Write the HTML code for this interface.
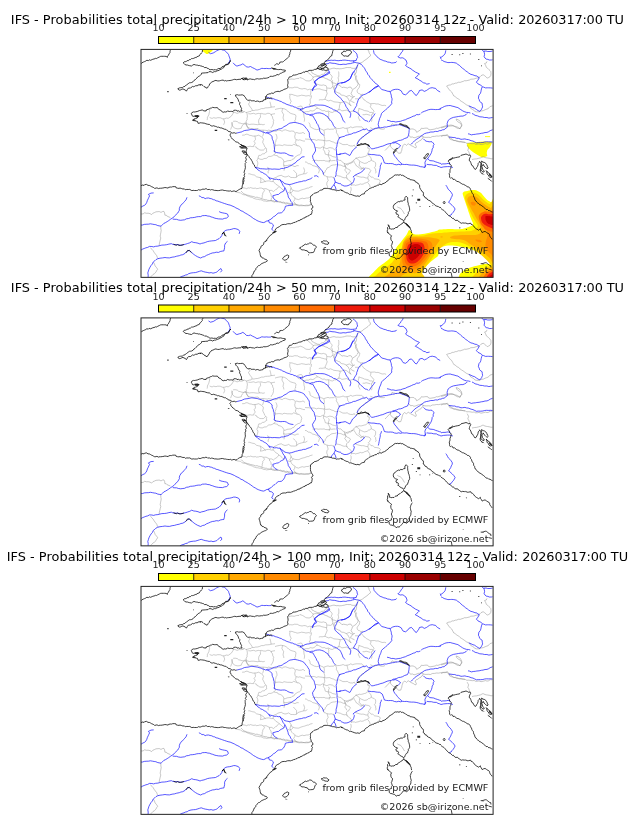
<!DOCTYPE html><html><head><meta charset="utf-8"><title>IFS - Probabilities total precipitation</title>
<style>html,body{margin:0;padding:0;background:#fff}svg{display:block}text{font-family:"DejaVu Sans","Liberation Sans",sans-serif}</style></head><body>
<svg width="630" height="828" viewBox="0 0 630 828">
<defs><clipPath id="clip"><rect x="141.0" y="49.4" width="352.1" height="228.0"/></clipPath><filter id="soft" x="-5%" y="-5%" width="110%" height="110%"><feGaussianBlur stdDeviation="0.45"/></filter></defs>
<rect width="630" height="828" fill="#fff"/>
<g transform="translate(0,0)" clip-path="url(#clip)">
<g filter="url(#soft)">
<path d="M201.9,49.1 C203.5,48.7 211.0,48.8 212.7,49.1 C214.4,49.4 212.6,50.3 212.1,51.0 C211.5,51.6 210.4,52.4 209.5,52.9 C208.7,53.4 207.7,53.9 207.0,53.9 C206.2,53.9 205.7,53.3 205.1,52.9 C204.4,52.5 203.7,52.0 203.2,51.4 C202.6,50.7 200.3,49.5 201.9,49.1Z" fill="#ffff00"/>
<path d="M466.7,143.4 L470.7,142.6 L475.3,142.3 L479.9,141.7 L484.4,141.5 L489.0,141.7 L491.9,142.3 L491.3,144.6 L489.6,147.4 L487.3,149.9 L486.7,153.1 L487.3,156.0 L485.0,157.1 L482.1,157.5 L479.3,156.0 L476.4,154.3 L473.6,152.6 L470.7,150.3 L468.4,148.0 L467.1,145.7Z" fill="#ffff00"/>
<path d="M485.0,136.2 L490.1,136.2 L490.1,137.1 L485.0,137.1Z" fill="#ffff00"/>
<path d="M365.4,280.9 C366.9,278.7 367.9,278.0 369.0,276.8 C370.0,275.6 370.8,274.9 371.7,273.9 C372.7,272.9 373.9,271.8 374.9,270.7 C376.0,269.7 376.9,268.6 378.1,267.5 C379.3,266.5 380.6,265.6 381.9,264.6 C383.2,263.7 384.6,262.7 385.7,261.8 C386.9,260.9 387.9,260.2 388.9,259.3 C389.8,258.3 390.7,257.2 391.4,256.1 C392.2,255.1 392.7,254.0 393.3,252.9 C394.0,251.9 394.6,250.8 395.2,249.8 C395.9,248.7 396.4,247.6 397.1,246.6 C397.9,245.5 398.8,244.5 399.7,243.4 C400.5,242.4 401.4,241.3 402.2,240.2 C403.1,239.2 404.0,238.0 404.8,237.1 C405.5,236.1 406.1,235.4 406.7,234.5 C407.2,233.7 407.5,232.7 407.9,232.0 C408.4,231.2 408.6,230.1 409.2,230.1 C409.8,230.1 410.9,231.3 411.7,232.0 C412.4,232.6 412.5,233.5 413.6,233.9 C414.6,234.3 416.5,234.5 418.0,234.5 C419.5,234.6 421.0,234.4 422.5,234.1 C423.9,233.9 425.3,233.6 426.9,233.3 C428.5,232.9 430.3,232.4 432.0,232.0 C433.7,231.6 435.9,231.1 437.1,230.7 C438.2,230.4 437.7,230.0 438.7,229.8 C439.8,229.6 441.8,229.5 443.3,229.3 C444.8,229.2 446.3,229.1 447.9,229.0 C449.4,228.9 450.9,228.9 452.4,229.0 C454.0,229.1 455.5,229.3 457.0,229.3 C458.5,229.3 460.2,229.2 461.6,229.0 C462.9,228.8 463.3,228.7 465.0,228.2 C466.7,227.7 470.5,226.4 471.9,225.7 C473.2,225.0 472.9,224.7 473.0,224.0 C473.1,223.3 472.7,222.5 472.4,221.7 C472.1,221.0 471.7,220.3 471.3,219.4 C470.9,218.6 470.5,217.6 470.1,216.6 C469.8,215.5 469.4,214.3 469.0,213.1 C468.6,212.0 468.2,210.9 467.9,209.7 C467.5,208.6 467.1,207.4 466.7,206.3 C466.3,205.1 466.0,204.0 465.6,202.9 C465.2,201.7 464.8,200.6 464.4,199.4 C464.0,198.3 463.6,197.0 463.3,196.0 C463.0,195.0 462.5,193.9 462.7,193.1 C462.9,192.4 463.7,191.8 464.4,191.4 C465.2,191.0 466.2,191.0 467.3,190.9 C468.3,190.7 469.5,190.4 470.7,190.3 C472.0,190.2 473.6,190.0 474.7,190.1 C475.9,190.2 476.6,190.4 477.6,190.9 C478.5,191.3 479.6,191.9 480.4,192.6 C481.3,193.2 482.0,194.1 482.7,194.9 C483.4,195.6 483.8,196.4 484.4,197.1 C485.1,197.9 486.0,198.8 486.7,199.4 C487.5,200.1 488.2,200.7 489.0,201.1 C489.8,201.6 490.1,201.9 491.3,202.3 C492.4,202.7 494.4,188.8 495.9,203.4 C497.3,218.0 522.6,275.6 500.0,290.0 C477.4,304.4 382.4,291.5 360.0,290.0 C337.6,288.5 363.9,283.1 365.4,280.9Z" fill="#ffff00"/>
<path d="M417.4,280.9 C410.9,280.4 418.7,278.1 419.3,276.8 C419.9,275.5 420.4,274.5 421.2,273.3 C421.9,272.0 422.8,270.7 423.7,269.4 C424.7,268.2 425.7,266.9 426.9,265.6 C428.1,264.4 429.4,263.0 430.7,261.8 C432.0,260.7 433.3,259.7 434.5,258.7 C435.8,257.6 437.6,257.2 438.3,255.5 C439.0,253.8 438.1,249.9 438.7,248.4 C439.3,247.0 440.9,247.2 442.1,246.7 C443.4,246.3 444.8,246.0 446.1,245.8 C447.5,245.6 448.7,245.6 450.1,245.6 C451.6,245.6 453.2,245.6 454.7,245.8 C456.2,246.0 457.8,246.2 459.3,246.5 C460.8,246.7 462.3,247.0 463.9,247.3 C465.4,247.6 466.9,248.0 468.4,248.4 C470.0,248.9 471.5,249.3 473.0,249.9 C474.5,250.5 476.0,251.2 477.6,251.9 C479.1,252.6 480.8,253.4 482.1,254.1 C483.5,254.9 484.5,255.7 485.6,256.4 C486.6,257.2 487.7,258.0 488.4,258.7 C489.2,259.5 489.8,260.2 490.1,261.0 C490.5,261.8 490.9,262.8 490.7,263.3 C490.5,263.8 489.9,263.7 489.0,263.9 C488.1,264.0 486.7,264.0 485.6,264.1 C484.4,264.2 483.3,264.2 482.1,264.4 C481.0,264.6 479.9,264.9 478.7,265.2 C477.6,265.5 476.4,265.8 475.3,266.1 C474.1,266.4 473.0,266.7 471.9,267.1 C470.7,267.4 469.6,267.7 468.4,268.2 C467.3,268.7 466.0,269.2 465.0,269.8 C464.0,270.4 463.0,271.1 462.1,271.9 C461.3,272.6 460.4,273.3 459.9,274.1 C459.3,275.0 459.0,276.0 458.7,277.0 C458.4,278.0 465.0,279.2 458.1,279.9 C451.3,280.5 423.9,281.4 417.4,280.9Z" fill="#ffffff"/>
<path d="M374.4,279.0 C367.0,278.4 375.4,276.4 376.0,275.5 C376.6,274.6 377.1,274.2 378.0,273.4 C378.9,272.6 380.4,271.7 381.6,270.8 C382.8,269.9 383.9,269.0 385.1,268.1 C386.3,267.2 387.6,266.3 388.7,265.4 C389.8,264.5 390.9,263.8 391.8,262.8 C392.7,261.9 393.3,260.8 394.0,259.7 C394.7,258.6 395.5,257.2 396.2,256.1 C396.9,255.0 397.3,254.0 398.0,253.0 C398.7,252.0 399.5,251.4 400.2,250.3 C400.9,249.2 401.8,247.8 402.2,246.5 C402.6,245.2 402.4,243.5 402.9,242.2 C403.4,240.9 404.4,239.7 405.1,238.7 C405.8,237.7 406.5,236.8 407.3,236.2 C408.1,235.6 409.0,235.1 410.0,235.0 C411.0,234.9 412.0,235.3 413.1,235.4 C414.2,235.5 415.5,235.7 416.7,235.8 C417.9,235.9 419.0,235.9 420.2,235.8 C421.4,235.7 422.6,235.6 423.8,235.4 C425.0,235.2 426.1,234.9 427.3,234.6 C428.5,234.3 429.7,234.0 430.9,233.8 C432.1,233.6 433.2,233.4 434.4,233.3 C435.6,233.2 436.8,233.1 438.0,233.0 C439.2,232.9 440.5,233.0 441.6,232.9 C442.7,232.8 443.2,232.7 444.4,232.6 C445.6,232.5 447.4,232.3 448.9,232.2 C450.4,232.1 451.8,232.1 453.3,232.0 C454.8,231.9 456.3,231.9 457.8,231.8 C459.3,231.7 460.7,231.7 462.2,231.6 C463.7,231.5 465.2,231.4 466.7,231.3 C468.2,231.2 469.8,231.2 471.1,230.9 C472.4,230.6 473.7,230.2 474.7,229.6 C475.7,229.0 476.8,228.1 477.3,227.3 C477.8,226.6 477.8,225.8 477.6,225.1 C477.5,224.4 476.9,223.7 476.4,222.9 C475.9,222.2 475.3,221.5 474.7,220.6 C474.1,219.7 473.6,218.8 473.0,217.7 C472.4,216.6 471.8,215.4 471.3,214.3 C470.8,213.2 470.3,212.1 469.8,210.9 C469.3,209.8 468.7,208.6 468.2,207.4 C467.7,206.2 467.1,205.1 466.7,204.0 C466.3,202.9 465.9,201.8 465.6,200.6 C465.3,199.4 464.8,198.1 465.0,197.1 C465.2,196.1 465.9,195.0 466.7,194.3 C467.5,193.6 468.6,193.1 469.6,192.8 C470.7,192.5 471.9,192.5 473.0,192.6 C474.1,192.7 475.3,193.0 476.4,193.5 C477.4,194.0 478.4,194.7 479.3,195.4 C480.2,196.1 480.8,196.9 481.6,197.7 C482.4,198.5 483.0,199.2 483.9,200.0 C484.8,200.8 485.8,201.6 486.7,202.3 C487.6,203.0 488.2,203.5 489.6,204.0 C491.0,204.5 494.1,194.8 495.0,205.1 C495.9,215.3 495.8,255.7 495.0,265.5 C494.2,275.3 491.7,264.7 490.5,264.0 C489.3,263.3 488.9,262.4 488.0,261.5 C487.1,260.6 486.2,259.6 485.0,258.5 C483.8,257.4 482.3,256.0 480.6,254.6 C478.9,253.2 476.8,251.3 475.0,250.0 C473.2,248.7 471.6,247.7 469.9,246.7 C468.2,245.7 466.8,244.6 465.0,243.9 C463.2,243.2 461.1,242.6 459.4,242.3 C457.7,242.0 456.1,241.9 454.7,241.9 C453.2,241.9 452.0,242.0 450.7,242.3 C449.4,242.6 447.9,243.0 446.7,243.5 C445.5,244.0 444.6,244.8 443.6,245.5 C442.6,246.2 441.7,247.1 440.8,247.9 C439.9,248.7 439.2,249.3 438.4,250.2 C437.6,251.0 436.8,252.0 436.0,253.0 C435.2,254.0 434.5,255.1 433.7,256.2 C432.9,257.3 432.1,258.3 431.3,259.4 C430.5,260.4 429.7,261.4 428.9,262.5 C428.1,263.6 427.3,264.6 426.5,265.7 C425.7,266.8 424.8,268.1 424.1,269.3 C423.4,270.5 422.7,271.3 422.1,272.9 C421.5,274.5 428.6,278.0 420.6,279.0 C412.7,280.0 381.8,279.6 374.4,279.0Z" fill="#ffd000"/>
<path d="M384.2,279.0 C382.3,278.3 386.6,275.9 387.8,274.8 C389.0,273.7 390.1,273.4 391.3,272.6 C392.5,271.9 393.8,271.1 394.9,270.3 C395.9,269.5 396.9,268.6 397.6,267.7 C398.3,266.8 398.9,265.7 399.3,264.6 C399.8,263.5 400.1,262.4 400.3,261.0 C400.6,259.6 400.6,257.7 400.8,256.0 C401.0,254.3 401.2,252.7 401.5,251.0 C401.8,249.3 402.1,247.6 402.5,246.0 C402.9,244.4 403.2,242.8 404.0,241.5 C404.8,240.2 405.8,239.2 407.0,238.5 C408.2,237.8 409.5,237.2 411.0,237.0 C412.5,236.8 414.3,236.9 416.0,237.0 C417.7,237.1 419.3,237.3 421.0,237.3 C422.7,237.3 424.3,237.2 426.0,237.2 C427.7,237.2 429.5,237.3 431.0,237.5 C432.5,237.7 433.8,238.1 435.0,238.3 C436.2,238.6 437.2,238.7 438.0,239.0 C438.8,239.3 439.4,239.5 439.6,239.9 C439.8,240.3 439.4,240.9 439.0,241.5 C438.6,242.1 438.0,242.8 437.5,243.5 C437.0,244.2 436.4,245.1 435.8,246.0 C435.2,246.9 434.6,248.0 434.0,249.0 C433.4,250.0 432.9,251.0 432.3,252.0 C431.7,253.0 431.2,254.0 430.6,255.0 C430.1,256.0 429.6,257.0 429.0,258.0 C428.4,259.0 427.7,260.0 427.0,261.0 C426.3,262.0 425.8,262.9 425.0,264.0 C424.2,265.1 423.4,266.2 422.5,267.3 C421.6,268.4 420.9,269.6 419.8,270.5 C418.7,271.4 417.5,272.6 416.0,273.0 C414.5,273.4 412.6,273.0 411.0,273.0 C409.4,273.0 407.7,272.9 406.4,273.2 C405.1,273.5 404.0,274.4 403.0,275.0 C402.0,275.6 401.1,276.3 400.5,277.0 C399.9,277.7 402.0,278.7 399.3,279.0 C396.6,279.3 386.1,279.7 384.2,279.0Z" fill="#ffa800"/>
<path d="M450.0,237.2 C450.1,236.8 451.2,236.5 452.0,236.2 C452.8,235.9 453.5,235.8 454.7,235.6 C455.9,235.4 457.7,235.3 459.4,235.2 C461.1,235.1 463.2,234.9 465.0,234.9 C466.8,234.9 468.2,235.0 470.0,235.0 C471.8,235.0 474.1,235.2 475.6,235.0 C477.1,234.8 478.2,234.5 479.1,234.0 C480.0,233.5 480.6,232.8 481.0,232.0 C481.4,231.2 481.4,230.5 481.3,229.5 C481.2,228.5 480.9,227.2 480.5,226.0 C480.1,224.8 479.6,223.6 479.0,222.5 C478.4,221.4 477.6,220.4 477.0,219.4 C476.4,218.4 475.9,217.7 475.3,216.6 C474.7,215.5 474.2,214.2 473.6,213.1 C473.0,211.9 472.2,210.8 471.6,209.7 C471.0,208.6 470.4,207.4 469.8,206.3 C469.2,205.2 468.6,204.1 468.2,202.9 C467.8,201.8 467.2,200.5 467.3,199.4 C467.4,198.3 468.2,197.3 469.0,196.6 C469.8,195.9 470.9,195.5 471.9,195.4 C472.8,195.3 473.8,195.6 474.7,196.0 C475.6,196.4 476.7,197.0 477.6,197.7 C478.5,198.4 479.1,199.2 479.9,200.0 C480.6,200.8 481.2,201.5 482.1,202.3 C483.0,203.1 484.0,203.9 485.0,204.6 C486.0,205.3 486.9,205.9 487.9,206.5 C488.8,207.1 489.5,207.7 490.7,208.0 C491.9,208.3 494.3,199.8 495.0,208.6 C495.7,217.3 496.0,252.4 495.0,260.5 C494.0,268.6 490.8,258.5 489.1,257.4 C487.4,256.3 486.4,255.2 485.0,254.0 C483.6,252.8 482.3,251.5 480.6,250.3 C478.9,249.1 476.8,248.1 475.0,247.0 C473.2,245.9 471.6,245.0 469.9,243.9 C468.2,242.8 466.8,241.4 465.0,240.6 C463.2,239.8 461.1,239.6 459.4,239.3 C457.7,239.0 456.0,239.0 454.7,238.9 C453.4,238.8 452.3,238.9 451.5,238.6 C450.7,238.3 449.9,237.6 450.0,237.2Z" fill="#ffa800"/>
<path d="M440.6,236.5 L442.5,236.3 L442.5,237.5 L440.6,237.6Z" fill="#ffa800"/>
<path d="M405.5,241.5 C406.5,240.5 408.4,239.5 410.0,239.0 C411.6,238.5 413.1,238.5 415.0,238.5 C416.9,238.5 419.3,238.6 421.3,238.8 C423.3,239.0 425.3,239.3 426.9,239.8 C428.5,240.3 430.0,240.9 430.9,241.9 C431.8,242.9 432.5,244.3 432.5,245.9 C432.5,247.5 431.6,249.7 430.9,251.4 C430.2,253.1 429.2,254.6 428.1,256.2 C427.0,257.8 425.8,259.5 424.5,261.0 C423.2,262.5 421.9,264.1 420.6,265.3 C419.3,266.6 418.0,267.7 416.6,268.5 C415.2,269.3 413.4,269.8 412.0,270.0 C410.6,270.2 409.2,269.9 408.0,269.5 C406.8,269.1 405.4,268.6 404.5,267.5 C403.6,266.4 402.9,264.9 402.5,263.0 C402.1,261.1 402.2,258.3 402.3,256.0 C402.4,253.7 402.9,250.8 403.2,249.0 C403.5,247.2 403.6,246.2 404.0,245.0 C404.4,243.8 404.5,242.5 405.5,241.5Z" fill="#ff8a00"/>
<path d="M407.0,242.8 C408.0,242.0 410.2,240.9 412.0,240.5 C413.8,240.1 416.2,240.2 418.0,240.3 C419.8,240.4 421.5,240.6 423.0,241.0 C424.5,241.4 426.0,241.4 426.9,242.5 C427.8,243.6 428.5,245.6 428.5,247.5 C428.5,249.4 427.7,252.0 426.9,253.8 C426.1,255.7 424.9,257.0 423.7,258.6 C422.5,260.2 421.2,262.1 419.8,263.3 C418.4,264.5 417.0,265.5 415.5,266.0 C414.0,266.5 412.4,266.7 411.0,266.5 C409.6,266.3 408.0,265.9 407.0,265.0 C406.0,264.1 405.2,262.7 404.8,261.0 C404.4,259.3 404.5,257.0 404.5,255.0 C404.5,253.0 404.8,250.6 405.0,249.0 C405.2,247.4 405.5,246.5 405.8,245.5 C406.1,244.5 406.0,243.6 407.0,242.8Z" fill="#ff6a00"/>
<path d="M409.0,244.3 C410.0,243.6 411.9,242.6 413.5,242.3 C415.1,242.0 417.0,242.2 418.5,242.3 C420.0,242.5 421.5,242.5 422.5,243.2 C423.5,243.9 424.0,245.1 424.3,246.5 C424.6,247.9 425.0,249.5 424.5,251.4 C424.0,253.3 422.5,256.1 421.3,257.8 C420.1,259.5 418.7,260.8 417.4,261.7 C416.1,262.6 414.8,263.3 413.5,263.5 C412.2,263.7 410.6,263.6 409.5,263.0 C408.4,262.4 407.5,261.3 407.0,260.0 C406.5,258.7 406.3,256.7 406.3,255.0 C406.3,253.3 406.6,251.4 406.8,250.0 C407.0,248.6 407.2,247.4 407.6,246.5 C408.0,245.6 408.0,245.0 409.0,244.3Z" fill="#ee1a0a"/>
<path d="M410.9,245.9 C411.8,245.3 413.2,244.4 414.5,244.2 C415.8,244.0 417.4,244.1 418.5,244.5 C419.6,244.9 420.5,245.5 421.0,246.5 C421.5,247.5 421.6,249.1 421.3,250.6 C421.0,252.1 420.0,254.0 419.0,255.4 C418.0,256.8 416.7,258.1 415.5,259.0 C414.3,259.9 413.0,260.5 412.0,260.5 C411.0,260.5 409.9,259.8 409.3,259.0 C408.7,258.2 408.4,256.9 408.2,255.6 C408.0,254.3 408.2,252.8 408.4,251.5 C408.6,250.2 408.9,248.9 409.3,248.0 C409.7,247.1 410.0,246.5 410.9,245.9Z" fill="#cc0000"/>
<path d="M475.5,239.5 C475.8,239.2 477.9,239.5 479.0,239.8 C480.1,240.1 481.8,240.9 482.0,241.3 C482.2,241.7 480.8,242.2 480.0,242.2 C479.2,242.2 477.8,241.9 477.0,241.5 C476.2,241.1 475.2,239.8 475.5,239.5Z" fill="#ff8a00"/>
<path d="M470.7,202.3 C471.0,201.8 472.7,201.5 473.6,201.7 C474.4,201.9 475.7,202.8 475.9,203.4 C476.0,204.0 475.4,205.1 474.7,205.4 C474.0,205.6 472.5,205.4 471.9,204.9 C471.2,204.4 470.4,202.8 470.7,202.3Z" fill="#ff8a00"/>
<path d="M481.0,216.0 C481.2,214.8 482.2,214.2 483.0,213.5 C483.8,212.8 484.8,212.2 486.0,212.0 C487.2,211.8 488.5,211.9 490.0,212.0 C491.5,212.1 494.2,205.2 495.0,212.5 C495.8,219.8 495.7,249.1 495.0,256.0 C494.3,262.9 492.2,254.9 491.0,254.0 C489.8,253.1 488.4,251.8 487.5,250.5 C486.6,249.2 485.8,247.6 485.5,246.0 C485.2,244.4 485.7,242.7 486.0,241.0 C486.3,239.3 487.3,237.7 487.5,236.0 C487.7,234.3 487.5,232.7 487.0,231.0 C486.5,229.3 485.4,227.7 484.5,226.0 C483.6,224.3 482.1,222.7 481.5,221.0 C480.9,219.3 480.8,217.2 481.0,216.0Z" fill="#ff8a00"/>
<path d="M478.7,216.6 C478.8,215.0 480.0,214.0 481.0,213.1 C482.0,212.3 483.2,211.7 484.4,211.4 C485.7,211.2 486.7,211.6 488.4,211.8 C490.1,212.0 493.7,209.5 494.7,212.6 C495.8,215.7 496.0,227.3 494.7,230.3 C493.4,233.2 488.6,230.9 486.7,230.3 C484.8,229.7 484.3,228.1 483.3,226.9 C482.2,225.6 481.2,224.6 480.4,222.9 C479.7,221.1 478.6,218.2 478.7,216.6Z" fill="#ff6a00"/>
<path d="M481.0,217.7 C481.1,216.5 482.0,215.5 482.7,214.9 C483.5,214.2 484.5,213.8 485.6,213.7 C486.6,213.6 487.5,214.0 489.0,214.3 C490.5,214.6 493.8,213.1 494.7,215.4 C495.7,217.7 495.7,226.1 494.7,228.0 C493.8,229.9 490.6,227.3 489.0,226.9 C487.4,226.4 486.1,225.9 485.0,225.1 C483.9,224.4 482.8,223.5 482.1,222.3 C481.5,221.0 480.9,219.0 481.0,217.7Z" fill="#ee1a0a"/>
<path d="M485.6,216.6 C486.0,215.8 487.5,216.2 489.0,216.3 C490.5,216.5 493.8,216.3 494.7,217.7 C495.7,219.1 495.7,223.5 494.7,224.6 C493.8,225.6 490.4,224.6 489.0,224.0 C487.6,223.4 486.7,222.4 486.1,221.1 C485.6,219.9 485.1,217.4 485.6,216.6Z" fill="#cc0000"/>
<path d="M473.0,279.0 C469.7,278.2 474.0,275.4 475.0,274.0 C476.0,272.6 477.5,271.5 479.0,270.5 C480.5,269.5 482.3,268.7 484.0,268.0 C485.7,267.3 487.2,266.8 489.0,266.5 C490.8,266.2 494.0,263.9 495.0,266.0 C496.0,268.1 498.7,276.8 495.0,279.0 C491.3,281.2 476.3,279.8 473.0,279.0Z" fill="#ffd000"/>
<path d="M479.0,279.0 C476.6,278.3 479.8,276.2 480.5,275.0 C481.2,273.8 482.2,272.9 483.5,272.0 C484.8,271.1 486.1,270.0 488.0,269.3 C489.9,268.6 493.8,266.2 495.0,267.8 C496.2,269.4 497.7,277.1 495.0,279.0 C492.3,280.9 481.4,279.7 479.0,279.0Z" fill="#ffa800"/>
<path d="M483.4,279.0 C481.6,278.4 484.0,276.5 484.5,275.5 C485.0,274.5 485.6,273.8 486.5,273.0 C487.4,272.2 488.6,271.4 490.0,270.8 C491.4,270.2 494.2,268.3 495.0,269.7 C495.8,271.1 496.9,277.4 495.0,279.0 C493.1,280.6 485.1,279.6 483.4,279.0Z" fill="#ff6a00"/>
<path d="M486.3,279.0 C485.0,278.5 486.9,276.8 487.3,276.0 C487.8,275.2 488.3,274.6 489.0,274.0 C489.7,273.4 490.5,272.7 491.5,272.3 C492.5,271.9 494.4,270.5 495.0,271.6 C495.6,272.7 496.4,277.8 495.0,279.0 C493.6,280.2 487.6,279.5 486.3,279.0Z" fill="#ee1a0a"/>
<path d="M489.0,279.0 C488.1,278.6 489.4,277.2 489.8,276.5 C490.2,275.8 490.6,275.3 491.5,274.8 C492.4,274.3 494.4,272.9 495.0,273.6 C495.6,274.3 496.0,278.1 495.0,279.0 C494.0,279.9 489.9,279.4 489.0,279.0Z" fill="#cc0000"/>
<path d="M389.0,71.8 L390.6,71.8 L390.6,73.0 L389.0,73.0Z" fill="#ffff00"/>
</g>
<path d="M210.2,109.3 L209.5,110.5 L209.6,111.5 L209.0,113.8 L208.9,114.6 L208.0,116.3 L207.4,117.5 L207.4,118.7 L207.1,120.1 M209.6,117.5 L211.1,118.1 L212.1,118.4 L213.7,117.7 L216.0,118.2 L217.5,117.7 L219.4,117.7 L220.8,117.9 L222.2,118.7 L223.4,118.8 L224.6,118.7 L226.7,118.0 L228.1,118.4 L228.9,117.9 L230.9,116.4 L231.6,115.8 L232.8,113.9 L233.4,112.8 L233.7,111.8 M231.8,122.0 L231.9,123.2 L232.3,124.8 L232.4,125.7 L231.5,127.2 L230.6,129.6 M233.1,112.5 L234.8,112.4 L237.1,113.4 L239.3,112.5 L240.3,112.7 L242.2,112.6 L243.9,111.8 M246.4,112.5 L247.0,113.5 L247.3,115.4 L247.4,116.5 L247.0,118.4 L247.1,119.7 L246.1,121.2 L246.5,122.5 L246.0,123.9 L246.4,125.2 L246.8,126.5 L248.1,127.3 L248.3,129.0 M241.3,111.2 L242.7,112.0 L244.8,111.5 L245.9,112.6 L248.0,112.1 L249.2,111.6 L251.1,111.4 L251.8,110.7 L252.0,109.4 L251.0,107.9 L250.4,107.2 L249.4,105.7 L248.5,104.0 L249.9,102.1 L248.3,100.4 M252.1,110.5 L254.1,110.5 L255.6,110.1 L257.4,110.0 L259.3,109.5 L261.5,108.6 L263.5,108.6 L265.4,107.9 L267.4,107.8 L269.8,107.6 L271.1,107.1 L273.6,106.9 L275.0,106.7 M248.3,113.7 L250.4,113.9 L252.0,113.6 L253.8,113.3 L255.5,114.1 L258.2,113.4 L259.7,113.6 L261.4,113.4 L263.6,114.0 L265.9,114.1 L267.1,113.4 L269.2,113.3 L271.1,114.5 L272.9,114.0 L275.0,113.7 M233.1,121.3 L235.2,121.2 L237.3,121.6 L238.6,122.8 L240.2,123.1 L241.9,123.7 L243.4,123.9 L245.8,123.9 M245.8,123.9 L247.4,123.9 L249.2,124.5 L251.5,124.2 L253.7,124.2 L255.1,124.4 L257.6,124.7 L259.4,124.4 L261.5,124.4 L263.0,124.8 L264.8,124.3 M261.0,114.1 L260.3,115.1 L260.6,117.0 L260.0,117.9 L259.1,119.1 L258.7,120.5 L258.6,121.8 L258.9,123.4 L259.8,124.5 M269.9,101.7 L270.6,104.2 L271.2,107.4 M271.2,114.1 L271.4,115.8 L272.5,116.6 L272.7,118.5 L273.7,120.3 L273.3,121.6 L273.5,123.0 L272.9,124.9 L272.3,126.2 L271.3,127.4 L271.2,128.3 M223.6,118.8 L224.0,120.1 L224.7,122.1 L224.2,123.4 L223.6,124.8 M288.3,79.1 L289.4,79.6 L291.0,79.0 L292.9,79.1 L294.2,79.3 L295.3,78.9 L296.8,78.5 L299.0,78.4 L299.9,77.5 L302.4,78.4 L303.5,79.0 L305.4,80.3 L306.9,80.9 L308.1,80.8 L309.0,81.1 L311.0,80.2 L312.3,79.1 L313.4,77.0 L312.4,76.5 L311.6,75.6 L310.3,74.1 L308.9,73.4 L307.4,71.5 M289.0,88.0 L290.3,87.7 L292.2,87.9 L293.8,87.5 L294.6,87.2 L296.4,87.3 L297.7,87.4 L299.0,88.3 L300.5,88.7 L302.1,89.0 L303.6,88.6 L305.2,88.6 L306.7,89.2 L307.7,89.9 L309.6,89.2 L311.7,89.6 L312.4,89.2 L313.8,89.7 L315.7,89.3 L317.3,88.9 L319.9,88.9 L321.8,89.7 L322.9,89.9 L324.4,90.3 L326.7,90.7 L326.8,89.6 L326.7,88.0 L326.5,86.6 L326.1,85.7 L324.9,85.4 L323.4,84.9 L321.8,85.3 L319.5,85.0 L318.6,84.6 L316.5,84.0 L315.8,83.7 L314.5,82.5 L314.2,81.0 L313.1,79.1 M311.2,89.9 L310.8,91.5 L310.8,92.9 L310.5,94.8 L311.5,96.0 L311.1,98.2 L310.2,99.1 L310.2,100.9 L310.4,103.1 L309.5,104.2 L309.3,105.2 M289.0,94.4 L291.0,94.3 L293.2,94.7 L293.8,95.2 L295.3,95.4 L297.1,96.1 L298.6,95.9 L300.5,95.5 L301.4,95.2 L303.1,95.4 L304.8,95.7 L305.9,96.0 L308.1,95.7 L308.9,95.6 L310.6,96.3 M290.2,95.0 L289.7,96.1 L289.9,98.5 L290.6,100.2 L291.2,101.4 L290.6,102.1 L290.2,103.9 M326.4,90.5 L326.6,91.9 L327.2,93.3 L326.5,95.2 L325.8,96.8 L325.1,98.4 L325.5,99.5 L326.4,100.0 L328.7,100.9 L330.5,100.3 L332.5,101.1 L333.8,101.8 L336.3,102.1 L337.6,102.2 L339.8,102.6 M318.8,100.1 L320.3,99.7 L322.2,99.8 L323.4,99.6 L325.2,99.4 M297.2,107.1 L298.9,106.6 L300.2,106.1 L301.5,106.1 L302.3,107.1 L302.9,109.8 L301.5,109.8 L300.3,110.3 L299.1,110.2 L297.6,109.3 M275.0,109.6 L276.4,109.1 L279.2,108.5 L281.0,108.2 L282.8,108.6 L284.3,108.8 L286.2,109.8 L287.7,111.0 L288.8,112.2 L290.7,113.4 L292.0,113.8 L293.4,114.2 L295.3,114.7 M302.9,112.1 L304.7,112.1 L306.4,111.6 L308.9,111.6 L310.1,110.6 L312.5,111.0 L314.0,110.6 L315.5,109.3 L317.3,107.9 L315.5,106.1 L314.0,105.8 L313.3,105.6 L310.8,105.6 L309.3,105.2 M316.9,108.3 L318.8,108.6 L321.0,109.9 L322.3,110.7 L324.8,110.6 L325.9,111.5 L328.7,111.1 L330.5,112.1 L332.3,112.5 L334.5,111.3 L336.3,111.3 L337.0,110.4 L338.7,109.9 L339.2,108.1 L339.5,107.1 L339.4,105.9 L340.2,103.8 L339.8,102.6 M328.3,111.5 L328.8,113.3 L328.6,115.0 L328.9,116.1 L327.9,117.6 L329.2,119.4 L329.6,121.0 M334.7,91.8 L336.9,92.1 L338.1,92.9 L340.1,93.4 L340.6,94.6 L341.9,95.2 L343.8,95.4 L346.3,96.6 L347.9,95.9 L349.5,95.5 L350.9,96.6 L352.7,97.2 L353.8,96.8 L355.0,96.3 M327.1,88.0 L328.6,88.2 L330.7,88.4 L332.1,87.4 L332.6,86.5 L333.8,88.1 L334.0,89.2 L334.8,91.0 L334.7,91.8 M346.1,96.3 L347.0,97.6 L348.4,98.6 L348.7,99.7 L349.9,101.6 L349.3,102.5 L349.8,103.9 L350.1,105.2 L351.2,105.8 M295.3,114.7 L296.0,116.1 L295.6,118.0 L295.6,119.5 L294.8,120.2 L295.3,122.3 M282.6,108.3 L282.3,109.7 L281.9,111.5 L283.0,113.5 L283.7,114.7 L283.4,115.9 L283.0,118.0 L283.6,119.3 L283.9,121.0 M302.9,112.1 L303.7,113.2 L303.9,115.6 L304.1,117.2 L304.6,118.7 L304.5,120.0 L304.2,121.7 M339.8,102.6 L341.4,102.6 L343.8,101.6 L346.0,102.0 L347.3,102.5 L348.7,104.1 L350.4,104.9 L351.2,105.8 M338.5,109.6 L340.3,109.8 L341.9,110.9 L344.3,110.5 L346.6,110.1 L347.9,110.8 L349.6,111.9 L351.9,111.2 L353.7,110.9 M307.4,71.5 L310.6,70.2 M313.1,77.2 L314.9,76.6 L316.7,76.6 L318.8,76.4 L320.8,75.0 L321.9,74.3 L323.7,74.3 L325.2,72.5 L325.8,71.5 M325.8,71.5 L327.3,72.1 L328.4,72.8 L329.1,73.0 L331.0,74.9 L332.0,76.4 L332.1,77.3 L331.1,79.2 L332.3,80.4 L332.3,82.3 L332.3,84.0 L332.9,85.0 L332.8,86.7 M338.5,71.5 L338.8,72.8 L338.8,74.4 L338.8,76.2 L338.1,77.7 L338.5,79.5 L338.6,80.9 L337.9,82.3 L337.7,84.4 L336.0,85.3 L334.3,85.9 L334.1,88.0 L334.0,89.3 M355.0,72.8 L355.1,74.3 L356.6,76.2 L356.2,77.3 L355.4,79.3 L356.4,80.9 L357.4,82.6 L358.6,83.9 L359.9,84.7 L359.6,85.9 L359.2,87.5 L357.9,89.2 L357.2,90.4 L357.2,92.1 L358.2,93.3 L359.4,93.6 L361.0,94.7 L362.0,94.2 L363.3,94.4 M360.7,95.0 L361.4,96.7 L362.9,98.3 L363.8,99.7 L365.3,100.4 L366.5,101.8 L367.9,102.3 L369.1,103.1 L370.5,103.7 L373.0,103.6 L374.4,103.5 L376.2,104.0 L378.1,103.9 L380.1,104.7 L382.1,105.5 L384.6,105.3 L386.1,105.8 M370.9,103.9 L370.8,105.7 L370.3,106.8 L371.6,108.5 L371.7,108.8 L372.9,109.6 L374.0,111.3 L373.3,112.5 L373.2,112.9 L372.9,114.1 L371.2,114.9 L371.7,116.5 L371.8,118.2 L371.9,120.0 L371.5,121.7 M358.8,108.3 L360.5,109.0 L362.9,109.8 L364.4,110.6 L366.7,110.9 L368.3,111.3 L369.9,112.5 L371.9,112.4 L373.4,113.4 M355.0,98.8 L358.2,98.8 L360.7,98.2 M362.6,114.7 L364.9,114.7 L366.0,114.2 L368.1,114.7 L370.2,115.3 M358.8,108.3 L358.8,109.8 L358.2,111.7 L358.5,113.2 L359.4,115.2 L358.8,116.5 L358.4,117.6 L359.1,119.1 L360.1,121.0 M245.3,122.5 L246.0,123.8 L246.9,125.3 L247.7,127.3 L248.1,127.9 L250.7,128.5 L252.7,128.7 L254.1,129.0 L256.0,128.7 L258.1,128.5 L259.3,129.9 L260.8,130.2 L263.1,130.1 M242.1,135.2 L244.3,135.1 L246.1,134.2 L247.9,134.4 L249.2,135.2 L250.2,135.4 L251.8,135.7 L252.9,136.1 L254.7,136.1 L256.7,135.8 L258.5,135.2 L259.8,135.8 L261.4,136.8 L262.6,137.7 L263.6,139.5 L263.2,140.2 L262.7,142.4 L263.2,143.3 L264.2,145.3 L264.8,146.9 L265.4,147.4 L266.7,148.9 L266.4,150.1 L266.8,151.9 L265.3,152.6 L264.4,153.8 L262.5,153.9 L260.8,155.3 L258.8,155.4 L258.2,157.3 L258.0,158.1 M246.0,146.6 L247.5,146.8 L250.1,146.2 L251.2,146.5 L253.6,146.6 L253.9,145.4 L255.1,143.7 L254.9,142.7 L254.0,141.3 L254.8,140.4 L255.5,139.4 L255.2,137.4 L254.8,135.8 M254.8,146.6 L256.6,147.3 L256.9,148.4 L258.5,149.1 L259.8,150.0 L261.9,150.1 L263.5,150.0 L264.6,149.1 L265.6,147.9 M258.0,158.1 L259.4,158.9 L260.9,159.4 L262.9,159.3 L264.0,158.5 L266.3,158.4 L268.0,157.0 L268.8,156.4 L270.9,156.4 L272.4,155.8 L273.9,154.9 L275.6,153.1 L274.5,151.1 M258.0,158.1 L257.5,159.4 L256.7,160.9 L257.5,161.5 L257.9,163.1 L257.6,164.8 L257.2,166.2 L256.1,168.2 M273.9,154.9 L275.4,155.4 L277.5,155.7 L278.2,157.0 L280.1,157.4 L281.6,158.2 L282.5,158.8 L283.8,161.0 L283.8,161.8 L283.6,163.0 L283.8,165.4 L283.8,166.1 L284.9,167.9 L284.3,169.1 L284.0,170.8 M275.2,145.4 L276.5,145.3 L278.7,145.1 L279.9,145.1 L282.6,145.6 L284.0,144.7 L285.5,145.0 L287.4,145.3 L289.9,145.3 L292.1,145.5 L293.7,144.3 L295.6,145.0 L297.1,145.8 L299.2,145.9 L300.3,147.1 L301.3,148.4 L301.8,150.1 L301.2,151.6 L301.0,153.4 L300.7,153.8 L299.3,154.9 M275.8,133.9 L276.5,135.1 L277.0,137.2 L276.9,138.5 L276.0,139.9 L275.9,141.2 L275.0,142.9 L275.6,145.4 L274.7,147.3 L274.5,149.4 L274.5,151.1 M278.3,130.1 L279.9,130.2 L282.1,131.2 L283.7,130.1 L285.6,129.8 L287.7,130.6 L290.0,131.3 L291.6,131.0 L293.8,131.2 L294.4,132.1 L295.2,133.1 L295.2,134.7 L294.7,136.2 L295.1,138.4 L296.0,139.8 L295.8,141.3 L295.2,142.5 L296.3,144.3 L297.4,145.4 M267.5,166.9 L268.2,168.0 L269.0,170.1 L268.1,171.5 L268.2,173.3 M283.4,165.0 L285.0,165.7 L287.3,165.5 L288.9,165.1 L290.8,164.9 L293.2,166.0 L295.0,166.7 L296.9,165.6 L298.7,165.7 M295.5,132.7 L296.9,132.6 L299.0,133.3 L301.5,133.1 L303.0,132.4 L305.0,133.9 M296.1,139.6 L298.5,140.2 L299.8,139.8 L302.3,140.7 L304.1,141.2 L305.0,140.9 M263.1,130.1 L265.2,130.3 L267.3,130.6 L268.4,130.1 L271.0,130.6 L272.8,130.9 L274.3,131.2 L276.0,131.2 L278.3,130.1 M263.1,130.1 L263.0,131.8 L263.6,133.0 L263.0,135.3 L262.5,136.5 M232.6,122.5 L232.0,123.8 L232.1,125.8 L232.9,126.6 L234.3,127.8 L235.2,128.3 L237.1,128.8 L239.0,128.8 L241.3,128.2 L241.5,127.1 L242.6,125.2 L243.8,124.0 L245.3,122.5 M299.3,154.9 L298.0,155.1 L295.9,156.5 L295.0,157.0 L293.8,159.0 L292.2,159.3 L291.2,160.4 L288.8,160.6 L287.1,160.9 L285.5,161.6 L284.0,161.9 M305.0,139.0 L307.0,139.2 L309.1,139.2 L310.5,139.8 L313.0,139.4 L314.8,139.7 L316.7,140.4 L318.0,139.7 L319.8,140.0 L322.0,140.2 L324.1,140.5 L326.2,140.9 L328.2,140.7 L329.6,140.6 L331.9,141.7 L333.4,142.0 L335.1,143.1 L336.8,143.1 L338.3,142.8 M324.0,135.2 L324.2,136.6 L324.7,138.6 L324.7,139.5 L324.2,140.8 L324.7,143.1 L324.7,144.6 L323.8,146.7 L323.7,147.7 L323.3,149.5 L324.5,151.2 L325.0,153.0 L325.3,154.2 M315.2,147.3 L317.1,147.6 L318.9,148.0 L320.5,148.0 L322.4,146.9 L324.9,148.0 L326.9,148.7 L328.9,147.8 L329.9,147.6 L332.6,148.2 L334.2,149.4 L335.5,150.4 M325.3,154.2 L326.9,154.6 L329.5,155.1 L330.9,155.5 L332.7,156.6 L334.8,157.0 L336.1,157.4 M312.6,160.6 L314.3,160.5 L316.4,160.3 L318.2,160.7 L320.4,160.5 L322.2,160.6 L324.1,160.4 L325.5,161.0 L328.1,161.2 L330.1,160.6 L331.5,160.8 L333.9,160.5 L335.5,160.6 M328.5,149.8 L329.3,151.5 L328.7,152.6 L328.4,154.6 L328.3,155.9 L329.1,157.3 L330.2,159.7 L329.5,160.9 L329.1,162.5 M339.3,142.8 L341.0,143.6 L342.9,144.6 L345.5,144.6 L347.2,144.3 L348.4,145.2 L350.3,145.9 L352.8,146.0 L354.3,145.1 L354.6,145.8 L355.8,147.3 M371.0,130.8 L369.2,131.6 L367.9,133.1 L366.4,134.3 L364.8,135.0 L363.3,136.7 L361.7,137.7 L360.2,138.8 L358.5,140.2 L358.1,141.2 L357.4,143.2 L358.1,144.7 L358.3,146.0 M368.5,145.4 L368.2,146.3 L367.6,148.1 L369.3,148.5 L369.3,149.7 L369.0,151.2 L368.1,152.7 L367.2,154.2 M337.4,159.3 L339.1,160.4 L341.0,160.4 L342.5,162.3 L344.5,163.5 L345.5,163.8 L347.8,164.9 L349.6,163.4 L350.6,163.6 L352.3,162.3 L353.6,160.1 L355.3,159.1 L355.9,157.9 L357.5,157.9 L359.4,157.2 L360.3,157.4 L361.7,157.3 L364.5,156.5 L365.8,156.2 L367.0,155.3 L368.5,154.0 M355.8,158.1 L357.2,158.9 L358.8,160.2 L360.1,161.4 L361.2,162.1 L363.6,163.1 L364.6,163.4 L367.1,162.9 L368.5,161.6 L369.8,161.4 L371.3,160.1 L371.1,158.3 L370.5,157.1 L369.1,155.7 L368.5,154.0 M344.4,163.1 L344.5,165.1 L345.7,166.6 L345.7,168.5 L344.7,170.0 L346.0,171.6 L346.9,173.3 M353.9,160.6 L354.0,162.1 L355.4,164.0 L356.5,166.0 L358.7,167.3 L359.3,167.7 L361.1,169.6 L362.3,168.1 L364.0,167.6 M305.0,161.9 L306.5,162.2 L308.3,163.6 L309.5,163.7 L311.5,164.6 L312.7,165.6 L315.0,166.1 L315.9,166.6 L317.7,166.9 M371.0,160.0 L372.3,160.8 L374.4,161.7 L375.5,162.8 L375.7,164.5 L375.4,166.4 L374.4,167.8 L375.6,169.0 L375.7,170.9 L376.1,172.0 L375.5,173.3 M336.7,164.4 L334.8,164.9 L333.0,165.0 L331.0,165.6 L329.8,166.7 L329.0,167.3 L327.1,167.9 L326.4,169.7 L325.1,170.9 L325.2,171.9 L324.0,173.3 M308.8,122.5 L309.9,124.3 L310.2,126.7 L311.1,127.4 L313.1,128.4 L314.3,129.1 L316.7,129.6 L318.8,129.3 L319.7,128.4 L321.7,129.4 L323.6,130.1 L324.2,131.5 L324.4,133.4 L324.0,135.2 M324.0,130.1 L326.4,129.3 L328.0,128.9 L329.5,129.4 L331.2,129.2 L333.4,129.2 L335.5,127.8 L337.2,128.6 L339.6,128.5 L341.5,128.1 L343.1,127.5 L344.9,128.4 L346.9,128.2 M346.9,128.2 L347.6,130.5 L347.8,132.2 L348.1,132.5 L349.4,133.9 M346.9,128.2 L349.1,127.8 L350.8,126.8 L352.4,127.7 L354.6,127.1 L356.3,126.8 L357.9,126.8 L360.6,126.9 L361.6,126.9 L363.0,128.2 L364.7,129.1 M335.5,128.2 L336.2,130.0 L336.6,130.8 L336.3,132.3 L337.9,134.9 L338.3,136.2 L338.8,137.4 L338.7,139.0 M317.7,166.9 L318.2,168.0 L319.5,170.0 L318.9,172.0 L318.3,173.3 M235.0,191.4 L237.0,192.3 L239.1,192.7 L240.5,192.8 L241.6,193.9 L243.1,194.6 L245.6,195.0 L247.0,195.7 L249.5,196.7 L250.7,197.1 L252.2,197.4 L253.3,198.2 L255.1,198.8 L256.2,199.2 L258.1,199.3 L259.2,199.7 L260.4,199.7 L262.1,200.1 L263.3,200.9 L265.5,201.1 L266.5,201.4 L268.6,201.1 L269.4,201.0 L271.1,200.5 L272.4,201.5 L274.5,202.0 L275.9,201.4 L278.2,201.3 L279.9,202.1 L282.0,202.8 L284.0,203.2 L285.9,204.0 L287.6,203.6 L290.1,204.9 L291.1,204.4 L293.1,205.1 L294.9,204.8 L297.2,205.1 L298.9,205.8 L300.7,205.7 L302.7,205.7 L304.7,205.5 L306.6,205.1 L308.2,205.3 L310.2,204.6 L311.2,204.3 M242.0,187.8 L243.0,187.8 L245.3,188.2 L246.1,188.8 L248.3,187.9 L249.4,188.1 L250.5,187.6 L252.5,188.2 L254.0,188.4 L255.2,188.0 L256.3,188.6 L258.6,188.4 L259.3,188.1 L261.3,188.0 L263.3,188.8 L264.5,190.7 L263.5,192.1 L262.7,193.0 L262.8,194.2 L262.2,195.7 L262.3,197.0 L261.7,198.6 M248.3,173.8 L249.5,173.8 L251.4,174.4 L252.8,174.8 L254.3,175.0 L255.4,175.8 L256.3,176.7 L258.1,177.2 L260.8,177.8 L261.3,178.2 L263.0,179.4 L263.7,179.8 L265.5,182.1 M260.4,182.7 L261.9,182.4 L262.9,182.2 L264.6,181.6 L266.4,181.1 L268.3,180.9 L269.2,180.9 L271.5,181.6 L273.4,181.5 L274.6,182.9 L276.1,184.5 L277.5,185.0 L278.9,186.5 L277.6,188.1 L276.6,189.3 L275.6,189.6 L274.6,190.6 L273.6,191.5 L271.5,190.4 L269.5,190.4 L268.1,189.7 L266.0,188.6 L264.8,188.8 L263.6,188.5 M277.5,176.4 L279.3,175.7 L281.3,175.3 L282.9,176.3 L285.0,177.0 L287.1,176.6 L288.6,175.9 L290.9,177.5 L292.6,177.5 L294.5,177.6 L296.6,177.3 L297.7,175.7 L299.5,175.0 L301.6,174.4 L304.0,173.8 L305.6,173.7 L307.4,172.6 M289.0,184.3 L290.1,186.1 L291.2,187.7 L291.7,189.5 L293.4,190.4 L294.9,190.9 L297.1,191.1 L298.9,191.1 L300.9,190.1 L303.3,189.4 L304.6,189.1 L307.2,188.1 L308.4,188.1 L310.1,187.1 L312.5,186.5 M290.9,187.8 L290.5,189.9 L289.9,191.2 L290.6,192.8 L291.2,194.1 L291.9,195.4 L292.9,196.4 L294.7,197.5 L296.3,199.0 L298.6,199.6 L300.0,198.9 L302.3,198.2 L304.0,198.7 L306.3,198.0 L308.1,198.0 L309.9,197.3 M294.7,198.0 L294.8,199.7 L293.6,201.5 L294.3,202.2 L295.0,203.7 L296.4,204.6 L297.2,205.6 M278.8,186.5 L280.4,187.5 L282.2,189.1 L283.1,190.1 L284.5,190.4 M287.7,192.3 L289.7,193.0 L291.4,192.5 L292.0,191.6 L293.4,190.4 M269.3,190.4 L269.7,192.5 L271.0,193.8 L271.2,196.2 L272.2,197.3 L271.1,199.0 L271.2,200.8 M293.4,170.0 L294.7,171.6 L295.6,172.4 L296.6,173.6 L296.5,175.1 L296.6,177.0 M303.6,167.5 L304.1,169.0 L304.6,170.4 L304.3,172.0 L303.6,173.8 M260.4,177.7 L261.0,180.2 L260.4,182.7 M273.1,181.5 L273.3,179.5 L273.9,178.2 L276.4,177.2 L277.5,176.4 M350.6,186.9 L351.1,188.0 L351.2,190.1 L350.5,191.7 L350.6,193.2 M323.3,172.3 L323.5,173.7 L324.2,175.7 L325.1,175.7 L326.6,176.5 L329.1,177.1 L331.3,176.8 L332.2,177.2 L334.3,177.4 M327.1,176.7 L327.6,178.6 L328.2,180.6 L327.0,182.2 L326.7,184.5 L327.5,186.3 L327.7,187.5 M351.2,185.6 L352.2,184.9 L354.6,185.0 L355.4,185.4 L356.7,185.1 L359.0,184.6 L360.2,183.9 L361.7,184.3 L363.3,184.0 L364.1,183.4 L366.3,182.7 L367.3,182.2 L369.3,180.6 L368.2,179.7 L367.8,177.7 L368.1,177.1 L368.3,175.5 M367.7,182.5 L369.6,185.0 L370.2,187.5 M368.3,174.2 L369.5,175.4 L371.0,177.2 L372.3,177.1 L373.5,177.8 L374.7,178.9 L376.1,179.0 L378.3,179.4 L379.8,180.2 L380.5,181.0 L379.5,182.5 L379.2,183.4 L378.5,184.7 M337.2,164.7 L339.4,165.0 L340.9,165.1 L343.3,166.3 L345.3,166.3 L346.0,167.7 L347.5,168.8 L349.5,169.6 L350.5,171.2 L349.3,172.2 L348.9,173.7 L347.8,174.1 L346.5,175.2 L346.6,177.2 L347.5,179.1 L348.4,180.0 L349.3,180.6 L351.0,181.8 L351.6,183.7 L351.2,185.6 M344.8,166.6 L345.3,165.2 L346.4,164.2 L348.3,163.4 L350.3,163.0 L351.1,162.0 L353.1,162.1 M355.0,175.2 L357.1,176.1 L359.0,176.7 L359.8,176.9 L362.1,177.3 L362.8,177.0 L365.1,177.6 L365.9,178.0 L367.7,178.0 M359.4,161.5 L359.6,163.5 L359.0,165.0 L359.3,165.9 L361.0,167.1 L361.5,168.4 L363.3,168.4 L364.3,169.8 M364.8,167.6 L366.1,168.1 L368.8,168.6 L370.0,169.4 L370.9,170.7 L370.1,171.9 L369.6,173.1 L368.3,174.2 M336.6,175.5 L338.6,175.9 L340.8,176.4 L341.9,177.1 L344.2,177.8 L345.8,177.6 L347.4,178.6" fill="none" stroke="#929292" stroke-width="0.46"/>
<path d="M446.6,86.0 L448.9,85.1 L450.6,84.9 L452.1,83.9 L453.5,83.9 L455.5,83.1 L456.5,83.1 L458.7,82.2 L460.1,82.4 L462.0,81.7 L463.2,81.4 L464.5,80.7 L466.1,80.8 L467.9,80.4 L469.5,80.0 L470.8,79.2 L473.2,79.1 L474.0,79.0 L476.2,78.2 L477.6,78.0 L479.1,77.3 L479.5,77.2 L481.0,75.7 L483.1,74.7 L484.5,75.6 L485.8,76.7 L486.9,77.9 L487.6,78.0 L488.7,77.5 L489.8,76.9 L490.7,75.6 L491.0,73.7 L490.8,71.6 L490.0,70.6 L489.1,69.8 L487.6,68.2 L486.4,67.4 L485.6,65.3 L484.6,63.5 L486.3,63.0 L487.0,61.4 M446.6,86.0 L447.5,87.2 L448.7,89.0 L450.5,91.1 L451.6,91.9 L452.8,94.1 L453.8,96.0 L454.9,96.4 L457.1,98.3 L458.6,98.9 L460.1,100.5 L461.3,101.3 L463.0,102.3 L464.8,103.6 L466.2,104.7 L468.1,105.6 L469.8,106.7 L470.7,108.4 L472.5,109.4 L474.3,110.6 L474.8,111.4 L476.7,111.9 L479.4,111.8 L481.0,111.0 L483.4,110.6 L485.2,109.7 L486.8,109.1 L488.3,108.6 L488.8,107.9 L490.0,106.6 L492.6,105.8 M441.0,127.8 L442.4,127.6 L444.0,127.1 L446.0,126.6 L447.3,126.6 L448.9,126.2 L450.5,126.0 L453.0,125.8 L454.6,126.4 L455.6,127.2 L457.3,128.2 L458.7,128.3 L460.2,128.7 L460.5,127.1 L461.6,125.9 L461.1,124.3 L459.7,122.7 L459.1,122.6 L457.6,121.6 L456.7,120.6 L456.1,119.1 M441.0,136.5 L443.2,135.6 L444.6,135.6 L445.9,135.5 L447.5,134.7 L448.4,136.0 L449.0,137.0 L450.9,138.3 L452.4,139.4 L454.0,140.7 L455.2,140.3 L456.8,141.4 L458.2,141.6 L459.7,141.8 L461.8,142.0 L463.4,142.0 L465.1,142.3 L466.8,143.3 L468.6,143.2 L469.9,143.3 L472.2,143.7 L474.2,143.5 L475.6,144.3 L477.6,144.2 L479.0,143.9 L481.0,144.7 L483.4,144.2 L485.4,143.6 L487.1,144.1 L488.5,143.8 L490.3,142.7 L491.8,142.9 M467.2,145.2 L467.8,146.4 L468.6,147.8 L468.1,149.5 L467.8,150.4 L468.7,151.6 L469.3,153.4 L470.4,155.1 M472.0,159.5 L473.6,159.2 L474.7,159.0 L476.4,158.9 L478.4,158.4 L480.6,157.8 L482.4,156.8 L483.6,156.8 L484.9,157.5 L486.6,157.9 L487.5,158.0 L489.8,158.4 L491.0,158.8 L492.6,158.7 M141.0,214.0 L143.1,213.9 L144.6,212.8 L146.6,213.3 L148.1,213.2 L150.0,213.6 L151.6,214.6 L152.9,213.2 L154.6,212.5 L156.0,211.8 L158.1,211.7 L159.1,211.5 L161.0,212.4 L162.7,211.5 L163.9,211.4 L164.6,212.9 L164.9,215.2 L166.2,215.2 L166.8,216.0 L169.0,217.0 L170.4,217.5 M241.0,191.0 L242.5,192.5 L243.9,193.8 L245.7,194.5 L247.1,195.1 L248.8,195.4 L250.2,195.9 L252.5,196.4 L254.1,196.8 L255.6,197.4 L257.1,197.1 L258.2,197.7 L259.6,197.9 L262.0,198.9 L263.1,199.2 L265.1,199.7 L266.7,199.8 L267.6,200.3 L269.4,200.5 L271.0,200.7 L273.2,200.7 L274.4,201.3 L276.0,201.7 L277.4,201.8 L279.3,202.0 L280.3,201.6 L282.1,202.5 L283.4,202.1 L285.6,203.0 L286.7,202.8 L288.8,203.3 L290.4,203.6 L291.6,203.5 L293.0,204.1 L294.7,204.0 L297.0,204.7 L298.2,204.9 L299.8,205.3 L301.1,205.0 L302.5,205.3 L304.4,205.7 L305.7,205.8 L308.1,205.7 L309.1,205.5 L311.6,204.5 M397.3,206.9 L398.6,207.6 L400.6,208.3 L401.4,209.4 L402.5,210.6 L403.5,212.4 L404.5,214.0 M160.0,225.9 L160.8,227.2 L160.9,229.1 L161.2,230.3 L160.9,232.3 L160.5,234.3 L160.2,236.2 L160.8,238.0 L160.2,240.2 L159.8,241.9 L159.3,243.9 L159.3,245.6 M150.5,247.7 L151.7,249.2 L153.1,250.6 L154.1,252.3 L155.5,254.2 L156.7,255.6 L157.4,257.6 L158.5,258.8 M153.7,262.5 L154.5,264.1 L155.1,265.9 L156.7,267.8 L157.7,269.3 L156.6,270.7 L156.0,272.1 L154.4,273.7 L153.1,274.4 L151.5,276.1 L150.5,277.1 M390.7,126.0 L392.2,123.8 L393.7,124.5 L394.9,124.7 L395.6,125.1 L397.1,125.1 M409.8,129.2 L411.2,129.0 L412.1,128.9 L413.8,129.1 L414.5,129.8 L415.9,130.4 L416.5,132.2 L417.8,131.7 L419.1,130.7 L420.2,130.2 L421.4,128.2 L423.0,128.5 L424.3,128.3 L426.0,128.1 L427.7,128.2 L428.6,129.5 L430.1,129.8 M430.1,129.8 L432.0,129.5 L434.1,129.2 L435.3,128.8 L436.4,128.2 L437.9,128.4 L440.6,127.4 L441.8,127.0 L443.9,126.4 L446.1,125.7 L447.4,125.3 L448.5,125.4 M456.1,119.0 L458.0,119.7 L459.5,120.6 L460.0,121.5 L461.1,122.5 L461.8,124.6 L461.8,126.1 L461.2,126.9 L459.8,128.7 L458.7,127.9 L457.2,127.0 L455.9,126.5 L454.6,126.4 L453.0,125.5 L451.0,125.0 L448.5,125.4 M408.5,134.9 L409.3,135.5 L410.4,137.2 L412.5,137.0 L414.0,137.8 L415.7,137.4 L418.3,136.4 L420.0,136.3 L421.1,135.5 L423.2,136.8 L422.8,138.4 L421.7,138.9 L420.8,140.4 L419.4,140.9 L417.6,142.3 L416.6,142.5 L416.2,143.2 L415.0,144.0 L415.8,145.6 L416.4,146.6 L415.9,147.9 L414.5,147.4 L413.1,146.4 L412.0,146.0 L410.5,145.2 L408.2,143.7 L406.4,145.4 L405.6,144.6 L404.5,144.0 L403.0,145.6 L402.4,147.4 L402.0,148.5 L401.8,150.2 L401.3,151.4 L400.8,153.1 L398.8,153.3 L397.0,151.7 L395.8,150.9 L395.4,149.7 L393.5,149.4 L392.3,148.6 L391.3,147.4 L390.4,146.1 L390.7,143.8 M423.1,136.8 L424.9,137.4 L426.8,137.4 L428.7,137.3 L430.5,137.5 L432.3,136.5 L434.6,136.4 L436.6,136.0 L438.5,136.1 L440.2,135.8 L441.2,135.6 L442.8,135.4 L444.8,135.3 L446.8,135.1 L448.5,136.9 L449.3,138.2 L449.7,139.0 L451.3,139.7 L453.3,140.3 L455.2,140.7 L456.9,140.8 L457.8,141.0 L459.2,141.6 L461.0,141.5 L462.7,142.1 L463.7,142.3 L465.0,142.5 M390.7,143.8 L390.2,145.0 L389.1,146.2 L387.9,147.5 L386.4,149.1 L385.0,150.5 M385.0,128.6 L383.3,129.2 L381.1,129.1 L379.3,128.5 L377.1,127.8 L375.6,128.6 L374.0,129.4 L372.3,128.7 L370.4,127.7 M367.2,49.5 L368.7,50.7 L369.2,53.1 L370.3,54.4 L370.5,55.8 L369.1,56.7 L368.0,58.0 L366.1,59.4 L364.9,60.2 L363.4,61.1 L362.2,62.5 L360.8,62.9 L359.8,63.1 L358.1,63.8 L358.0,65.4 L357.1,66.1 L356.7,68.0 L356.6,69.9 L356.5,71.3 L355.9,73.3 L354.1,74.9 L355.4,76.1 L355.6,77.5 L356.1,78.5 L357.2,80.3 L357.5,81.3 L358.2,83.2 L358.2,84.0 L357.5,85.5 L356.6,86.4 L355.8,87.6 L354.3,88.5 L352.5,89.7 L351.9,91.7 L351.0,93.3 L351.3,94.0 L352.5,95.8 L353.2,96.7 L352.0,98.7 L350.3,100.2 L351.5,101.2 L352.9,102.1 L354.5,102.7 M326.7,69.3 L328.0,69.3 L330.0,69.1 L332.3,68.4 L334.0,68.1 L336.2,68.7 L338.1,68.6 L339.2,68.8 L341.4,68.7 L342.4,68.5 L344.3,68.2 L346.0,67.6 L347.3,67.5 L349.1,67.6 L350.9,67.5 L351.7,68.2 L353.3,68.4 L354.9,68.3 L356.9,67.8 M310.8,70.5 L311.2,71.4 L312.3,73.2 L313.4,73.6 L314.9,74.5 L316.0,74.9 L317.2,75.6 L318.9,75.9 L320.5,77.2 L322.2,77.3 L323.4,77.4 L325.2,78.3 L327.9,79.2 L328.4,79.9 L330.2,80.4 L331.4,81.4 L332.1,82.8 L334.5,83.2 L336.1,84.0 L337.7,84.3 L339.2,85.2 L340.8,86.3 L341.9,87.6 L343.7,87.2 L345.6,87.6 L347.8,88.1 L348.5,87.3 L350.2,87.1 L351.3,87.6 L352.1,89.2" fill="none" stroke="#888" stroke-width="0.48"/>
<path d="M208.5,52.4 L210.5,53.7 L213.2,53.0 L215.4,51.7 L216.5,50.9 L218.1,50.1 L219.5,49.6 L220.9,49.3 L222.5,50.0 L224.2,50.1 L226.5,52.1 L228.5,54.4 L228.8,55.5 L229.4,57.1 L230.2,59.3 L229.4,61.8 L227.7,63.8 M233.1,62.8 L234.9,64.9 L236.9,66.1 L239.3,65.3 L241.0,64.9 M241.0,64.9 L242.8,63.8 L244.7,65.1 L246.4,66.9 L248.5,67.1 L250.5,66.5 L252.4,67.6 L254.7,68.7 L257.0,70.1 L259.5,69.4 L261.8,68.3 L263.4,68.5 L265.0,68.6 L266.3,68.4 L268.2,68.6 L269.6,68.6 L271.2,68.5 M325.1,61.4 L327.2,60.9 L329.0,60.5 L331.2,60.2 L332.9,60.4 L334.9,60.2 L336.8,60.6 L338.9,60.7 L341.0,60.3 M325.9,63.8 L328.1,63.7 L329.7,62.7 L332.0,63.2 L334.8,63.4 L336.1,63.7 L337.9,64.2 L339.6,64.5 L341.0,64.6 M328.3,70.1 L329.0,71.3 L329.8,72.9 L328.2,73.9 L326.9,74.7 L325.0,75.4 L323.3,76.4 L322.0,76.6 L320.3,77.6 L318.8,77.9 L317.4,79.0 L316.3,79.8 L314.8,81.4 L315.8,83.9 L316.6,85.6 L314.1,87.1 L313.0,89.2 L312.4,91.1 M266.4,97.1 L268.6,97.7 L270.6,98.4 L271.8,98.9 L273.8,98.8 L275.2,99.6 L276.5,99.9 L278.1,100.4 L279.7,101.1 L281.6,101.7 L282.8,102.6 L284.8,103.3 L286.1,104.1 L288.0,104.8 L289.2,105.1 L290.9,105.9 L292.7,106.1 L294.0,107.0 L295.7,107.3 L297.2,108.3 L298.8,108.6 L301.3,109.5 M300.0,109.6 L301.5,108.9 L303.4,108.6 L305.1,107.6 L307.3,107.0 L308.9,106.9 L311.1,106.3 L313.1,105.9 L315.1,104.9 L316.8,105.0 L319.2,105.1 L320.8,105.1 L323.0,105.2 L324.8,105.5 L327.0,106.4 L328.4,106.9 L330.4,108.0 L331.6,108.4 L333.6,109.9 L335.0,110.1 L336.8,111.1 L338.2,112.2 L339.6,112.9 L340.5,114.2 L341.3,115.8 L342.3,118.1 L343.1,120.6 L345.3,122.6 M300.0,109.6 L301.6,110.7 L303.0,111.8 L304.9,113.2 L306.1,114.1 L308.1,114.3 L309.8,114.9 L311.2,115.6 L312.8,115.8 L314.3,118.4 L315.2,120.0 L316.2,121.5 L316.7,123.2 L317.8,124.5 L318.6,126.4 L319.1,127.7 L319.5,129.2 L319.7,131.0 L321.2,133.4 L322.7,134.2 L323.9,135.5 M309.6,115.2 L311.6,114.3 L313.7,114.2 L315.5,113.3 L317.5,113.0 L319.8,112.9 L321.7,113.4 L323.2,113.9 L324.5,114.6 L326.0,115.8 L327.6,116.5 L328.6,118.2 L329.2,119.0 L330.6,120.3 L331.7,121.8 L332.6,123.3 L333.4,125.4 L334.2,126.4 L335.3,127.8 M329.4,71.5 L328.2,72.6 L326.8,73.7 L324.8,74.9 L323.2,75.7 L321.3,76.7 L319.7,77.6 L318.4,78.6 L316.9,79.8 L315.6,81.0 L314.1,82.1 L315.7,84.5 L314.8,85.6 L313.8,87.1 L312.3,89.4 L312.7,90.5 M354.8,71.5 L353.6,72.5 L352.6,73.6 L351.7,75.3 L350.6,77.3 L349.9,78.7 L349.1,79.9 L347.0,80.8 L345.4,81.8 L343.3,82.6 L341.1,82.8 L339.7,83.1 L337.5,83.8 L336.6,86.5 L335.8,88.2 L335.0,89.6 L334.7,92.1 L335.4,93.6 L336.4,94.3 L337.7,95.8 L339.6,97.1 L340.7,98.2 L341.8,99.8 L343.2,101.3 L344.3,102.9 L345.4,104.7 L345.9,106.3 L346.8,107.7 L347.9,109.1 L348.8,110.8 L349.8,112.0 L350.7,113.3 L350.7,115.2 L349.9,117.8 M378.6,85.8 L376.2,87.5 L374.8,88.1 L372.9,89.2 L371.2,90.5 L370.1,91.5 L368.0,92.6 L366.9,93.4 L365.3,94.2 L363.4,94.8 L361.8,95.7 L360.3,97.0 L359.5,98.3 L358.6,99.1 L357.9,100.8 L357.4,102.5 L356.7,104.1 L356.7,105.5 L355.8,106.9 L354.7,108.6 L353.4,111.1 L355.8,111.9 L358.2,113.5 L359.0,115.0 L360.4,116.1 L361.7,117.4 L362.7,118.5 L364.1,119.6 L365.1,120.5 L366.6,120.8 L368.0,121.5 M341.0,60.6 L342.7,60.2 L345.1,60.1 L346.8,60.4 L348.6,60.5 L350.8,60.9 L352.8,60.8 L354.8,60.6 L356.3,60.4 L356.6,58.8 L357.6,57.6 L357.2,56.0 L356.9,54.1 L355.9,52.8 L354.7,51.7 L352.9,50.3 M341.0,64.6 L343.1,64.2 L345.9,64.4 L347.8,63.8 L350.5,63.6 L352.3,63.0 L354.5,62.5 M352.9,61.4 L354.8,62.2 L356.7,62.8 L358.7,63.1 L361.0,64.1 L361.8,65.2 L363.0,66.3 L364.1,67.7 L364.9,68.8 L365.4,70.2 L366.3,71.5 L367.3,72.9 L367.8,74.4 L369.3,75.9 L370.0,77.5 L370.8,78.4 L372.0,79.8 L373.3,80.9 L374.2,81.9 L375.3,83.3 L376.8,84.2 L378.4,85.7 L380.1,87.6 L381.7,89.5 L384.9,90.3 L386.1,90.7 L387.9,91.3 L390.0,91.4 L390.8,93.8 L391.3,95.3 L391.4,96.9 L392.1,98.8 L391.9,100.6 L391.6,101.8 L391.8,103.6 L390.6,105.0 L389.2,106.7 L387.6,107.9 L386.2,109.2 L384.6,110.8 L383.2,111.7 L381.5,113.5 M390.2,91.6 L392.7,90.0 L394.0,89.6 L395.7,89.3 L397.6,89.3 L399.0,89.6 L401.3,90.9 L402.2,92.7 L403.1,94.1 L405.5,94.8 L407.8,93.1 L409.1,91.2 L411.4,90.4 L413.4,92.5 L414.9,94.6 L416.4,95.5 L418.1,93.1 L418.9,92.1 L419.4,90.5 L422.1,89.9 L424.3,91.4 L426.4,90.5 L427.7,89.6 L429.4,88.4 L430.4,88.0 L432.3,87.7 L433.9,88.1 L435.6,88.4 L436.6,89.7 L437.7,90.6 L440.2,92.0 M357.7,64.6 L357.2,66.3 L356.6,68.0 L355.6,69.1 L354.4,70.9 L353.2,72.1 L352.4,73.4 L351.8,74.8 L351.2,76.6 L350.8,77.9 L349.6,79.5 L348.1,80.3 L346.3,81.7 L345.2,82.1 L343.4,82.6 L341.0,83.2 M373.5,50.3 L373.8,52.2 L374.2,53.6 L375.7,55.2 L376.7,56.5 L378.3,57.8 L380.1,59.3 L382.1,60.0 L383.8,60.8 L385.8,61.2 L387.5,62.0 L389.7,62.3 L391.7,63.0 L393.7,62.8 L395.9,62.4 L396.6,61.4 M403.2,49.5 L402.5,51.3 L401.1,52.9 L400.4,54.4 L398.7,56.0 L397.9,56.8 L400.2,58.0 L402.2,57.8 L403.5,58.0 L404.7,59.4 L406.0,60.1 L407.1,63.2 L405.6,65.6 L407.7,67.1 L409.4,68.0 L411.0,68.8 L412.2,69.9 L414.0,71.1 L415.6,72.2 L417.2,72.9 L419.4,73.9 L418.0,75.4 L416.6,76.5 L415.3,77.8 L418.0,79.1 L419.3,80.1 L421.1,81.0 L422.4,82.1 L423.5,82.8 L425.4,83.2 L426.8,84.2 L429.6,83.6 M440.2,56.6 L441.0,59.0 M421.2,113.0 L422.5,112.1 L424.4,111.3 L426.2,110.7 L428.3,109.8 L430.9,109.3 L433.2,109.4 L435.3,109.6 L437.7,109.5 L439.4,109.4 L441.0,109.0 M378.6,85.7 L375.7,86.8 L373.5,88.4 L372.5,89.5 L371.4,90.7 L368.8,92.4 M441.0,57.4 L443.4,55.7 L445.0,53.8 L445.5,52.1 L445.8,50.3 M441.0,59.8 L442.5,60.5 L444.1,61.5 L446.2,62.1 L447.9,62.6 L450.4,62.5 L451.8,62.4 L453.8,62.6 L456.3,63.1 L457.8,64.4 L459.5,65.4 L460.9,66.9 L462.5,68.3 L464.1,69.4 L465.7,70.9 L467.3,71.9 L468.6,73.0 L470.9,74.4 L472.8,74.8 L474.9,75.7 L476.8,76.0 L477.9,76.9 L479.3,77.7 L477.9,80.2 L476.4,82.1 L478.0,83.9 L480.9,85.3 L482.5,86.8 L483.6,87.1 L485.5,87.9 L487.3,87.8 L488.6,87.8 L490.7,87.9 L492.6,88.1 M482.3,86.8 L481.7,88.1 L481.2,90.1 L480.9,91.8 L480.4,93.4 L478.9,95.2 L478.4,98.2 L479.2,99.6 L479.6,101.3 L481.0,102.5 L482.1,103.2 L482.3,105.2 L482.6,106.9 L481.9,108.4 L481.6,109.2 L479.9,111.4 M481.5,49.5 L483.6,51.2 L486.0,51.0 L487.7,51.5 L490.0,51.5 L492.6,51.1 M483.9,51.1 L484.2,52.4 L484.6,54.3 L484.1,56.7 L485.0,58.0 L486.2,59.1 L487.9,59.4 L489.3,60.0 L491.3,60.0 L492.6,59.8 M439.4,109.0 L441.0,108.1 L442.3,107.6 L444.3,106.5 L446.1,105.9 L448.4,105.6 L450.2,105.5 L452.1,106.1 L454.0,106.5 L456.1,107.2 L457.9,107.6 L459.0,108.4 L460.8,109.6 L462.6,110.8 L464.1,111.6 L466.6,112.4 L468.4,112.5 L470.4,113.0 M468.8,105.8 L471.0,106.8 L472.9,107.7 L474.6,108.2 L476.7,109.7 L478.1,110.6 L479.9,111.4 M236.6,133.1 L241.0,132.0 M241.0,132.2 L242.6,131.4 L244.3,130.6 L246.1,130.3 L248.1,130.1 L250.2,129.6 L251.9,129.3 L254.0,129.6 L256.1,129.9 L257.9,130.2 L259.2,130.7 L261.1,131.1 L262.4,131.9 L263.8,132.2 L265.9,133.1 L267.2,132.3 L269.0,132.3 L271.0,131.9 L273.0,130.9 L274.5,130.3 L276.7,129.9 L278.5,129.0 L280.8,128.6 L282.2,128.1 L283.9,126.7 L286.2,125.6 L288.5,123.9 L289.9,123.1 L292.0,122.8 L293.9,122.4 L295.8,122.6 L297.6,123.0 L299.7,123.6 L301.4,124.1 L302.7,124.7 L304.3,125.7 L305.0,126.8 L306.3,128.4 L307.4,129.6 L307.9,130.7 L309.1,132.4 L309.4,134.0 L309.4,135.6 L309.8,137.6 L310.6,138.8 L311.4,140.0 L312.2,141.5 L314.1,143.9 L314.4,145.3 L314.7,146.6 L315.5,149.0 L315.5,151.0 L314.2,153.1 L312.5,155.8 L312.8,157.4 L313.1,158.7 L314.1,160.2 L314.7,162.1 L315.8,163.4 L316.7,164.4 L317.7,165.9 L319.1,167.3 L320.0,168.4 L321.2,169.8 L322.1,170.8 L323.0,172.4 L323.5,174.6 M266.4,132.9 L267.9,133.3 L269.4,134.0 L270.6,135.0 L272.1,136.4 L272.1,138.2 L272.5,139.6 L273.3,141.1 L273.5,143.1 L274.1,144.2 L274.2,146.2 L274.4,147.9 L274.5,149.5 L274.0,151.4 L276.7,152.6 L278.8,152.9 L280.9,153.2 L282.6,153.0 L284.7,153.0 L286.5,153.6 L287.8,154.5 L289.3,155.2 L290.9,155.7 L293.4,156.0 M255.3,167.5 L256.9,167.8 L258.4,168.0 L260.3,168.7 L262.3,168.8 L264.2,168.9 L266.3,169.1 L268.3,168.8 L270.3,168.9 L272.1,169.2 L274.2,169.0 L277.0,169.2 L279.3,169.3 L281.3,168.5 L283.6,168.4 L285.9,167.6 L287.8,167.2 L289.5,166.2 L291.2,165.5 L292.7,164.3 L293.9,163.7 L295.9,162.4 L297.1,160.8 L298.5,160.0 L299.9,159.1 L301.8,157.0 L304.5,156.7 M255.3,167.5 L256.6,168.5 L257.9,169.9 L259.4,170.7 L260.8,172.0 L262.3,172.4 L264.2,173.7 L265.5,174.3 L267.4,175.8 L268.5,177.3 L270.4,179.8 M340.2,137.3 L338.9,139.1 L338.0,140.7 L337.7,142.2 L337.1,144.4 L336.8,146.6 L336.1,148.2 L336.5,150.8 L336.5,153.3 L336.8,155.8 L337.1,157.9 L337.0,160.4 L337.5,162.7 L337.5,164.9 L337.2,167.2 L336.8,170.0 L336.1,172.3 L336.1,174.7 L335.4,177.0 M336.2,154.0 L338.6,154.5 L341.0,154.0 M314.0,176.2 L316.4,175.7 L318.5,177.0 M381.5,113.5 L381.0,115.3 L380.6,116.5 L379.6,118.6 L379.1,120.6 L378.5,122.4 L378.2,124.6 L379.1,127.7 L380.7,127.8 L382.5,127.5 L384.4,127.0 L386.3,127.1 L388.1,126.6 L390.5,126.2 L392.3,125.7 L394.1,125.6 L395.5,125.0 L397.5,124.9 L399.5,124.7 L401.2,125.3 L402.9,125.9 L404.5,126.5 L406.2,127.1 L408.7,128.1 L409.3,129.6 L409.1,130.7 L409.0,132.4 L408.7,134.2 L408.3,135.8 L407.4,137.6 L406.1,138.0 L404.4,138.6 L402.5,139.7 L400.6,140.3 L398.7,140.5 L396.8,141.4 L394.7,142.0 L393.3,142.2 L391.3,143.4 L389.2,143.7 L387.2,144.2 L384.9,145.2 L382.8,146.1 L380.9,146.5 L379.2,147.1 L377.3,147.7 L375.4,148.1 L373.8,148.6 L371.8,148.9 L370.7,147.9 L369.7,147.0 L368.0,144.9 M356.9,146.8 L355.6,147.6 L354.5,149.0 L352.6,150.5 L351.1,153.4 L349.8,155.5 L347.3,154.2 L345.2,153.1 L342.8,153.6 L340.7,153.9 L338.6,154.5 M378.8,127.5 L376.8,128.3 L375.2,128.3 L373.3,129.3 L371.9,130.2 L370.3,130.3 L368.5,130.7 L366.3,128.8 L364.8,129.7 L362.9,129.5 L361.3,130.3 L359.1,131.3 L357.1,132.0 L355.3,132.8 L353.6,132.9 L351.4,134.0 L349.6,134.5 L347.4,135.0 L345.7,135.4 L344.4,136.3 L342.9,136.6 L340.9,137.2 L339.1,137.6 M372.0,130.2 L370.5,131.4 L368.9,132.5 L367.2,133.7 L365.3,134.8 L363.9,136.4 L362.4,137.2 L361.1,138.3 L360.0,139.5 L358.8,141.1 L358.1,142.0 L356.9,144.5 M375.1,113.5 L373.6,115.8 L371.8,118.0 L370.8,119.3 L370.0,120.7 L368.8,122.2 M387.0,120.2 L389.3,120.7 L391.3,121.5 L393.1,121.4 L395.8,122.0 L398.1,121.6 L400.5,121.3 L402.6,120.5 L405.5,119.7 L407.1,118.8 L409.1,118.1 L411.4,117.1 L413.2,116.2 L414.9,115.8 L416.5,114.6 L418.5,114.7 L420.4,114.0 M410.8,144.5 L412.3,143.0 L413.3,142.2 L414.7,140.6 L416.2,139.5 L418.1,138.3 L419.8,137.3 L420.8,136.4 L422.0,135.5 L424.4,133.7 L426.5,133.0 L428.4,132.7 L430.8,132.0 L433.2,132.0 L435.4,131.4 L437.8,131.5 L439.2,130.7 L441.0,130.6 M423.5,138.9 L424.7,140.2 L426.1,141.2 L427.8,141.5 L429.2,141.8 L430.4,141.7 L432.0,141.8 L433.1,142.9 L434.1,144.4 L433.2,145.8 L433.2,147.9 L432.2,148.9 L432.0,150.6 L431.5,152.4 L430.8,153.9 L429.3,156.3 L427.4,159.0 L425.7,160.5 L424.9,162.8 L425.2,164.5 L425.2,165.9 L424.8,167.5 M427.5,158.7 L429.8,160.6 L432.1,160.8 L433.7,161.0 L435.7,161.9 L437.7,162.5 L439.6,163.2 L441.0,163.5 M426.7,164.3 L429.0,164.7 L431.3,164.7 L433.7,165.3 L436.5,165.4 L438.0,166.4 L439.3,166.7 L441.0,167.5 M368.0,154.0 L370.0,154.4 L371.7,154.6 L374.0,154.6 L376.0,155.0 L377.7,155.2 L379.8,155.3 L382.2,157.0 L383.0,159.0 L383.4,160.0 L384.4,163.0 L386.3,163.4 L388.4,163.6 L390.4,163.5 L392.7,163.7 L394.5,164.5 L396.7,164.8 L398.8,164.3 L400.4,164.8 L402.6,164.3 L404.5,164.5 L406.8,164.4 L409.0,164.9 L411.5,165.1 L413.8,165.1 L416.2,165.4 L418.6,166.0 L420.6,166.7 L422.7,166.9 L424.7,167.5 L425.9,165.1 M393.4,153.2 L393.9,154.8 L394.9,156.4 L396.1,157.7 L397.5,159.6 L398.6,160.8 L399.8,162.2 L401.1,163.1 L402.1,164.0 M397.8,148.7 L399.7,146.7 L400.5,145.5 L398.9,144.4 L397.3,143.4 L395.3,142.6 L392.6,143.2 M381.5,162.7 L381.0,164.6 L380.2,166.0 L380.3,167.4 L380.0,169.0 L379.5,171.1 L379.2,172.9 L378.8,175.0 L378.3,177.0 M364.8,168.3 L363.1,170.7 L360.7,172.5 L359.2,173.2 L357.7,173.8 L355.1,175.2 L352.9,177.0 M441.0,130.6 L442.6,129.8 L444.1,129.7 L445.9,128.2 L447.3,127.2 L447.3,125.2 L447.1,123.7 L447.6,122.1 L448.1,120.5 L449.7,119.2 L451.1,118.3 L453.4,117.4 L456.2,116.9 L458.4,116.5 L461.0,116.1 L462.9,116.1 L464.6,115.4 L466.2,114.5 L467.2,113.5 M472.0,113.5 L473.5,114.2 L475.1,115.3 L477.6,115.9 L479.8,116.8 L482.5,117.0 L484.6,117.5 L486.9,117.5 L488.9,118.1 L490.5,117.8 L492.6,117.5 M468.0,133.8 L469.5,134.1 L471.3,134.9 L473.2,134.5 L475.4,134.3 L476.8,134.0 L479.1,133.8 L481.3,133.3 L483.0,133.1 L485.0,132.5 L487.0,132.4 L488.7,131.7 L490.1,130.7 L492.6,129.8 M448.9,137.0 L451.0,137.2 L453.1,137.5 L454.7,137.5 L456.6,138.3 L458.6,138.4 L461.0,139.3 L462.6,139.2 L464.9,138.9 L466.5,139.4 L468.7,139.7 L471.1,140.7 L473.0,141.1 L474.6,141.9 L476.4,142.8 L478.6,142.6 L480.6,142.7 L482.9,142.5 L484.7,142.0 L486.4,141.8 L488.8,141.9 L490.8,141.8 L492.6,142.1 M441.0,164.3 L442.8,163.9 L445.0,163.9 L446.5,163.7 L448.2,163.4 L450.5,164.3 M441.0,167.5 L443.6,166.9 L446.0,166.7 L447.5,166.6 L449.8,166.6 L451.4,167.0 L452.9,167.5 M141.0,207.2 L142.8,206.1 L144.7,205.2 L146.0,203.9 L146.8,202.3 L147.4,200.4 L148.2,198.8 L148.8,197.4 L149.6,195.9 L148.4,194.4 L151.0,193.1 L153.7,192.9 M187.0,197.3 L186.0,199.9 L184.8,201.2 L183.8,202.3 L182.7,203.7 L181.5,204.4 L179.9,206.9 L179.3,208.7 L179.4,210.2 L178.6,211.5 L177.8,213.0 L176.3,214.2 L175.1,215.7 L174.1,216.8 L172.7,217.8 L170.3,219.4 L168.6,220.7 L167.2,221.6 L165.4,222.7 L163.8,223.4 L162.5,224.8 L161.1,226.1 L159.5,225.9 L157.8,225.6 L155.8,224.7 L154.2,224.5 L152.6,224.2 L150.4,223.8 L148.3,224.2 L146.9,224.2 L144.3,224.4 L142.5,225.0 L141.0,225.1 M172.7,219.1 L174.9,219.3 L176.5,219.3 L178.5,220.0 L180.7,220.3 L182.9,220.0 L184.6,219.8 L186.4,218.8 L188.7,218.5 L190.4,217.8 L192.3,217.7 L194.7,217.4 L196.8,216.8 L198.7,216.6 L200.7,216.6 L202.3,215.7 L204.3,215.6 L206.0,215.5 L207.9,216.1 L209.2,216.1 L211.1,216.9 L212.6,217.3 L214.9,218.2 L216.8,218.6 L218.6,218.9 L221.0,219.0 L222.5,219.1 L224.5,218.4 L226.7,218.0 L228.4,216.5 L227.5,214.1 L226.1,213.5 L224.3,213.2 L222.8,212.9 L221.0,212.5 L219.1,211.6 M198.9,195.8 L200.6,196.5 L201.9,197.6 L203.8,197.6 L205.1,198.7 L206.7,198.1 L208.6,198.0 L210.1,198.5 L211.4,198.7 L213.5,199.7 L214.5,199.8 L216.2,200.8 L217.8,201.1 L219.8,201.9 L221.4,202.4 L222.5,202.8 L224.5,203.5 L226.6,204.2 L228.1,204.7 L230.1,205.1 L232.0,205.9 L234.5,207.0 L235.9,207.9 L237.9,208.8 L239.4,209.6 L241.0,210.8 M268.8,177.5 L270.8,178.3 L272.5,178.6 L274.5,179.4 L276.5,179.2 L278.3,179.7 L280.1,179.6 L281.3,182.1 L282.3,183.7 L283.0,185.4 L284.0,186.7 L284.9,187.7 L284.5,189.3 L283.6,191.2 L281.2,192.3 L279.8,193.2 L278.6,194.4 L276.7,194.6 L275.3,195.1 L272.8,195.8 L273.3,198.0 L275.2,200.1 L277.5,201.3 M279.9,179.9 L281.7,181.3 L283.3,182.1 L284.4,183.5 L286.3,184.0 L287.9,184.3 L289.3,184.6 L291.4,184.2 L293.1,183.7 L295.4,182.9 L297.5,182.4 L299.0,181.9 L301.4,181.6 L303.4,180.9 L305.6,180.8 L307.1,180.0 L309.5,179.2 L310.8,178.7 L312.4,177.5 M284.7,187.8 L285.7,189.2 L286.4,190.9 L287.1,192.7 L287.6,194.0 L288.1,195.6 L288.3,197.1 L290.2,199.7 L290.7,201.2 L292.1,202.6 L292.5,205.4 L291.0,205.3 L289.4,205.5 L287.5,205.7 L285.4,206.3 L284.8,208.7 L283.6,210.9 L281.6,212.7 L279.7,213.0 L278.2,213.1 L276.1,214.9 L274.9,216.1 L273.6,216.7 L272.1,218.0 L271.3,219.0 L268.5,220.4 L269.4,222.9 L271.7,223.4 L273.4,224.9 L273.0,226.7 L271.7,229.3 L273.5,230.7 M241.0,210.8 L242.9,211.4 L244.1,212.4 L245.7,213.3 L247.3,214.2 L248.7,215.1 L250.3,216.1 L252.2,217.5 L253.6,218.6 L255.4,219.5 L256.9,220.5 L258.7,221.3 L259.8,221.7 L261.8,222.3 L263.4,222.6 L265.0,222.1 L266.2,221.2 L268.8,220.7 M341.0,183.8 L339.2,183.6 L338.0,183.2 L335.3,182.0 L334.0,184.7 L332.1,186.8 L330.7,189.4 M333.9,184.6 L335.4,187.0 L336.2,189.9 M335.4,182.3 L334.7,179.9 L333.9,177.5 M341.0,184.6 L342.4,185.2 L344.1,186.0 L346.2,186.0 L348.1,185.6 L349.8,184.7 L351.1,183.9 L352.6,183.1 L353.6,181.4 L354.4,178.7 L353.7,177.5 M445.8,185.1 L446.7,186.3 L447.5,187.9 L448.3,189.4 L449.9,190.8 L451.2,192.4 L452.4,194.4 L452.1,196.1 L451.3,197.4 L450.7,199.1 L449.7,200.7 L448.6,202.4 L449.7,203.1 L451.0,204.3 L452.2,205.4 L453.7,206.9 L455.1,209.0 L454.3,210.6 L453.2,212.3 L452.1,213.4 L451.1,215.0 L449.3,215.6 M141.0,250.1 L142.8,249.0 L144.2,248.5 L145.9,247.8 L147.7,247.4 L149.5,246.4 L151.9,246.5 L153.5,246.9 L155.6,246.3 L157.9,246.1 L159.8,245.6 L161.9,245.1 L164.3,245.0 L166.7,244.7 L168.9,244.1 L171.4,243.7 L172.9,244.4 L175.3,244.6 L177.7,244.6 L179.9,245.2 L182.2,245.0 L183.7,244.6 L185.9,244.1 L187.6,243.5 L189.8,242.8 L191.7,241.7 L193.8,242.5 L195.8,242.7 L198.0,243.2 L200.0,244.0 L201.5,243.4 L204.0,242.9 L205.7,242.3 L207.4,241.6 L209.4,241.2 L211.7,240.9 L213.9,240.7 L215.5,240.5 L217.3,239.5 L219.0,238.7 L219.9,237.7 L221.0,236.9 L221.8,235.5 L222.5,233.6 L224.4,231.2 L225.9,230.3 L227.7,229.9 L229.6,229.7 L231.8,229.2 L233.6,228.6 L235.2,228.6 L238.4,229.6 L239.8,231.5 L239.1,233.9 M148.1,277.1 L148.2,275.1 L147.8,272.9 L148.4,271.1 L148.9,269.4 L150.0,267.2 L151.1,265.4 L152.4,264.0 L153.2,262.0 L154.8,260.8 L156.0,259.6 L157.8,258.7 L160.0,258.2 L162.6,257.9 L165.0,257.5 L166.9,257.8 L169.5,257.9 L172.1,257.2 L174.4,256.9 L176.7,256.2 L179.3,255.7 L180.9,255.0 L182.8,254.7 L185.2,253.3 L186.6,251.9 L187.8,251.1 L189.3,250.2 L191.4,252.3 L193.1,253.8 L194.1,254.6 L195.5,255.6 L197.6,256.8 L199.0,257.4 L200.7,258.0 L202.6,257.0 L204.6,256.6 L206.5,255.3 L208.6,254.5 L210.5,253.6 L212.7,252.9 L214.2,252.8 L216.2,252.2 L218.5,252.4 L220.3,251.5 L222.2,251.1 L223.8,251.0 L224.3,249.1 L224.6,247.7 L224.6,245.2 L225.7,242.9 L227.5,241.3 M179.9,277.4 L181.9,276.4 L184.0,275.8 L185.6,275.0 L187.3,274.7 L188.6,273.7 L191.0,273.0 L193.5,272.7 L195.4,272.6 L197.1,272.1 L199.5,271.3 L201.2,270.8 L203.4,271.6 L205.2,272.1 L207.2,272.4 L209.1,272.9 L211.2,272.6 L213.0,273.2 L215.3,272.6 L216.7,272.2 L218.1,270.7 L219.0,270.0 L220.9,268.5 L221.9,270.6 L220.4,272.3" fill="none" stroke="#0000ff" stroke-width="0.66" stroke-linejoin="round"/>
<path d="M141.0,63.8 L141.9,62.8 L143.3,62.1 L144.2,61.7 L144.8,61.5 L145.8,61.0 L146.9,60.2 L148.3,60.7 L149.1,59.8 L150.7,60.3 L152.2,59.5 L154.2,58.9 L155.1,58.8 L155.5,58.2 L156.7,58.5 L157.7,57.8 L159.4,57.0 L160.5,56.4 L161.2,56.3 L163.4,56.3 L164.6,56.3 L166.0,56.4 L167.5,57.3 L167.5,56.2 L168.3,55.4 L169.2,53.7 L170.1,52.3 L170.0,51.7 L170.3,50.3 L170.8,49.5 M203.2,49.5 L202.2,50.9 L202.4,52.0 L201.7,52.7 L200.7,54.0 L199.8,54.6 L199.3,55.9 L198.1,56.3 L196.6,56.9 L196.2,57.7 L195.3,57.5 L193.8,58.3 L192.4,58.6 L191.5,58.6 L190.3,59.7 L189.3,59.6 L188.5,60.7 L187.1,60.6 L186.6,61.3 L185.8,61.6 L184.2,61.8 L183.2,62.9 L184.3,63.8 L184.7,64.3 L186.0,65.0 L187.5,65.0 L188.1,65.3 L189.7,65.7 L191.5,66.0 L192.6,65.2 L194.0,64.4 L195.4,64.9 L196.5,65.1 L197.2,65.0 L198.1,65.6 L199.3,65.4 L200.6,65.9 L202.0,66.2 L202.6,66.5 L203.8,66.8 L204.7,67.7 L206.2,67.4 L207.0,68.2 L208.3,68.5 L210.0,69.8 L210.8,69.6 L211.9,69.5 L213.5,69.9 L215.4,69.6 L215.9,70.3 L217.6,69.0 L218.8,68.4 L220.0,68.6 L221.5,67.6 L222.1,66.7 L223.2,66.4 L224.8,65.7 L225.8,64.3 L227.3,64.4 L228.3,63.6 L229.3,62.8 L229.6,61.9 L231.0,60.5 L229.8,61.6 L229.2,62.8 L229.1,63.4 L228.2,64.6 L227.3,64.6 L225.6,65.1 L224.4,66.0 L223.7,67.7 L222.7,68.1 L221.3,69.2 L219.6,69.7 L219.2,70.4 L218.0,70.5 L216.3,71.3 L215.4,71.7 L214.5,71.6 L212.3,72.5 L211.1,71.7 L208.9,71.7 L208.1,72.6 L205.7,72.8 L205.0,72.9 L202.8,73.0 L201.6,73.1 L201.5,74.3 L200.2,75.3 L199.3,76.1 L198.9,76.2 L197.6,77.1 L196.8,78.2 L196.0,78.8 L194.8,80.1 L194.0,80.4 L193.1,81.7 L191.7,82.5 L190.6,82.7 L189.4,82.8 L188.2,83.7 L186.5,85.0 L185.5,85.5 L184.9,86.4 L183.3,86.8 L182.3,87.6 L180.7,87.7 L179.6,87.8 L179.1,88.2 L177.9,88.6 L177.9,89.1 L179.2,90.1 L180.3,90.0 L181.4,89.5 L183.0,88.8 L184.1,89.6 L185.1,89.7 L186.3,91.2 L187.4,89.6 L187.4,89.1 L188.2,88.3 L189.0,88.1 L190.7,88.0 L191.1,87.5 L192.6,86.4 L193.8,86.8 L194.3,86.5 L195.7,85.7 L197.4,85.8 L197.8,85.1 L199.3,84.8 L200.2,84.6 L201.9,84.7 L203.0,85.6 L204.0,86.6 L205.6,87.2 L206.0,88.1 L207.7,87.7 L208.1,86.6 L209.1,85.5 L209.7,83.8 L210.3,83.6 L212.0,81.5 L212.5,81.7 L214.1,81.1 L215.0,80.4 L217.1,80.7 L217.8,81.0 L219.7,80.8 L220.3,80.6 L221.5,80.3 L223.1,80.1 L224.4,80.9 L225.3,80.5 L226.7,81.0 L227.5,80.7 L228.6,80.6 L230.1,80.5 L231.7,80.2 L232.7,79.9 L233.7,79.5 L234.8,79.3 L236.5,79.7 L237.1,79.6 L239.1,79.3 L240.1,79.4 L241.0,79.2 M241.0,79.2 L241.8,78.0 L243.4,79.7 L244.7,78.6 L246.1,78.6 L247.7,79.9 L248.9,79.1 L250.3,78.9 L251.9,79.3 L253.4,79.4 L254.7,79.7 L255.7,79.0 L257.6,78.7 L258.7,79.0 L259.3,79.0 L261.5,78.7 L262.7,78.7 L263.4,78.2 L265.1,78.3 L266.7,78.1 L267.8,77.8 L269.2,77.3 L270.1,76.3 L271.3,76.3 L272.6,76.4 L274.4,75.8 L275.8,75.5 L277.0,74.5 L278.6,74.8 L279.4,74.2 L280.6,73.3 L281.7,73.1 L282.4,72.4 L284.4,71.7 L285.0,71.7 L285.4,70.3 L283.8,70.0 L282.5,69.9 L280.8,69.4 L278.7,69.6 L277.8,69.6 L276.0,69.1 L273.9,69.1 L273.3,69.1 L272.1,68.3 L271.2,67.8 M274.3,65.4 L275.5,64.7 L276.7,63.7 L278.7,64.3 L279.6,63.4 L279.8,62.2 L281.8,61.9 L282.5,62.0 L283.6,61.4 L284.8,60.2 L285.9,59.4 L287.7,57.9 L288.6,57.1 L289.2,56.4 L289.1,55.6 L289.9,53.8 L289.8,52.8 L290.6,51.2 L290.8,49.5 M242.3,78.4 L242.9,77.9 L244.0,78.1 L244.7,78.2 L246.6,77.9 L247.5,79.4 L246.4,79.3 L244.8,79.7 L244.4,79.7 L242.8,79.4Z M266.1,97.9 L265.4,96.6 L266.9,95.3 L267.3,94.5 L268.3,94.3 L269.0,93.7 L270.1,94.0 L271.7,93.0 L273.4,93.5 L274.3,92.3 L275.3,91.9 L276.8,91.5 L278.0,91.3 L279.7,91.6 L281.2,90.7 L282.2,90.5 L283.2,89.9 L283.9,89.4 L285.9,88.8 L286.6,88.5 L288.2,87.3 L287.6,85.8 L287.7,84.4 L288.1,83.2 L287.9,80.8 L287.4,80.0 L288.7,78.4 L289.3,76.9 L290.1,76.9 L291.6,76.5 L292.8,75.5 L293.0,75.0 L294.7,75.1 L296.5,74.7 L297.5,74.4 L298.6,73.8 L299.5,73.6 L301.1,73.4 L302.7,72.5 L303.3,72.1 L305.0,72.2 L305.7,71.3 L307.3,71.5 L308.3,70.8 L309.8,70.3 L310.6,70.4 L312.6,70.3 L313.9,69.9 L314.5,69.4 L316.5,69.3 L317.0,68.1 L318.0,67.5 L318.7,65.9 L320.1,65.8 L320.9,64.1 L322.2,63.9 L323.7,63.2 L324.6,62.4 L325.4,61.1 L326.9,60.4 L327.8,59.5 L328.0,59.3 L328.9,58.7 L329.9,57.1 L330.6,56.2 L332.0,55.5 L331.9,53.9 L332.4,53.4 L332.7,51.4 L333.0,50.6 L333.9,49.5 M317.2,68.5 L318.8,68.3 L319.8,67.8 L321.2,66.8 L321.6,67.1 L323.0,65.5 L323.7,65.3 L324.6,64.9 L325.6,64.2 L326.5,66.0 L326.0,66.3 L324.8,67.0 L323.2,68.1 L322.6,68.2 L320.7,68.7 L319.9,69.6 L318.3,68.7Z M320.4,69.5 L322.2,68.6 L323.1,68.9 L324.8,67.6 L325.5,67.2 L327.9,68.0 L328.2,69.6 L328.1,69.9 L327.3,70.3 L325.2,70.4 L323.9,69.8 L322.2,70.1 L322.0,69.8Z M321.2,65.4 L322.4,64.3 L322.5,64.1 L324.2,64.2 L324.7,63.2 L325.4,64.4 L324.9,64.4 L323.8,65.3 L322.7,65.5Z M341.0,53.5 L341.8,52.9 L342.7,52.5 L343.8,50.9 L345.2,51.6 L346.8,50.5 L347.9,50.1 L349.9,50.4 L351.1,51.3 L351.7,52.0 L351.0,53.2 L350.5,54.2 L348.8,55.1 L348.7,56.1 L347.0,56.3 L345.6,55.8 L345.1,56.2 L343.5,55.9 L342.3,54.3Z M191.3,113.7 L191.8,112.7 L193.2,112.0 L193.6,111.9 L194.8,112.0 L195.7,111.8 L197.2,111.5 L199.4,110.6 L200.8,110.3 L202.2,109.9 L203.9,110.9 L206.1,111.0 L206.3,109.9 L208.1,109.3 L209.0,109.1 L210.4,108.2 L211.5,108.0 L212.4,107.4 L214.7,107.7 L215.2,107.7 L217.1,107.6 L218.0,108.2 L218.8,109.5 L220.5,110.0 L221.1,110.9 L223.2,112.4 L224.0,111.8 L225.6,112.0 L226.9,111.7 L227.5,110.9 L229.2,111.5 L230.4,111.4 L231.7,111.4 L232.9,111.7 L233.8,110.3 L235.4,110.2 L236.5,110.3 L237.0,111.2 L238.4,110.8 L239.6,111.4 L240.4,111.1 L242.1,110.9 L241.3,109.7 L241.6,108.5 L240.7,107.0 L240.4,105.7 L239.5,104.4 L239.9,102.6 L238.8,101.5 L238.2,99.8 L238.0,98.8 L236.6,97.5 L236.1,97.0 L235.3,95.1 L237.5,94.7 L238.5,95.1 L240.6,95.0 L242.3,94.8 L244.1,95.7 L244.0,95.9 L245.3,97.1 L245.5,97.7 L246.0,98.8 L247.4,100.0 L248.1,100.3 L250.3,100.1 L252.0,101.1 L252.8,100.7 L254.6,100.9 L255.5,101.5 L257.2,101.0 L258.0,101.1 L259.5,101.8 L261.5,101.4 L263.1,101.1 L263.5,99.9 L265.6,99.6 L265.7,97.5 L266.7,96.3 M265.1,99.1 L266.8,98.7 L268.3,98.2 L269.6,98.5 L270.5,98.0 L272.3,98.2 M191.3,113.7 L192.0,115.0 L192.2,115.8 L193.1,116.5 L194.1,116.1 L195.0,116.5 L196.3,116.7 L197.3,117.2 L198.6,116.3 L197.7,117.3 L197.3,118.0 L195.5,118.6 L194.1,118.9 L194.2,119.5 L192.7,120.0 L194.1,120.1 L194.9,120.5 L196.3,121.2 L197.5,121.4 L198.0,123.3 L200.0,123.0 L200.9,122.6 L201.6,122.9 L202.9,123.0 L204.1,123.2 L204.9,123.3 L205.9,123.8 L207.1,124.1 L207.8,124.3 L209.7,124.5 L210.4,125.1 L211.2,126.0 L212.3,126.1 L213.2,125.7 L215.5,126.4 L216.3,126.6 L217.7,127.3 L218.4,127.1 L220.3,127.9 L221.1,127.8 L222.9,128.5 L224.4,129.2 L225.8,129.3 L226.6,130.1 L227.6,130.4 L228.3,131.4 L229.0,131.6 L230.2,131.7 L231.3,132.5 L232.6,133.1 L234.2,132.7 L235.6,133.3 L236.6,133.1 M231.0,133.1 L230.6,134.0 L229.8,135.1 L230.7,136.0 L230.9,137.3 L231.7,138.0 L232.9,139.5 L233.8,140.0 L234.7,140.8 L235.8,141.9 L237.4,142.2 L239.0,143.2 L240.1,144.5 L241.4,144.5 L242.0,145.9 L242.8,145.4 L244.6,146.3 L245.9,146.9 L246.4,147.6 L247.3,148.6 M241.0,145.2 L242.2,145.4 L242.9,145.9 L244.5,146.3 L245.6,146.8 L246.6,148.4 L246.8,149.0 L246.4,150.3 L246.2,151.4 L246.4,153.2 L247.0,154.0 L248.0,155.5 L249.0,156.6 L249.4,157.7 L250.6,158.7 L251.6,160.3 L251.7,160.9 L252.5,161.8 L252.7,162.8 L253.4,164.2 L254.3,164.9 L254.8,166.6 L255.6,167.8 M247.3,155.1 L246.6,156.2 L245.7,157.5 L246.4,159.8 L245.3,161.3 L246.1,162.5 L245.1,163.6 L245.2,164.6 L245.2,165.7 L245.4,167.6 L245.0,169.2 L244.9,169.8 L244.4,170.9 L244.1,172.8 L244.8,173.6 L244.1,175.2 L244.6,176.7 L243.8,177.8 L244.3,178.9 L243.7,179.5 L244.0,180.8 L243.4,182.6 L243.4,184.1 M239.5,146.7 L240.6,146.7 L241.6,145.7 L243.2,146.5 L244.6,146.9 L245.5,148.3 L243.9,147.9 L242.5,147.8 L242.0,147.3 L241.1,147.1Z M242.2,150.9 L243.5,150.8 L244.0,150.7 L245.2,151.7 L246.0,152.7 L246.7,154.7 L245.8,154.6 L244.5,154.2 L243.9,153.3 L242.4,152.0Z M356.9,146.0 L357.7,145.1 L359.5,144.9 L360.5,143.7 L361.5,143.5 L362.5,144.0 L363.6,144.1 L365.8,143.4 L366.6,144.2 L368.6,145.0 L369.3,146.5 M356.9,146.0 L357.9,145.0 L359.3,145.2 L361.0,144.7 L362.7,144.5 L364.2,143.9 L366.1,144.3 L367.1,145.1 L368.4,144.8 L369.3,146.5 M399.4,124.3 L400.9,124.2 L402.4,125.3 L403.0,125.0 L403.9,125.8 L405.7,126.3 L406.8,126.4 L407.2,127.5 L408.6,127.7 L409.6,129.1 M399.4,123.8 L401.2,123.9 L402.1,124.2 L403.2,124.8 L404.5,125.1 L405.9,125.3 L406.8,125.7 L408.3,126.9 L408.9,127.5 M393.4,153.2 L393.5,151.8 L393.6,151.6 L395.0,150.6 L395.4,149.4 L396.3,148.6 L397.8,148.4 M393.7,153.5 L395.3,151.0 L397.2,149.4 M423.5,157.9 L424.4,157.6 L424.9,156.5 L425.8,155.3 L426.7,154.0 L428.3,153.5 L428.7,154.0 L427.9,155.2 L427.2,156.3 L426.2,157.6 L425.1,158.3 L425.2,159.1Z M391.8,177.5 L393.4,176.5 L394.2,175.4 L395.5,174.9 L396.0,175.2 L397.3,174.8 L399.0,175.2 L400.4,174.5 L401.2,175.4 L402.7,175.1 L403.1,175.6 L404.1,176.1 L405.6,176.9 L406.1,177.5 M448.1,161.1 L448.6,160.3 L449.4,159.6 L450.8,158.9 L451.5,158.4 L452.6,157.6 L453.7,158.1 L455.0,157.8 L455.6,157.6 L457.7,157.2 L459.3,156.9 L460.0,156.4 L461.0,155.4 L462.0,155.0 L464.0,154.6 L466.0,154.0 L467.3,154.5 L468.9,155.4 L470.0,154.9 L470.6,155.7 L470.7,156.3 L469.7,158.1 L469.5,159.0 L469.1,160.3 L470.0,161.0 L470.8,162.6 L471.1,163.5 L471.7,165.3 L472.9,165.9 L473.4,167.1 L474.0,168.0 L475.0,169.5 L476.4,168.6 L476.7,167.5 L477.5,166.4 L478.1,164.7 L478.2,163.4 L479.4,162.2 L479.5,161.3 L480.0,161.8 L480.9,163.4 L480.9,163.9 L480.9,166.1 L480.9,167.2 L480.7,168.6 L480.2,169.8 L480.2,171.7 L481.1,172.4 L481.9,173.8 L483.1,173.8 L483.9,174.6 M448.1,161.1 L449.4,162.6 L449.5,163.8 L450.3,164.4 L451.3,165.6 L450.9,167.5 L450.7,168.5 L450.0,169.7 L450.0,170.8 L449.9,172.6 L449.2,173.4 L449.6,175.7 L449.6,177.1 L450.8,178.6 M481.5,161.1 L482.9,161.9 L483.1,162.2 L484.2,162.3 L485.8,163.4 L486.3,164.3 L486.9,164.8 L487.3,166.5 L488.0,167.0 L487.9,168.0 L487.2,169.0 L486.4,168.2 L485.1,166.9 L484.0,166.0 L483.2,164.4 L483.2,165.1 L481.7,166.3 L482.4,167.9 L482.5,169.1 L483.7,170.5 L484.3,171.6 L482.9,172.2 L481.8,170.7 L480.7,170.3 L481.0,168.9 L480.9,167.2 L480.8,166.2 L481.6,164.9 L481.2,164.0 L481.8,162.5Z M486.2,170.6 L487.0,171.6 L488.6,172.7 L489.4,173.6 L490.7,174.5 L491.2,176.0 L492.2,177.0 L490.1,177.5 L488.8,176.4 L488.5,175.1 L487.5,174.5 L487.1,173.7 L486.7,171.6Z M141.0,185.8 L142.1,185.0 L144.1,185.4 L144.6,184.7 L146.6,184.4 L148.0,185.4 L149.3,185.4 L150.5,186.0 L151.4,186.6 L152.9,187.2 L153.7,187.6 L154.4,188.3 L156.0,188.2 L156.9,187.8 L158.5,188.6 L160.1,188.1 L160.7,188.3 L162.8,188.0 L164.0,187.8 L164.9,187.5 L166.2,187.7 L168.2,188.1 L168.7,187.3 L170.8,187.0 L171.5,187.1 L172.6,186.7 L174.2,186.6 L175.9,186.8 L176.2,187.9 L177.5,188.2 L179.0,188.4 L180.0,188.0 L181.7,188.6 L182.9,189.0 L184.4,188.9 L185.3,189.8 L186.8,189.4 L188.2,189.5 L189.7,189.4 L191.1,190.2 L191.9,190.7 L193.1,190.3 L194.3,190.5 L196.3,190.5 L197.3,190.5 L198.3,189.7 L200.1,190.1 L201.5,189.6 L202.9,189.1 L204.4,189.3 L205.1,188.8 L206.9,188.9 L207.6,189.6 L209.3,189.4 L210.7,190.0 L211.5,189.6 L212.8,189.8 L214.5,190.4 L216.0,190.4 L217.1,190.6 L218.3,190.6 L220.1,190.4 L220.8,190.1 L222.7,190.0 L224.2,190.5 L225.4,190.5 L226.6,190.8 L227.4,190.9 L229.3,191.1 L230.2,190.7 L231.8,191.6 L232.8,191.2 L234.1,190.9 L235.9,191.6 L237.3,190.9 L238.3,189.9 L239.5,189.4 L239.7,189.1 L241.3,188.6 M243.4,177.5 L243.2,179.0 L242.8,180.8 L242.8,182.4 L242.7,183.6 L242.7,185.0 L242.2,185.8 L242.0,188.2 L241.0,188.9 M342.6,191.0 L340.7,189.8 L339.6,190.3 L338.8,190.5 L337.7,190.4 L336.7,190.8 L335.2,190.0 L333.9,189.7 L332.6,189.7 L330.9,188.9 L328.6,188.6 L327.9,188.3 L326.1,188.4 L325.0,188.3 L323.4,188.6 L323.2,189.3 L321.8,190.0 L320.4,190.0 L319.1,191.3 L318.1,192.0 L317.3,192.3 L316.0,192.9 L315.1,193.0 L314.3,193.2 L313.0,194.5 L312.2,194.8 L311.9,195.5 L310.5,196.3 L310.5,197.5 L310.5,198.6 L310.4,199.3 L310.5,201.1 L310.3,201.4 L310.8,202.5 L311.3,204.2 L311.5,204.6 L312.4,205.7 L313.1,207.3 L312.1,207.9 L311.5,209.2 L312.5,210.5 L312.0,211.3 L311.9,212.9 L311.2,214.5 L310.1,214.4 L309.2,215.6 L307.4,216.1 L307.0,216.6 L305.1,217.2 L304.9,217.9 L303.7,218.1 L302.3,218.9 L301.0,219.7 L300.1,219.7 L299.7,220.6 L297.8,220.7 L297.2,221.5 L295.6,221.9 L295.2,222.3 L293.6,222.6 L293.0,223.0 L291.4,223.5 L290.7,223.8 L289.0,223.7 L287.4,223.8 L285.2,224.6 L284.3,224.4 L282.0,224.7 L281.2,225.2 L279.8,226.2 L279.2,226.8 L277.8,227.4 L276.2,228.4 L275.7,228.9 L275.1,230.3 L274.3,232.0 L273.7,232.0 L273.1,232.8 L272.5,233.8 L270.9,235.1 L270.2,235.3 L269.4,236.6 L268.3,237.4 L267.6,238.8 L266.7,239.5 L266.2,240.4 L265.6,241.5 M341.0,190.2 L342.3,190.4 L343.5,191.2 L344.2,191.8 L345.5,192.4 L346.1,192.8 L347.3,192.9 L348.8,193.8 L349.8,194.6 L350.5,194.3 L352.0,194.7 L352.6,195.0 L354.8,195.8 L356.3,196.2 L358.0,195.8 L359.1,196.5 L360.0,195.9 L361.2,194.8 L362.8,194.0 L364.4,193.8 L364.8,192.3 L365.2,191.8 L366.4,190.9 L367.7,190.3 L368.8,189.2 L369.1,188.8 L370.6,188.2 L371.9,187.6 L372.6,187.3 L374.0,187.1 L374.7,186.2 L376.3,186.2 L377.4,185.0 L378.5,185.2 L379.7,184.2 L381.7,184.7 L382.2,183.9 L384.0,183.3 L384.5,183.1 L386.2,182.1 L386.6,181.4 L387.8,180.9 L389.0,179.2 L390.9,178.1 L391.8,177.5 M406.1,177.5 L406.7,177.6 L407.9,178.6 L409.6,178.8 L410.3,179.8 L411.8,179.8 L412.8,180.1 L414.8,180.5 L415.1,181.7 L416.8,182.3 L417.2,183.1 L418.1,183.2 L418.7,184.4 L419.6,185.2 L419.7,187.5 L420.2,188.8 L421.0,189.6 L421.7,191.2 L423.2,192.2 L423.5,193.7 L423.2,195.5 L424.2,196.0 L425.0,197.7 L426.7,198.2 L427.0,199.2 L428.8,200.4 L430.3,200.8 L431.4,202.3 L432.0,202.8 L433.3,203.7 L434.5,204.4 L435.6,205.8 L436.9,206.2 L438.6,206.7 L439.2,207.3 L441.0,207.7 M406.1,196.2 L407.7,197.8 L407.6,199.2 L407.7,200.3 L407.8,202.0 L408.3,203.3 L408.3,204.6 L408.9,205.7 L409.3,207.2 L409.5,208.1 L409.7,210.3 L409.2,211.3 L408.3,212.5 L408.5,213.2 L407.8,214.6 L407.7,215.7 L406.6,216.2 L405.8,217.3 L405.1,218.6 L404.8,219.8 L403.3,220.7 L403.1,220.1 L402.1,219.5 L401.2,219.2 L399.5,218.1 L398.9,217.2 L397.7,216.6 L398.7,215.7 L397.8,214.2 L396.6,214.3 L395.8,212.4 L396.5,212.2 L397.5,210.9 L396.0,210.5 L395.4,210.2 L393.8,208.9 L393.3,207.4 L393.3,206.3 L394.1,204.5 L395.0,204.0 L396.4,202.8 L397.1,202.3 L398.7,201.5 L399.8,201.9 L400.5,200.9 L402.3,201.2 L403.4,200.3 L405.1,200.0 L404.8,198.6 L405.0,197.5Z M403.7,221.2 L404.1,222.8 L405.8,223.6 L406.8,224.0 L408.1,225.2 L408.7,226.3 L409.1,227.1 L409.8,227.0 L410.4,229.1 L411.2,230.3 L411.1,231.4 L411.4,231.6 L411.6,233.1 M403.7,221.9 L403.0,223.0 L402.0,223.6 L401.1,224.1 L400.2,225.1 L399.2,225.5 L397.6,226.5 L397.3,227.5 L395.8,227.5 L395.0,228.0 L394.0,229.0 L392.6,228.9 L392.0,229.3 L390.8,228.9 L389.2,228.6 L389.6,226.8 L389.3,226.1 L388.2,224.7 L388.5,226.5 L387.5,227.5 L387.7,229.6 L387.2,230.9 L387.3,231.6 L387.8,233.1 M451.3,177.5 L452.6,178.2 L453.1,179.5 L454.6,179.4 L456.2,180.8 L457.0,181.4 L458.9,181.8 L459.7,182.4 L461.2,183.4 L462.7,184.3 L463.4,184.3 L465.4,185.4 L466.5,185.9 L467.3,186.9 L468.6,187.0 L469.3,187.4 L470.6,189.2 L470.4,189.8 L471.5,191.0 L471.9,192.6 L472.4,193.5 L473.5,194.8 L473.5,195.6 L473.8,197.1 L474.6,197.9 L474.7,199.0 L475.3,200.5 L476.0,200.8 L476.8,202.2 L477.7,203.0 L478.6,203.4 L479.7,204.8 L480.9,205.0 L481.8,205.8 L483.6,207.1 L484.8,208.1 L485.5,208.9 L486.1,209.6 L487.5,209.5 L488.9,210.9 L489.8,210.6 L491.6,211.8 L492.6,212.1 M487.8,178.3 L490.2,179.9 L491.8,181.5 M441.0,208.5 L442.3,209.7 L442.9,209.6 L443.8,210.4 L445.2,211.8 L445.4,212.1 L446.5,213.5 L448.1,214.8 L448.8,215.8 L449.9,216.1 L450.8,216.8 L452.6,218.5 L453.4,218.3 L453.9,219.0 L455.1,220.3 L455.9,220.4 L457.6,220.3 L458.4,221.4 L459.7,222.1 L461.2,223.3 L462.3,222.9 L464.5,223.1 L465.5,223.1 L465.8,222.9 L467.1,223.7 L468.3,223.7 L470.7,223.2 L471.1,224.3 L472.7,225.0 L473.8,226.1 L474.6,227.5 L475.9,228.5 L476.4,228.9 L477.1,229.3 L478.7,230.2 L479.4,229.6 L480.4,228.8 L480.5,229.9 L481.2,230.8 L482.2,232.6 L483.6,231.8 L485.1,231.4 L486.3,232.3 L486.7,232.5 L488.1,233.5 L489.0,233.8 L489.6,234.6 L489.7,235.8 L490.0,236.8 L491.4,238.1 L492.1,239.4 M443.2,202.6 L443.7,201.6 L444.7,201.6 L445.1,202.6 L444.7,203.5 L443.7,203.5Z M173.5,244.2 L175.0,244.9 L176.8,245.2 L177.6,244.6 L179.0,245.3 L180.3,245.4 L182.0,245.1 L183.9,244.5 M222.0,234.2 L222.8,233.1 L224.0,232.2 L224.4,233.2 L225.1,235.5 L226.4,236.1 M185.8,252.9 L186.4,252.1 L187.6,250.4 L189.3,250.6 L190.9,252.0 L191.5,252.6 M222.3,233.9 L223.5,232.6 L225.1,235.8 M267.2,239.8 L266.6,240.7 L265.7,241.5 L264.6,241.7 L263.9,242.6 L263.7,244.1 L262.6,245.5 L262.0,245.6 L260.9,246.4 L260.7,247.9 L259.8,248.9 L259.0,250.4 L259.7,252.2 L260.1,253.6 L260.2,254.6 L260.7,256.6 L261.3,256.5 L262.2,258.0 L263.6,258.2 L265.0,259.4 L266.0,259.3 L267.5,260.7 L265.6,262.1 L264.7,262.3 L263.8,262.7 L262.2,263.4 L261.5,263.6 L260.4,264.9 L259.4,265.5 L258.6,265.6 L257.2,266.9 L257.0,267.3 L255.8,268.7 L256.0,269.1 L255.1,270.5 L254.3,271.0 L253.5,273.0 L253.0,274.2 L252.0,275.3 L251.8,277.1 M299.4,248.2 L300.1,247.4 L301.1,247.2 L301.7,246.6 L302.9,245.9 L304.0,245.1 L305.2,244.1 L306.6,244.5 L307.2,244.1 L308.4,243.9 L309.6,243.0 L311.4,243.1 L312.7,244.5 L313.3,245.2 L314.7,245.1 L315.4,245.9 L316.2,246.9 L316.5,247.2 L315.8,247.7 L314.9,248.9 L314.5,250.6 L314.0,251.8 L313.0,252.5 L312.1,252.6 L310.5,252.7 L309.1,252.8 L308.0,252.0 L307.2,250.7 L306.0,250.7 L304.3,250.0 L303.8,249.9 L301.7,249.9 L300.8,248.8Z M321.2,241.8 L322.2,241.7 L323.4,240.8 L325.6,241.0 L326.6,241.0 L328.1,242.3 L329.0,242.8 L328.0,244.3 L326.7,244.2 L325.0,244.0 L323.2,243.0 L322.7,243.1Z M282.6,258.3 L283.8,257.4 L284.6,256.1 L285.5,255.9 L287.2,254.9 L288.8,255.7 L288.6,256.9 L288.3,258.1 L287.3,258.8 L286.2,260.0 L284.7,260.0 L284.0,260.4 L283.3,259.6Z M412.4,234.2 L411.7,235.1 L410.8,236.9 L410.6,237.9 L410.2,238.6 L410.5,240.1 L410.5,240.4 L410.7,241.4 L411.3,243.4 L410.9,244.3 L410.9,245.8 L410.5,247.2 L409.4,248.6 L409.5,249.6 L409.4,250.9 L409.3,252.2 L408.3,253.5 L406.4,254.7 L405.4,254.1 L404.9,253.9 L403.4,253.8 L402.3,255.3 L401.7,256.0 L401.0,256.8 L400.0,257.8 L399.1,258.6 L397.8,258.3 L396.1,259.2 L395.4,258.4 L394.5,257.3 L393.2,257.2 L392.1,256.7 L390.3,256.4 L389.2,255.4 L389.3,253.8 L388.8,252.8 L389.5,252.0 L391.5,251.5 L391.4,250.6 L391.3,249.8 L392.4,248.9 L391.7,246.6 L391.3,245.5 L392.0,244.2 L392.2,242.8 L393.0,242.1 L392.1,241.4 L391.2,240.2 L390.9,239.3 L390.8,237.1 L391.6,235.8 L390.3,234.9 L389.1,233.8 L388.1,233.1 L387.8,231.8 M480.7,263.6 L482.0,263.7 L483.9,263.2 L485.2,262.7 L486.5,262.9 L487.8,264.0 L488.8,264.7 L489.3,265.3 L490.7,265.6 L491.0,267.5 M488.6,269.1 L491.8,269.9 M451.3,273.1 L452.1,277.4" fill="none" stroke="#000" stroke-width="0.75" stroke-linejoin="round"/>
<path d="M167.3,91.1 L168.6,91.1 L168.6,92.2 L167.3,92.2Z M193.1,72.5 L193.9,72.5 L193.9,73.3 L193.1,73.3Z M199.7,84.4 L201.0,84.4 L201.0,85.4 L199.7,85.4Z M271.5,67.4 L275.1,68.2 L276.7,69.3 L273.5,69.2Z M451.6,54.1 L452.6,54.1 L452.6,55.1 L451.6,55.1Z M459.3,54.3 L460.2,54.3 L460.2,55.2 L459.3,55.2Z M462.4,53.0 L463.4,53.0 L463.4,53.9 L462.4,53.9Z M469.9,53.5 L470.8,53.5 L470.8,54.4 L469.9,54.4Z M478.3,59.0 L479.3,59.0 L479.3,60.0 L478.3,60.0Z M481.0,65.4 L482.0,65.4 L482.0,66.3 L481.0,66.3Z M194.5,115.3 L197.7,115.0 L199.7,116.1 L197.7,117.2 L195.3,116.9Z M192.4,120.1 L195.3,120.4 L195.6,121.2 L192.7,120.9Z M186.3,113.4 L187.8,113.4 L187.8,114.1 L186.3,114.1Z M224.2,98.1 L226.7,98.1 L226.7,99.2 L224.2,99.2Z M230.3,101.9 L233.3,101.9 L233.3,103.3 L230.3,103.3Z M230.0,94.5 L231.0,94.5 L231.0,94.9 L230.0,94.9Z M214.7,129.8 L217.2,129.8 L217.2,130.9 L214.7,130.9Z M227.9,139.6 L229.4,139.6 L229.4,140.2 L227.9,140.2Z M240.6,147.2 L243.6,147.2 L243.6,148.5 L240.6,148.5Z M243.2,151.6 L245.8,151.6 L245.8,152.7 L243.2,152.7Z M448.9,159.8 L452.9,157.9 L453.4,158.6 L449.7,160.8Z M488.6,173.0 L492.1,176.2 L492.1,177.5 L489.4,175.7Z M272.4,232.3 L276.2,230.8 L276.7,231.8 L273.5,233.4Z M404.5,222.3 L406.9,223.8 L409.6,226.4 L410.5,228.6 L408.9,227.5 L406.1,225.1Z M417.3,198.8 L420.2,198.8 L420.2,200.7 L417.3,200.7Z M411.8,195.4 L413.0,195.4 L413.0,196.2 L411.8,196.2Z M412.7,189.6 L413.7,189.6 L413.7,190.2 L412.7,190.2Z M415.8,202.5 L417.0,202.5 L417.0,203.3 L415.8,203.3Z M419.6,206.1 L420.5,206.1 L420.5,206.7 L419.6,206.7Z M429.0,206.0 L430.2,206.0 L430.2,206.8 L429.0,206.8Z M432.3,205.0 L433.2,205.0 L433.2,205.6 L432.3,205.6Z M308.0,254.4 L308.9,254.4 L308.9,255.3 L308.0,255.3Z M285.1,261.7 L287.3,262.0 L287.3,262.6 L285.1,262.3Z M459.0,227.4 L460.4,227.4 L460.4,228.3 L459.0,228.3Z M465.9,229.1 L466.9,229.1 L466.9,229.8 L465.9,229.8Z M462.7,260.9 L463.7,260.9 L463.7,261.5 L462.7,261.5Z M482.6,263.7 L483.5,263.7 L483.5,264.4 L482.6,264.4Z" fill="#222" stroke="none"/>
</g>
<g transform="translate(0,0)">
<text y="23.7" font-size="12.89" xml:space="preserve"><tspan x="10.87">IFS </tspan><tspan x="34.11">- </tspan><tspan x="42.84" letter-spacing="0.11">Probabilities </tspan><tspan x="127.08" letter-spacing="0.15">total </tspan><tspan x="161.62">precipitation/24h </tspan><tspan x="275.90">&gt; </tspan><tspan x="290.88">10 </tspan><tspan x="311.36">mm, </tspan><tspan x="344.83">Init: </tspan><tspan x="373.84">20260314 </tspan><tspan x="442.97">12z </tspan><tspan x="469.50">- </tspan><tspan x="478.43">Valid: </tspan><tspan x="518.19" letter-spacing="-0.16">20260317:00 </tspan><tspan x="606.73">TU</tspan></text>
<rect x="158.50" y="36.5" width="35.32" height="7.0" fill="#ffff00"/>
<rect x="193.72" y="36.5" width="35.32" height="7.0" fill="#ffd000"/>
<rect x="228.94" y="36.5" width="35.32" height="7.0" fill="#ffa800"/>
<rect x="264.17" y="36.5" width="35.32" height="7.0" fill="#ff8a00"/>
<rect x="299.39" y="36.5" width="35.32" height="7.0" fill="#ff6a00"/>
<rect x="334.61" y="36.5" width="35.32" height="7.0" fill="#ee1a0a"/>
<rect x="369.83" y="36.5" width="35.32" height="7.0" fill="#cc0000"/>
<rect x="405.06" y="36.5" width="35.32" height="7.0" fill="#990000"/>
<rect x="440.28" y="36.5" width="35.32" height="7.0" fill="#660000"/>
<path d="M193.72,36.5 V43.5 M228.94,36.5 V43.5 M264.17,36.5 V43.5 M299.39,36.5 V43.5 M334.61,36.5 V43.5 M369.83,36.5 V43.5 M405.06,36.5 V43.5 M440.28,36.5 V43.5" stroke="#000" stroke-width="0.8" fill="none"/>
<rect x="158.5" y="36.5" width="317.0" height="7.0" fill="none" stroke="#000" stroke-width="1"/>
<text transform="translate(158.50,31.2) scale(1.116,1)" font-size="8.6" text-anchor="middle" fill="#222">10</text>
<text transform="translate(193.72,31.2) scale(1.116,1)" font-size="8.6" text-anchor="middle" fill="#222">25</text>
<text transform="translate(228.94,31.2) scale(1.116,1)" font-size="8.6" text-anchor="middle" fill="#222">40</text>
<text transform="translate(264.17,31.2) scale(1.116,1)" font-size="8.6" text-anchor="middle" fill="#222">50</text>
<text transform="translate(299.39,31.2) scale(1.116,1)" font-size="8.6" text-anchor="middle" fill="#222">60</text>
<text transform="translate(334.61,31.2) scale(1.116,1)" font-size="8.6" text-anchor="middle" fill="#222">70</text>
<text transform="translate(369.83,31.2) scale(1.116,1)" font-size="8.6" text-anchor="middle" fill="#222">80</text>
<text transform="translate(405.06,31.2) scale(1.116,1)" font-size="8.6" text-anchor="middle" fill="#222">90</text>
<text transform="translate(440.28,31.2) scale(1.116,1)" font-size="8.6" text-anchor="middle" fill="#222">95</text>
<text transform="translate(475.50,31.2) scale(1.116,1)" font-size="8.6" text-anchor="middle" fill="#222">100</text>
<rect x="141.0" y="49.4" width="352.1" height="227.95" fill="none" stroke="#222" stroke-width="1"/>
<text transform="translate(488.4,254.2) scale(1.116,1)" font-size="8.6" text-anchor="end" fill="#1a1a1a">from grib files provided by ECMWF</text>
<text transform="translate(488.4,273.4) scale(1.116,1)" font-size="8.6" text-anchor="end" fill="#1a1a1a">©2026 sb@irizone.net</text>
</g>
<g transform="translate(0,268.5)" clip-path="url(#clip)">
<path d="M210.2,109.3 L209.5,110.5 L209.6,111.5 L209.0,113.8 L208.9,114.6 L208.0,116.3 L207.4,117.5 L207.4,118.7 L207.1,120.1 M209.6,117.5 L211.1,118.1 L212.1,118.4 L213.7,117.7 L216.0,118.2 L217.5,117.7 L219.4,117.7 L220.8,117.9 L222.2,118.7 L223.4,118.8 L224.6,118.7 L226.7,118.0 L228.1,118.4 L228.9,117.9 L230.9,116.4 L231.6,115.8 L232.8,113.9 L233.4,112.8 L233.7,111.8 M231.8,122.0 L231.9,123.2 L232.3,124.8 L232.4,125.7 L231.5,127.2 L230.6,129.6 M233.1,112.5 L234.8,112.4 L237.1,113.4 L239.3,112.5 L240.3,112.7 L242.2,112.6 L243.9,111.8 M246.4,112.5 L247.0,113.5 L247.3,115.4 L247.4,116.5 L247.0,118.4 L247.1,119.7 L246.1,121.2 L246.5,122.5 L246.0,123.9 L246.4,125.2 L246.8,126.5 L248.1,127.3 L248.3,129.0 M241.3,111.2 L242.7,112.0 L244.8,111.5 L245.9,112.6 L248.0,112.1 L249.2,111.6 L251.1,111.4 L251.8,110.7 L252.0,109.4 L251.0,107.9 L250.4,107.2 L249.4,105.7 L248.5,104.0 L249.9,102.1 L248.3,100.4 M252.1,110.5 L254.1,110.5 L255.6,110.1 L257.4,110.0 L259.3,109.5 L261.5,108.6 L263.5,108.6 L265.4,107.9 L267.4,107.8 L269.8,107.6 L271.1,107.1 L273.6,106.9 L275.0,106.7 M248.3,113.7 L250.4,113.9 L252.0,113.6 L253.8,113.3 L255.5,114.1 L258.2,113.4 L259.7,113.6 L261.4,113.4 L263.6,114.0 L265.9,114.1 L267.1,113.4 L269.2,113.3 L271.1,114.5 L272.9,114.0 L275.0,113.7 M233.1,121.3 L235.2,121.2 L237.3,121.6 L238.6,122.8 L240.2,123.1 L241.9,123.7 L243.4,123.9 L245.8,123.9 M245.8,123.9 L247.4,123.9 L249.2,124.5 L251.5,124.2 L253.7,124.2 L255.1,124.4 L257.6,124.7 L259.4,124.4 L261.5,124.4 L263.0,124.8 L264.8,124.3 M261.0,114.1 L260.3,115.1 L260.6,117.0 L260.0,117.9 L259.1,119.1 L258.7,120.5 L258.6,121.8 L258.9,123.4 L259.8,124.5 M269.9,101.7 L270.6,104.2 L271.2,107.4 M271.2,114.1 L271.4,115.8 L272.5,116.6 L272.7,118.5 L273.7,120.3 L273.3,121.6 L273.5,123.0 L272.9,124.9 L272.3,126.2 L271.3,127.4 L271.2,128.3 M223.6,118.8 L224.0,120.1 L224.7,122.1 L224.2,123.4 L223.6,124.8 M288.3,79.1 L289.4,79.6 L291.0,79.0 L292.9,79.1 L294.2,79.3 L295.3,78.9 L296.8,78.5 L299.0,78.4 L299.9,77.5 L302.4,78.4 L303.5,79.0 L305.4,80.3 L306.9,80.9 L308.1,80.8 L309.0,81.1 L311.0,80.2 L312.3,79.1 L313.4,77.0 L312.4,76.5 L311.6,75.6 L310.3,74.1 L308.9,73.4 L307.4,71.5 M289.0,88.0 L290.3,87.7 L292.2,87.9 L293.8,87.5 L294.6,87.2 L296.4,87.3 L297.7,87.4 L299.0,88.3 L300.5,88.7 L302.1,89.0 L303.6,88.6 L305.2,88.6 L306.7,89.2 L307.7,89.9 L309.6,89.2 L311.7,89.6 L312.4,89.2 L313.8,89.7 L315.7,89.3 L317.3,88.9 L319.9,88.9 L321.8,89.7 L322.9,89.9 L324.4,90.3 L326.7,90.7 L326.8,89.6 L326.7,88.0 L326.5,86.6 L326.1,85.7 L324.9,85.4 L323.4,84.9 L321.8,85.3 L319.5,85.0 L318.6,84.6 L316.5,84.0 L315.8,83.7 L314.5,82.5 L314.2,81.0 L313.1,79.1 M311.2,89.9 L310.8,91.5 L310.8,92.9 L310.5,94.8 L311.5,96.0 L311.1,98.2 L310.2,99.1 L310.2,100.9 L310.4,103.1 L309.5,104.2 L309.3,105.2 M289.0,94.4 L291.0,94.3 L293.2,94.7 L293.8,95.2 L295.3,95.4 L297.1,96.1 L298.6,95.9 L300.5,95.5 L301.4,95.2 L303.1,95.4 L304.8,95.7 L305.9,96.0 L308.1,95.7 L308.9,95.6 L310.6,96.3 M290.2,95.0 L289.7,96.1 L289.9,98.5 L290.6,100.2 L291.2,101.4 L290.6,102.1 L290.2,103.9 M326.4,90.5 L326.6,91.9 L327.2,93.3 L326.5,95.2 L325.8,96.8 L325.1,98.4 L325.5,99.5 L326.4,100.0 L328.7,100.9 L330.5,100.3 L332.5,101.1 L333.8,101.8 L336.3,102.1 L337.6,102.2 L339.8,102.6 M318.8,100.1 L320.3,99.7 L322.2,99.8 L323.4,99.6 L325.2,99.4 M297.2,107.1 L298.9,106.6 L300.2,106.1 L301.5,106.1 L302.3,107.1 L302.9,109.8 L301.5,109.8 L300.3,110.3 L299.1,110.2 L297.6,109.3 M275.0,109.6 L276.4,109.1 L279.2,108.5 L281.0,108.2 L282.8,108.6 L284.3,108.8 L286.2,109.8 L287.7,111.0 L288.8,112.2 L290.7,113.4 L292.0,113.8 L293.4,114.2 L295.3,114.7 M302.9,112.1 L304.7,112.1 L306.4,111.6 L308.9,111.6 L310.1,110.6 L312.5,111.0 L314.0,110.6 L315.5,109.3 L317.3,107.9 L315.5,106.1 L314.0,105.8 L313.3,105.6 L310.8,105.6 L309.3,105.2 M316.9,108.3 L318.8,108.6 L321.0,109.9 L322.3,110.7 L324.8,110.6 L325.9,111.5 L328.7,111.1 L330.5,112.1 L332.3,112.5 L334.5,111.3 L336.3,111.3 L337.0,110.4 L338.7,109.9 L339.2,108.1 L339.5,107.1 L339.4,105.9 L340.2,103.8 L339.8,102.6 M328.3,111.5 L328.8,113.3 L328.6,115.0 L328.9,116.1 L327.9,117.6 L329.2,119.4 L329.6,121.0 M334.7,91.8 L336.9,92.1 L338.1,92.9 L340.1,93.4 L340.6,94.6 L341.9,95.2 L343.8,95.4 L346.3,96.6 L347.9,95.9 L349.5,95.5 L350.9,96.6 L352.7,97.2 L353.8,96.8 L355.0,96.3 M327.1,88.0 L328.6,88.2 L330.7,88.4 L332.1,87.4 L332.6,86.5 L333.8,88.1 L334.0,89.2 L334.8,91.0 L334.7,91.8 M346.1,96.3 L347.0,97.6 L348.4,98.6 L348.7,99.7 L349.9,101.6 L349.3,102.5 L349.8,103.9 L350.1,105.2 L351.2,105.8 M295.3,114.7 L296.0,116.1 L295.6,118.0 L295.6,119.5 L294.8,120.2 L295.3,122.3 M282.6,108.3 L282.3,109.7 L281.9,111.5 L283.0,113.5 L283.7,114.7 L283.4,115.9 L283.0,118.0 L283.6,119.3 L283.9,121.0 M302.9,112.1 L303.7,113.2 L303.9,115.6 L304.1,117.2 L304.6,118.7 L304.5,120.0 L304.2,121.7 M339.8,102.6 L341.4,102.6 L343.8,101.6 L346.0,102.0 L347.3,102.5 L348.7,104.1 L350.4,104.9 L351.2,105.8 M338.5,109.6 L340.3,109.8 L341.9,110.9 L344.3,110.5 L346.6,110.1 L347.9,110.8 L349.6,111.9 L351.9,111.2 L353.7,110.9 M307.4,71.5 L310.6,70.2 M313.1,77.2 L314.9,76.6 L316.7,76.6 L318.8,76.4 L320.8,75.0 L321.9,74.3 L323.7,74.3 L325.2,72.5 L325.8,71.5 M325.8,71.5 L327.3,72.1 L328.4,72.8 L329.1,73.0 L331.0,74.9 L332.0,76.4 L332.1,77.3 L331.1,79.2 L332.3,80.4 L332.3,82.3 L332.3,84.0 L332.9,85.0 L332.8,86.7 M338.5,71.5 L338.8,72.8 L338.8,74.4 L338.8,76.2 L338.1,77.7 L338.5,79.5 L338.6,80.9 L337.9,82.3 L337.7,84.4 L336.0,85.3 L334.3,85.9 L334.1,88.0 L334.0,89.3 M355.0,72.8 L355.1,74.3 L356.6,76.2 L356.2,77.3 L355.4,79.3 L356.4,80.9 L357.4,82.6 L358.6,83.9 L359.9,84.7 L359.6,85.9 L359.2,87.5 L357.9,89.2 L357.2,90.4 L357.2,92.1 L358.2,93.3 L359.4,93.6 L361.0,94.7 L362.0,94.2 L363.3,94.4 M360.7,95.0 L361.4,96.7 L362.9,98.3 L363.8,99.7 L365.3,100.4 L366.5,101.8 L367.9,102.3 L369.1,103.1 L370.5,103.7 L373.0,103.6 L374.4,103.5 L376.2,104.0 L378.1,103.9 L380.1,104.7 L382.1,105.5 L384.6,105.3 L386.1,105.8 M370.9,103.9 L370.8,105.7 L370.3,106.8 L371.6,108.5 L371.7,108.8 L372.9,109.6 L374.0,111.3 L373.3,112.5 L373.2,112.9 L372.9,114.1 L371.2,114.9 L371.7,116.5 L371.8,118.2 L371.9,120.0 L371.5,121.7 M358.8,108.3 L360.5,109.0 L362.9,109.8 L364.4,110.6 L366.7,110.9 L368.3,111.3 L369.9,112.5 L371.9,112.4 L373.4,113.4 M355.0,98.8 L358.2,98.8 L360.7,98.2 M362.6,114.7 L364.9,114.7 L366.0,114.2 L368.1,114.7 L370.2,115.3 M358.8,108.3 L358.8,109.8 L358.2,111.7 L358.5,113.2 L359.4,115.2 L358.8,116.5 L358.4,117.6 L359.1,119.1 L360.1,121.0 M245.3,122.5 L246.0,123.8 L246.9,125.3 L247.7,127.3 L248.1,127.9 L250.7,128.5 L252.7,128.7 L254.1,129.0 L256.0,128.7 L258.1,128.5 L259.3,129.9 L260.8,130.2 L263.1,130.1 M242.1,135.2 L244.3,135.1 L246.1,134.2 L247.9,134.4 L249.2,135.2 L250.2,135.4 L251.8,135.7 L252.9,136.1 L254.7,136.1 L256.7,135.8 L258.5,135.2 L259.8,135.8 L261.4,136.8 L262.6,137.7 L263.6,139.5 L263.2,140.2 L262.7,142.4 L263.2,143.3 L264.2,145.3 L264.8,146.9 L265.4,147.4 L266.7,148.9 L266.4,150.1 L266.8,151.9 L265.3,152.6 L264.4,153.8 L262.5,153.9 L260.8,155.3 L258.8,155.4 L258.2,157.3 L258.0,158.1 M246.0,146.6 L247.5,146.8 L250.1,146.2 L251.2,146.5 L253.6,146.6 L253.9,145.4 L255.1,143.7 L254.9,142.7 L254.0,141.3 L254.8,140.4 L255.5,139.4 L255.2,137.4 L254.8,135.8 M254.8,146.6 L256.6,147.3 L256.9,148.4 L258.5,149.1 L259.8,150.0 L261.9,150.1 L263.5,150.0 L264.6,149.1 L265.6,147.9 M258.0,158.1 L259.4,158.9 L260.9,159.4 L262.9,159.3 L264.0,158.5 L266.3,158.4 L268.0,157.0 L268.8,156.4 L270.9,156.4 L272.4,155.8 L273.9,154.9 L275.6,153.1 L274.5,151.1 M258.0,158.1 L257.5,159.4 L256.7,160.9 L257.5,161.5 L257.9,163.1 L257.6,164.8 L257.2,166.2 L256.1,168.2 M273.9,154.9 L275.4,155.4 L277.5,155.7 L278.2,157.0 L280.1,157.4 L281.6,158.2 L282.5,158.8 L283.8,161.0 L283.8,161.8 L283.6,163.0 L283.8,165.4 L283.8,166.1 L284.9,167.9 L284.3,169.1 L284.0,170.8 M275.2,145.4 L276.5,145.3 L278.7,145.1 L279.9,145.1 L282.6,145.6 L284.0,144.7 L285.5,145.0 L287.4,145.3 L289.9,145.3 L292.1,145.5 L293.7,144.3 L295.6,145.0 L297.1,145.8 L299.2,145.9 L300.3,147.1 L301.3,148.4 L301.8,150.1 L301.2,151.6 L301.0,153.4 L300.7,153.8 L299.3,154.9 M275.8,133.9 L276.5,135.1 L277.0,137.2 L276.9,138.5 L276.0,139.9 L275.9,141.2 L275.0,142.9 L275.6,145.4 L274.7,147.3 L274.5,149.4 L274.5,151.1 M278.3,130.1 L279.9,130.2 L282.1,131.2 L283.7,130.1 L285.6,129.8 L287.7,130.6 L290.0,131.3 L291.6,131.0 L293.8,131.2 L294.4,132.1 L295.2,133.1 L295.2,134.7 L294.7,136.2 L295.1,138.4 L296.0,139.8 L295.8,141.3 L295.2,142.5 L296.3,144.3 L297.4,145.4 M267.5,166.9 L268.2,168.0 L269.0,170.1 L268.1,171.5 L268.2,173.3 M283.4,165.0 L285.0,165.7 L287.3,165.5 L288.9,165.1 L290.8,164.9 L293.2,166.0 L295.0,166.7 L296.9,165.6 L298.7,165.7 M295.5,132.7 L296.9,132.6 L299.0,133.3 L301.5,133.1 L303.0,132.4 L305.0,133.9 M296.1,139.6 L298.5,140.2 L299.8,139.8 L302.3,140.7 L304.1,141.2 L305.0,140.9 M263.1,130.1 L265.2,130.3 L267.3,130.6 L268.4,130.1 L271.0,130.6 L272.8,130.9 L274.3,131.2 L276.0,131.2 L278.3,130.1 M263.1,130.1 L263.0,131.8 L263.6,133.0 L263.0,135.3 L262.5,136.5 M232.6,122.5 L232.0,123.8 L232.1,125.8 L232.9,126.6 L234.3,127.8 L235.2,128.3 L237.1,128.8 L239.0,128.8 L241.3,128.2 L241.5,127.1 L242.6,125.2 L243.8,124.0 L245.3,122.5 M299.3,154.9 L298.0,155.1 L295.9,156.5 L295.0,157.0 L293.8,159.0 L292.2,159.3 L291.2,160.4 L288.8,160.6 L287.1,160.9 L285.5,161.6 L284.0,161.9 M305.0,139.0 L307.0,139.2 L309.1,139.2 L310.5,139.8 L313.0,139.4 L314.8,139.7 L316.7,140.4 L318.0,139.7 L319.8,140.0 L322.0,140.2 L324.1,140.5 L326.2,140.9 L328.2,140.7 L329.6,140.6 L331.9,141.7 L333.4,142.0 L335.1,143.1 L336.8,143.1 L338.3,142.8 M324.0,135.2 L324.2,136.6 L324.7,138.6 L324.7,139.5 L324.2,140.8 L324.7,143.1 L324.7,144.6 L323.8,146.7 L323.7,147.7 L323.3,149.5 L324.5,151.2 L325.0,153.0 L325.3,154.2 M315.2,147.3 L317.1,147.6 L318.9,148.0 L320.5,148.0 L322.4,146.9 L324.9,148.0 L326.9,148.7 L328.9,147.8 L329.9,147.6 L332.6,148.2 L334.2,149.4 L335.5,150.4 M325.3,154.2 L326.9,154.6 L329.5,155.1 L330.9,155.5 L332.7,156.6 L334.8,157.0 L336.1,157.4 M312.6,160.6 L314.3,160.5 L316.4,160.3 L318.2,160.7 L320.4,160.5 L322.2,160.6 L324.1,160.4 L325.5,161.0 L328.1,161.2 L330.1,160.6 L331.5,160.8 L333.9,160.5 L335.5,160.6 M328.5,149.8 L329.3,151.5 L328.7,152.6 L328.4,154.6 L328.3,155.9 L329.1,157.3 L330.2,159.7 L329.5,160.9 L329.1,162.5 M339.3,142.8 L341.0,143.6 L342.9,144.6 L345.5,144.6 L347.2,144.3 L348.4,145.2 L350.3,145.9 L352.8,146.0 L354.3,145.1 L354.6,145.8 L355.8,147.3 M371.0,130.8 L369.2,131.6 L367.9,133.1 L366.4,134.3 L364.8,135.0 L363.3,136.7 L361.7,137.7 L360.2,138.8 L358.5,140.2 L358.1,141.2 L357.4,143.2 L358.1,144.7 L358.3,146.0 M368.5,145.4 L368.2,146.3 L367.6,148.1 L369.3,148.5 L369.3,149.7 L369.0,151.2 L368.1,152.7 L367.2,154.2 M337.4,159.3 L339.1,160.4 L341.0,160.4 L342.5,162.3 L344.5,163.5 L345.5,163.8 L347.8,164.9 L349.6,163.4 L350.6,163.6 L352.3,162.3 L353.6,160.1 L355.3,159.1 L355.9,157.9 L357.5,157.9 L359.4,157.2 L360.3,157.4 L361.7,157.3 L364.5,156.5 L365.8,156.2 L367.0,155.3 L368.5,154.0 M355.8,158.1 L357.2,158.9 L358.8,160.2 L360.1,161.4 L361.2,162.1 L363.6,163.1 L364.6,163.4 L367.1,162.9 L368.5,161.6 L369.8,161.4 L371.3,160.1 L371.1,158.3 L370.5,157.1 L369.1,155.7 L368.5,154.0 M344.4,163.1 L344.5,165.1 L345.7,166.6 L345.7,168.5 L344.7,170.0 L346.0,171.6 L346.9,173.3 M353.9,160.6 L354.0,162.1 L355.4,164.0 L356.5,166.0 L358.7,167.3 L359.3,167.7 L361.1,169.6 L362.3,168.1 L364.0,167.6 M305.0,161.9 L306.5,162.2 L308.3,163.6 L309.5,163.7 L311.5,164.6 L312.7,165.6 L315.0,166.1 L315.9,166.6 L317.7,166.9 M371.0,160.0 L372.3,160.8 L374.4,161.7 L375.5,162.8 L375.7,164.5 L375.4,166.4 L374.4,167.8 L375.6,169.0 L375.7,170.9 L376.1,172.0 L375.5,173.3 M336.7,164.4 L334.8,164.9 L333.0,165.0 L331.0,165.6 L329.8,166.7 L329.0,167.3 L327.1,167.9 L326.4,169.7 L325.1,170.9 L325.2,171.9 L324.0,173.3 M308.8,122.5 L309.9,124.3 L310.2,126.7 L311.1,127.4 L313.1,128.4 L314.3,129.1 L316.7,129.6 L318.8,129.3 L319.7,128.4 L321.7,129.4 L323.6,130.1 L324.2,131.5 L324.4,133.4 L324.0,135.2 M324.0,130.1 L326.4,129.3 L328.0,128.9 L329.5,129.4 L331.2,129.2 L333.4,129.2 L335.5,127.8 L337.2,128.6 L339.6,128.5 L341.5,128.1 L343.1,127.5 L344.9,128.4 L346.9,128.2 M346.9,128.2 L347.6,130.5 L347.8,132.2 L348.1,132.5 L349.4,133.9 M346.9,128.2 L349.1,127.8 L350.8,126.8 L352.4,127.7 L354.6,127.1 L356.3,126.8 L357.9,126.8 L360.6,126.9 L361.6,126.9 L363.0,128.2 L364.7,129.1 M335.5,128.2 L336.2,130.0 L336.6,130.8 L336.3,132.3 L337.9,134.9 L338.3,136.2 L338.8,137.4 L338.7,139.0 M317.7,166.9 L318.2,168.0 L319.5,170.0 L318.9,172.0 L318.3,173.3 M235.0,191.4 L237.0,192.3 L239.1,192.7 L240.5,192.8 L241.6,193.9 L243.1,194.6 L245.6,195.0 L247.0,195.7 L249.5,196.7 L250.7,197.1 L252.2,197.4 L253.3,198.2 L255.1,198.8 L256.2,199.2 L258.1,199.3 L259.2,199.7 L260.4,199.7 L262.1,200.1 L263.3,200.9 L265.5,201.1 L266.5,201.4 L268.6,201.1 L269.4,201.0 L271.1,200.5 L272.4,201.5 L274.5,202.0 L275.9,201.4 L278.2,201.3 L279.9,202.1 L282.0,202.8 L284.0,203.2 L285.9,204.0 L287.6,203.6 L290.1,204.9 L291.1,204.4 L293.1,205.1 L294.9,204.8 L297.2,205.1 L298.9,205.8 L300.7,205.7 L302.7,205.7 L304.7,205.5 L306.6,205.1 L308.2,205.3 L310.2,204.6 L311.2,204.3 M242.0,187.8 L243.0,187.8 L245.3,188.2 L246.1,188.8 L248.3,187.9 L249.4,188.1 L250.5,187.6 L252.5,188.2 L254.0,188.4 L255.2,188.0 L256.3,188.6 L258.6,188.4 L259.3,188.1 L261.3,188.0 L263.3,188.8 L264.5,190.7 L263.5,192.1 L262.7,193.0 L262.8,194.2 L262.2,195.7 L262.3,197.0 L261.7,198.6 M248.3,173.8 L249.5,173.8 L251.4,174.4 L252.8,174.8 L254.3,175.0 L255.4,175.8 L256.3,176.7 L258.1,177.2 L260.8,177.8 L261.3,178.2 L263.0,179.4 L263.7,179.8 L265.5,182.1 M260.4,182.7 L261.9,182.4 L262.9,182.2 L264.6,181.6 L266.4,181.1 L268.3,180.9 L269.2,180.9 L271.5,181.6 L273.4,181.5 L274.6,182.9 L276.1,184.5 L277.5,185.0 L278.9,186.5 L277.6,188.1 L276.6,189.3 L275.6,189.6 L274.6,190.6 L273.6,191.5 L271.5,190.4 L269.5,190.4 L268.1,189.7 L266.0,188.6 L264.8,188.8 L263.6,188.5 M277.5,176.4 L279.3,175.7 L281.3,175.3 L282.9,176.3 L285.0,177.0 L287.1,176.6 L288.6,175.9 L290.9,177.5 L292.6,177.5 L294.5,177.6 L296.6,177.3 L297.7,175.7 L299.5,175.0 L301.6,174.4 L304.0,173.8 L305.6,173.7 L307.4,172.6 M289.0,184.3 L290.1,186.1 L291.2,187.7 L291.7,189.5 L293.4,190.4 L294.9,190.9 L297.1,191.1 L298.9,191.1 L300.9,190.1 L303.3,189.4 L304.6,189.1 L307.2,188.1 L308.4,188.1 L310.1,187.1 L312.5,186.5 M290.9,187.8 L290.5,189.9 L289.9,191.2 L290.6,192.8 L291.2,194.1 L291.9,195.4 L292.9,196.4 L294.7,197.5 L296.3,199.0 L298.6,199.6 L300.0,198.9 L302.3,198.2 L304.0,198.7 L306.3,198.0 L308.1,198.0 L309.9,197.3 M294.7,198.0 L294.8,199.7 L293.6,201.5 L294.3,202.2 L295.0,203.7 L296.4,204.6 L297.2,205.6 M278.8,186.5 L280.4,187.5 L282.2,189.1 L283.1,190.1 L284.5,190.4 M287.7,192.3 L289.7,193.0 L291.4,192.5 L292.0,191.6 L293.4,190.4 M269.3,190.4 L269.7,192.5 L271.0,193.8 L271.2,196.2 L272.2,197.3 L271.1,199.0 L271.2,200.8 M293.4,170.0 L294.7,171.6 L295.6,172.4 L296.6,173.6 L296.5,175.1 L296.6,177.0 M303.6,167.5 L304.1,169.0 L304.6,170.4 L304.3,172.0 L303.6,173.8 M260.4,177.7 L261.0,180.2 L260.4,182.7 M273.1,181.5 L273.3,179.5 L273.9,178.2 L276.4,177.2 L277.5,176.4 M350.6,186.9 L351.1,188.0 L351.2,190.1 L350.5,191.7 L350.6,193.2 M323.3,172.3 L323.5,173.7 L324.2,175.7 L325.1,175.7 L326.6,176.5 L329.1,177.1 L331.3,176.8 L332.2,177.2 L334.3,177.4 M327.1,176.7 L327.6,178.6 L328.2,180.6 L327.0,182.2 L326.7,184.5 L327.5,186.3 L327.7,187.5 M351.2,185.6 L352.2,184.9 L354.6,185.0 L355.4,185.4 L356.7,185.1 L359.0,184.6 L360.2,183.9 L361.7,184.3 L363.3,184.0 L364.1,183.4 L366.3,182.7 L367.3,182.2 L369.3,180.6 L368.2,179.7 L367.8,177.7 L368.1,177.1 L368.3,175.5 M367.7,182.5 L369.6,185.0 L370.2,187.5 M368.3,174.2 L369.5,175.4 L371.0,177.2 L372.3,177.1 L373.5,177.8 L374.7,178.9 L376.1,179.0 L378.3,179.4 L379.8,180.2 L380.5,181.0 L379.5,182.5 L379.2,183.4 L378.5,184.7 M337.2,164.7 L339.4,165.0 L340.9,165.1 L343.3,166.3 L345.3,166.3 L346.0,167.7 L347.5,168.8 L349.5,169.6 L350.5,171.2 L349.3,172.2 L348.9,173.7 L347.8,174.1 L346.5,175.2 L346.6,177.2 L347.5,179.1 L348.4,180.0 L349.3,180.6 L351.0,181.8 L351.6,183.7 L351.2,185.6 M344.8,166.6 L345.3,165.2 L346.4,164.2 L348.3,163.4 L350.3,163.0 L351.1,162.0 L353.1,162.1 M355.0,175.2 L357.1,176.1 L359.0,176.7 L359.8,176.9 L362.1,177.3 L362.8,177.0 L365.1,177.6 L365.9,178.0 L367.7,178.0 M359.4,161.5 L359.6,163.5 L359.0,165.0 L359.3,165.9 L361.0,167.1 L361.5,168.4 L363.3,168.4 L364.3,169.8 M364.8,167.6 L366.1,168.1 L368.8,168.6 L370.0,169.4 L370.9,170.7 L370.1,171.9 L369.6,173.1 L368.3,174.2 M336.6,175.5 L338.6,175.9 L340.8,176.4 L341.9,177.1 L344.2,177.8 L345.8,177.6 L347.4,178.6" fill="none" stroke="#929292" stroke-width="0.46"/>
<path d="M446.6,86.0 L448.9,85.1 L450.6,84.9 L452.1,83.9 L453.5,83.9 L455.5,83.1 L456.5,83.1 L458.7,82.2 L460.1,82.4 L462.0,81.7 L463.2,81.4 L464.5,80.7 L466.1,80.8 L467.9,80.4 L469.5,80.0 L470.8,79.2 L473.2,79.1 L474.0,79.0 L476.2,78.2 L477.6,78.0 L479.1,77.3 L479.5,77.2 L481.0,75.7 L483.1,74.7 L484.5,75.6 L485.8,76.7 L486.9,77.9 L487.6,78.0 L488.7,77.5 L489.8,76.9 L490.7,75.6 L491.0,73.7 L490.8,71.6 L490.0,70.6 L489.1,69.8 L487.6,68.2 L486.4,67.4 L485.6,65.3 L484.6,63.5 L486.3,63.0 L487.0,61.4 M446.6,86.0 L447.5,87.2 L448.7,89.0 L450.5,91.1 L451.6,91.9 L452.8,94.1 L453.8,96.0 L454.9,96.4 L457.1,98.3 L458.6,98.9 L460.1,100.5 L461.3,101.3 L463.0,102.3 L464.8,103.6 L466.2,104.7 L468.1,105.6 L469.8,106.7 L470.7,108.4 L472.5,109.4 L474.3,110.6 L474.8,111.4 L476.7,111.9 L479.4,111.8 L481.0,111.0 L483.4,110.6 L485.2,109.7 L486.8,109.1 L488.3,108.6 L488.8,107.9 L490.0,106.6 L492.6,105.8 M441.0,127.8 L442.4,127.6 L444.0,127.1 L446.0,126.6 L447.3,126.6 L448.9,126.2 L450.5,126.0 L453.0,125.8 L454.6,126.4 L455.6,127.2 L457.3,128.2 L458.7,128.3 L460.2,128.7 L460.5,127.1 L461.6,125.9 L461.1,124.3 L459.7,122.7 L459.1,122.6 L457.6,121.6 L456.7,120.6 L456.1,119.1 M441.0,136.5 L443.2,135.6 L444.6,135.6 L445.9,135.5 L447.5,134.7 L448.4,136.0 L449.0,137.0 L450.9,138.3 L452.4,139.4 L454.0,140.7 L455.2,140.3 L456.8,141.4 L458.2,141.6 L459.7,141.8 L461.8,142.0 L463.4,142.0 L465.1,142.3 L466.8,143.3 L468.6,143.2 L469.9,143.3 L472.2,143.7 L474.2,143.5 L475.6,144.3 L477.6,144.2 L479.0,143.9 L481.0,144.7 L483.4,144.2 L485.4,143.6 L487.1,144.1 L488.5,143.8 L490.3,142.7 L491.8,142.9 M467.2,145.2 L467.8,146.4 L468.6,147.8 L468.1,149.5 L467.8,150.4 L468.7,151.6 L469.3,153.4 L470.4,155.1 M472.0,159.5 L473.6,159.2 L474.7,159.0 L476.4,158.9 L478.4,158.4 L480.6,157.8 L482.4,156.8 L483.6,156.8 L484.9,157.5 L486.6,157.9 L487.5,158.0 L489.8,158.4 L491.0,158.8 L492.6,158.7 M141.0,214.0 L143.1,213.9 L144.6,212.8 L146.6,213.3 L148.1,213.2 L150.0,213.6 L151.6,214.6 L152.9,213.2 L154.6,212.5 L156.0,211.8 L158.1,211.7 L159.1,211.5 L161.0,212.4 L162.7,211.5 L163.9,211.4 L164.6,212.9 L164.9,215.2 L166.2,215.2 L166.8,216.0 L169.0,217.0 L170.4,217.5 M241.0,191.0 L242.5,192.5 L243.9,193.8 L245.7,194.5 L247.1,195.1 L248.8,195.4 L250.2,195.9 L252.5,196.4 L254.1,196.8 L255.6,197.4 L257.1,197.1 L258.2,197.7 L259.6,197.9 L262.0,198.9 L263.1,199.2 L265.1,199.7 L266.7,199.8 L267.6,200.3 L269.4,200.5 L271.0,200.7 L273.2,200.7 L274.4,201.3 L276.0,201.7 L277.4,201.8 L279.3,202.0 L280.3,201.6 L282.1,202.5 L283.4,202.1 L285.6,203.0 L286.7,202.8 L288.8,203.3 L290.4,203.6 L291.6,203.5 L293.0,204.1 L294.7,204.0 L297.0,204.7 L298.2,204.9 L299.8,205.3 L301.1,205.0 L302.5,205.3 L304.4,205.7 L305.7,205.8 L308.1,205.7 L309.1,205.5 L311.6,204.5 M397.3,206.9 L398.6,207.6 L400.6,208.3 L401.4,209.4 L402.5,210.6 L403.5,212.4 L404.5,214.0 M160.0,225.9 L160.8,227.2 L160.9,229.1 L161.2,230.3 L160.9,232.3 L160.5,234.3 L160.2,236.2 L160.8,238.0 L160.2,240.2 L159.8,241.9 L159.3,243.9 L159.3,245.6 M150.5,247.7 L151.7,249.2 L153.1,250.6 L154.1,252.3 L155.5,254.2 L156.7,255.6 L157.4,257.6 L158.5,258.8 M153.7,262.5 L154.5,264.1 L155.1,265.9 L156.7,267.8 L157.7,269.3 L156.6,270.7 L156.0,272.1 L154.4,273.7 L153.1,274.4 L151.5,276.1 L150.5,277.1 M390.7,126.0 L392.2,123.8 L393.7,124.5 L394.9,124.7 L395.6,125.1 L397.1,125.1 M409.8,129.2 L411.2,129.0 L412.1,128.9 L413.8,129.1 L414.5,129.8 L415.9,130.4 L416.5,132.2 L417.8,131.7 L419.1,130.7 L420.2,130.2 L421.4,128.2 L423.0,128.5 L424.3,128.3 L426.0,128.1 L427.7,128.2 L428.6,129.5 L430.1,129.8 M430.1,129.8 L432.0,129.5 L434.1,129.2 L435.3,128.8 L436.4,128.2 L437.9,128.4 L440.6,127.4 L441.8,127.0 L443.9,126.4 L446.1,125.7 L447.4,125.3 L448.5,125.4 M456.1,119.0 L458.0,119.7 L459.5,120.6 L460.0,121.5 L461.1,122.5 L461.8,124.6 L461.8,126.1 L461.2,126.9 L459.8,128.7 L458.7,127.9 L457.2,127.0 L455.9,126.5 L454.6,126.4 L453.0,125.5 L451.0,125.0 L448.5,125.4 M408.5,134.9 L409.3,135.5 L410.4,137.2 L412.5,137.0 L414.0,137.8 L415.7,137.4 L418.3,136.4 L420.0,136.3 L421.1,135.5 L423.2,136.8 L422.8,138.4 L421.7,138.9 L420.8,140.4 L419.4,140.9 L417.6,142.3 L416.6,142.5 L416.2,143.2 L415.0,144.0 L415.8,145.6 L416.4,146.6 L415.9,147.9 L414.5,147.4 L413.1,146.4 L412.0,146.0 L410.5,145.2 L408.2,143.7 L406.4,145.4 L405.6,144.6 L404.5,144.0 L403.0,145.6 L402.4,147.4 L402.0,148.5 L401.8,150.2 L401.3,151.4 L400.8,153.1 L398.8,153.3 L397.0,151.7 L395.8,150.9 L395.4,149.7 L393.5,149.4 L392.3,148.6 L391.3,147.4 L390.4,146.1 L390.7,143.8 M423.1,136.8 L424.9,137.4 L426.8,137.4 L428.7,137.3 L430.5,137.5 L432.3,136.5 L434.6,136.4 L436.6,136.0 L438.5,136.1 L440.2,135.8 L441.2,135.6 L442.8,135.4 L444.8,135.3 L446.8,135.1 L448.5,136.9 L449.3,138.2 L449.7,139.0 L451.3,139.7 L453.3,140.3 L455.2,140.7 L456.9,140.8 L457.8,141.0 L459.2,141.6 L461.0,141.5 L462.7,142.1 L463.7,142.3 L465.0,142.5 M390.7,143.8 L390.2,145.0 L389.1,146.2 L387.9,147.5 L386.4,149.1 L385.0,150.5 M385.0,128.6 L383.3,129.2 L381.1,129.1 L379.3,128.5 L377.1,127.8 L375.6,128.6 L374.0,129.4 L372.3,128.7 L370.4,127.7 M367.2,49.5 L368.7,50.7 L369.2,53.1 L370.3,54.4 L370.5,55.8 L369.1,56.7 L368.0,58.0 L366.1,59.4 L364.9,60.2 L363.4,61.1 L362.2,62.5 L360.8,62.9 L359.8,63.1 L358.1,63.8 L358.0,65.4 L357.1,66.1 L356.7,68.0 L356.6,69.9 L356.5,71.3 L355.9,73.3 L354.1,74.9 L355.4,76.1 L355.6,77.5 L356.1,78.5 L357.2,80.3 L357.5,81.3 L358.2,83.2 L358.2,84.0 L357.5,85.5 L356.6,86.4 L355.8,87.6 L354.3,88.5 L352.5,89.7 L351.9,91.7 L351.0,93.3 L351.3,94.0 L352.5,95.8 L353.2,96.7 L352.0,98.7 L350.3,100.2 L351.5,101.2 L352.9,102.1 L354.5,102.7 M326.7,69.3 L328.0,69.3 L330.0,69.1 L332.3,68.4 L334.0,68.1 L336.2,68.7 L338.1,68.6 L339.2,68.8 L341.4,68.7 L342.4,68.5 L344.3,68.2 L346.0,67.6 L347.3,67.5 L349.1,67.6 L350.9,67.5 L351.7,68.2 L353.3,68.4 L354.9,68.3 L356.9,67.8 M310.8,70.5 L311.2,71.4 L312.3,73.2 L313.4,73.6 L314.9,74.5 L316.0,74.9 L317.2,75.6 L318.9,75.9 L320.5,77.2 L322.2,77.3 L323.4,77.4 L325.2,78.3 L327.9,79.2 L328.4,79.9 L330.2,80.4 L331.4,81.4 L332.1,82.8 L334.5,83.2 L336.1,84.0 L337.7,84.3 L339.2,85.2 L340.8,86.3 L341.9,87.6 L343.7,87.2 L345.6,87.6 L347.8,88.1 L348.5,87.3 L350.2,87.1 L351.3,87.6 L352.1,89.2" fill="none" stroke="#888" stroke-width="0.48"/>
<path d="M208.5,52.4 L210.5,53.7 L213.2,53.0 L215.4,51.7 L216.5,50.9 L218.1,50.1 L219.5,49.6 L220.9,49.3 L222.5,50.0 L224.2,50.1 L226.5,52.1 L228.5,54.4 L228.8,55.5 L229.4,57.1 L230.2,59.3 L229.4,61.8 L227.7,63.8 M233.1,62.8 L234.9,64.9 L236.9,66.1 L239.3,65.3 L241.0,64.9 M241.0,64.9 L242.8,63.8 L244.7,65.1 L246.4,66.9 L248.5,67.1 L250.5,66.5 L252.4,67.6 L254.7,68.7 L257.0,70.1 L259.5,69.4 L261.8,68.3 L263.4,68.5 L265.0,68.6 L266.3,68.4 L268.2,68.6 L269.6,68.6 L271.2,68.5 M325.1,61.4 L327.2,60.9 L329.0,60.5 L331.2,60.2 L332.9,60.4 L334.9,60.2 L336.8,60.6 L338.9,60.7 L341.0,60.3 M325.9,63.8 L328.1,63.7 L329.7,62.7 L332.0,63.2 L334.8,63.4 L336.1,63.7 L337.9,64.2 L339.6,64.5 L341.0,64.6 M328.3,70.1 L329.0,71.3 L329.8,72.9 L328.2,73.9 L326.9,74.7 L325.0,75.4 L323.3,76.4 L322.0,76.6 L320.3,77.6 L318.8,77.9 L317.4,79.0 L316.3,79.8 L314.8,81.4 L315.8,83.9 L316.6,85.6 L314.1,87.1 L313.0,89.2 L312.4,91.1 M266.4,97.1 L268.6,97.7 L270.6,98.4 L271.8,98.9 L273.8,98.8 L275.2,99.6 L276.5,99.9 L278.1,100.4 L279.7,101.1 L281.6,101.7 L282.8,102.6 L284.8,103.3 L286.1,104.1 L288.0,104.8 L289.2,105.1 L290.9,105.9 L292.7,106.1 L294.0,107.0 L295.7,107.3 L297.2,108.3 L298.8,108.6 L301.3,109.5 M300.0,109.6 L301.5,108.9 L303.4,108.6 L305.1,107.6 L307.3,107.0 L308.9,106.9 L311.1,106.3 L313.1,105.9 L315.1,104.9 L316.8,105.0 L319.2,105.1 L320.8,105.1 L323.0,105.2 L324.8,105.5 L327.0,106.4 L328.4,106.9 L330.4,108.0 L331.6,108.4 L333.6,109.9 L335.0,110.1 L336.8,111.1 L338.2,112.2 L339.6,112.9 L340.5,114.2 L341.3,115.8 L342.3,118.1 L343.1,120.6 L345.3,122.6 M300.0,109.6 L301.6,110.7 L303.0,111.8 L304.9,113.2 L306.1,114.1 L308.1,114.3 L309.8,114.9 L311.2,115.6 L312.8,115.8 L314.3,118.4 L315.2,120.0 L316.2,121.5 L316.7,123.2 L317.8,124.5 L318.6,126.4 L319.1,127.7 L319.5,129.2 L319.7,131.0 L321.2,133.4 L322.7,134.2 L323.9,135.5 M309.6,115.2 L311.6,114.3 L313.7,114.2 L315.5,113.3 L317.5,113.0 L319.8,112.9 L321.7,113.4 L323.2,113.9 L324.5,114.6 L326.0,115.8 L327.6,116.5 L328.6,118.2 L329.2,119.0 L330.6,120.3 L331.7,121.8 L332.6,123.3 L333.4,125.4 L334.2,126.4 L335.3,127.8 M329.4,71.5 L328.2,72.6 L326.8,73.7 L324.8,74.9 L323.2,75.7 L321.3,76.7 L319.7,77.6 L318.4,78.6 L316.9,79.8 L315.6,81.0 L314.1,82.1 L315.7,84.5 L314.8,85.6 L313.8,87.1 L312.3,89.4 L312.7,90.5 M354.8,71.5 L353.6,72.5 L352.6,73.6 L351.7,75.3 L350.6,77.3 L349.9,78.7 L349.1,79.9 L347.0,80.8 L345.4,81.8 L343.3,82.6 L341.1,82.8 L339.7,83.1 L337.5,83.8 L336.6,86.5 L335.8,88.2 L335.0,89.6 L334.7,92.1 L335.4,93.6 L336.4,94.3 L337.7,95.8 L339.6,97.1 L340.7,98.2 L341.8,99.8 L343.2,101.3 L344.3,102.9 L345.4,104.7 L345.9,106.3 L346.8,107.7 L347.9,109.1 L348.8,110.8 L349.8,112.0 L350.7,113.3 L350.7,115.2 L349.9,117.8 M378.6,85.8 L376.2,87.5 L374.8,88.1 L372.9,89.2 L371.2,90.5 L370.1,91.5 L368.0,92.6 L366.9,93.4 L365.3,94.2 L363.4,94.8 L361.8,95.7 L360.3,97.0 L359.5,98.3 L358.6,99.1 L357.9,100.8 L357.4,102.5 L356.7,104.1 L356.7,105.5 L355.8,106.9 L354.7,108.6 L353.4,111.1 L355.8,111.9 L358.2,113.5 L359.0,115.0 L360.4,116.1 L361.7,117.4 L362.7,118.5 L364.1,119.6 L365.1,120.5 L366.6,120.8 L368.0,121.5 M341.0,60.6 L342.7,60.2 L345.1,60.1 L346.8,60.4 L348.6,60.5 L350.8,60.9 L352.8,60.8 L354.8,60.6 L356.3,60.4 L356.6,58.8 L357.6,57.6 L357.2,56.0 L356.9,54.1 L355.9,52.8 L354.7,51.7 L352.9,50.3 M341.0,64.6 L343.1,64.2 L345.9,64.4 L347.8,63.8 L350.5,63.6 L352.3,63.0 L354.5,62.5 M352.9,61.4 L354.8,62.2 L356.7,62.8 L358.7,63.1 L361.0,64.1 L361.8,65.2 L363.0,66.3 L364.1,67.7 L364.9,68.8 L365.4,70.2 L366.3,71.5 L367.3,72.9 L367.8,74.4 L369.3,75.9 L370.0,77.5 L370.8,78.4 L372.0,79.8 L373.3,80.9 L374.2,81.9 L375.3,83.3 L376.8,84.2 L378.4,85.7 L380.1,87.6 L381.7,89.5 L384.9,90.3 L386.1,90.7 L387.9,91.3 L390.0,91.4 L390.8,93.8 L391.3,95.3 L391.4,96.9 L392.1,98.8 L391.9,100.6 L391.6,101.8 L391.8,103.6 L390.6,105.0 L389.2,106.7 L387.6,107.9 L386.2,109.2 L384.6,110.8 L383.2,111.7 L381.5,113.5 M390.2,91.6 L392.7,90.0 L394.0,89.6 L395.7,89.3 L397.6,89.3 L399.0,89.6 L401.3,90.9 L402.2,92.7 L403.1,94.1 L405.5,94.8 L407.8,93.1 L409.1,91.2 L411.4,90.4 L413.4,92.5 L414.9,94.6 L416.4,95.5 L418.1,93.1 L418.9,92.1 L419.4,90.5 L422.1,89.9 L424.3,91.4 L426.4,90.5 L427.7,89.6 L429.4,88.4 L430.4,88.0 L432.3,87.7 L433.9,88.1 L435.6,88.4 L436.6,89.7 L437.7,90.6 L440.2,92.0 M357.7,64.6 L357.2,66.3 L356.6,68.0 L355.6,69.1 L354.4,70.9 L353.2,72.1 L352.4,73.4 L351.8,74.8 L351.2,76.6 L350.8,77.9 L349.6,79.5 L348.1,80.3 L346.3,81.7 L345.2,82.1 L343.4,82.6 L341.0,83.2 M373.5,50.3 L373.8,52.2 L374.2,53.6 L375.7,55.2 L376.7,56.5 L378.3,57.8 L380.1,59.3 L382.1,60.0 L383.8,60.8 L385.8,61.2 L387.5,62.0 L389.7,62.3 L391.7,63.0 L393.7,62.8 L395.9,62.4 L396.6,61.4 M403.2,49.5 L402.5,51.3 L401.1,52.9 L400.4,54.4 L398.7,56.0 L397.9,56.8 L400.2,58.0 L402.2,57.8 L403.5,58.0 L404.7,59.4 L406.0,60.1 L407.1,63.2 L405.6,65.6 L407.7,67.1 L409.4,68.0 L411.0,68.8 L412.2,69.9 L414.0,71.1 L415.6,72.2 L417.2,72.9 L419.4,73.9 L418.0,75.4 L416.6,76.5 L415.3,77.8 L418.0,79.1 L419.3,80.1 L421.1,81.0 L422.4,82.1 L423.5,82.8 L425.4,83.2 L426.8,84.2 L429.6,83.6 M440.2,56.6 L441.0,59.0 M421.2,113.0 L422.5,112.1 L424.4,111.3 L426.2,110.7 L428.3,109.8 L430.9,109.3 L433.2,109.4 L435.3,109.6 L437.7,109.5 L439.4,109.4 L441.0,109.0 M378.6,85.7 L375.7,86.8 L373.5,88.4 L372.5,89.5 L371.4,90.7 L368.8,92.4 M441.0,57.4 L443.4,55.7 L445.0,53.8 L445.5,52.1 L445.8,50.3 M441.0,59.8 L442.5,60.5 L444.1,61.5 L446.2,62.1 L447.9,62.6 L450.4,62.5 L451.8,62.4 L453.8,62.6 L456.3,63.1 L457.8,64.4 L459.5,65.4 L460.9,66.9 L462.5,68.3 L464.1,69.4 L465.7,70.9 L467.3,71.9 L468.6,73.0 L470.9,74.4 L472.8,74.8 L474.9,75.7 L476.8,76.0 L477.9,76.9 L479.3,77.7 L477.9,80.2 L476.4,82.1 L478.0,83.9 L480.9,85.3 L482.5,86.8 L483.6,87.1 L485.5,87.9 L487.3,87.8 L488.6,87.8 L490.7,87.9 L492.6,88.1 M482.3,86.8 L481.7,88.1 L481.2,90.1 L480.9,91.8 L480.4,93.4 L478.9,95.2 L478.4,98.2 L479.2,99.6 L479.6,101.3 L481.0,102.5 L482.1,103.2 L482.3,105.2 L482.6,106.9 L481.9,108.4 L481.6,109.2 L479.9,111.4 M481.5,49.5 L483.6,51.2 L486.0,51.0 L487.7,51.5 L490.0,51.5 L492.6,51.1 M483.9,51.1 L484.2,52.4 L484.6,54.3 L484.1,56.7 L485.0,58.0 L486.2,59.1 L487.9,59.4 L489.3,60.0 L491.3,60.0 L492.6,59.8 M439.4,109.0 L441.0,108.1 L442.3,107.6 L444.3,106.5 L446.1,105.9 L448.4,105.6 L450.2,105.5 L452.1,106.1 L454.0,106.5 L456.1,107.2 L457.9,107.6 L459.0,108.4 L460.8,109.6 L462.6,110.8 L464.1,111.6 L466.6,112.4 L468.4,112.5 L470.4,113.0 M468.8,105.8 L471.0,106.8 L472.9,107.7 L474.6,108.2 L476.7,109.7 L478.1,110.6 L479.9,111.4 M236.6,133.1 L241.0,132.0 M241.0,132.2 L242.6,131.4 L244.3,130.6 L246.1,130.3 L248.1,130.1 L250.2,129.6 L251.9,129.3 L254.0,129.6 L256.1,129.9 L257.9,130.2 L259.2,130.7 L261.1,131.1 L262.4,131.9 L263.8,132.2 L265.9,133.1 L267.2,132.3 L269.0,132.3 L271.0,131.9 L273.0,130.9 L274.5,130.3 L276.7,129.9 L278.5,129.0 L280.8,128.6 L282.2,128.1 L283.9,126.7 L286.2,125.6 L288.5,123.9 L289.9,123.1 L292.0,122.8 L293.9,122.4 L295.8,122.6 L297.6,123.0 L299.7,123.6 L301.4,124.1 L302.7,124.7 L304.3,125.7 L305.0,126.8 L306.3,128.4 L307.4,129.6 L307.9,130.7 L309.1,132.4 L309.4,134.0 L309.4,135.6 L309.8,137.6 L310.6,138.8 L311.4,140.0 L312.2,141.5 L314.1,143.9 L314.4,145.3 L314.7,146.6 L315.5,149.0 L315.5,151.0 L314.2,153.1 L312.5,155.8 L312.8,157.4 L313.1,158.7 L314.1,160.2 L314.7,162.1 L315.8,163.4 L316.7,164.4 L317.7,165.9 L319.1,167.3 L320.0,168.4 L321.2,169.8 L322.1,170.8 L323.0,172.4 L323.5,174.6 M266.4,132.9 L267.9,133.3 L269.4,134.0 L270.6,135.0 L272.1,136.4 L272.1,138.2 L272.5,139.6 L273.3,141.1 L273.5,143.1 L274.1,144.2 L274.2,146.2 L274.4,147.9 L274.5,149.5 L274.0,151.4 L276.7,152.6 L278.8,152.9 L280.9,153.2 L282.6,153.0 L284.7,153.0 L286.5,153.6 L287.8,154.5 L289.3,155.2 L290.9,155.7 L293.4,156.0 M255.3,167.5 L256.9,167.8 L258.4,168.0 L260.3,168.7 L262.3,168.8 L264.2,168.9 L266.3,169.1 L268.3,168.8 L270.3,168.9 L272.1,169.2 L274.2,169.0 L277.0,169.2 L279.3,169.3 L281.3,168.5 L283.6,168.4 L285.9,167.6 L287.8,167.2 L289.5,166.2 L291.2,165.5 L292.7,164.3 L293.9,163.7 L295.9,162.4 L297.1,160.8 L298.5,160.0 L299.9,159.1 L301.8,157.0 L304.5,156.7 M255.3,167.5 L256.6,168.5 L257.9,169.9 L259.4,170.7 L260.8,172.0 L262.3,172.4 L264.2,173.7 L265.5,174.3 L267.4,175.8 L268.5,177.3 L270.4,179.8 M340.2,137.3 L338.9,139.1 L338.0,140.7 L337.7,142.2 L337.1,144.4 L336.8,146.6 L336.1,148.2 L336.5,150.8 L336.5,153.3 L336.8,155.8 L337.1,157.9 L337.0,160.4 L337.5,162.7 L337.5,164.9 L337.2,167.2 L336.8,170.0 L336.1,172.3 L336.1,174.7 L335.4,177.0 M336.2,154.0 L338.6,154.5 L341.0,154.0 M314.0,176.2 L316.4,175.7 L318.5,177.0 M381.5,113.5 L381.0,115.3 L380.6,116.5 L379.6,118.6 L379.1,120.6 L378.5,122.4 L378.2,124.6 L379.1,127.7 L380.7,127.8 L382.5,127.5 L384.4,127.0 L386.3,127.1 L388.1,126.6 L390.5,126.2 L392.3,125.7 L394.1,125.6 L395.5,125.0 L397.5,124.9 L399.5,124.7 L401.2,125.3 L402.9,125.9 L404.5,126.5 L406.2,127.1 L408.7,128.1 L409.3,129.6 L409.1,130.7 L409.0,132.4 L408.7,134.2 L408.3,135.8 L407.4,137.6 L406.1,138.0 L404.4,138.6 L402.5,139.7 L400.6,140.3 L398.7,140.5 L396.8,141.4 L394.7,142.0 L393.3,142.2 L391.3,143.4 L389.2,143.7 L387.2,144.2 L384.9,145.2 L382.8,146.1 L380.9,146.5 L379.2,147.1 L377.3,147.7 L375.4,148.1 L373.8,148.6 L371.8,148.9 L370.7,147.9 L369.7,147.0 L368.0,144.9 M356.9,146.8 L355.6,147.6 L354.5,149.0 L352.6,150.5 L351.1,153.4 L349.8,155.5 L347.3,154.2 L345.2,153.1 L342.8,153.6 L340.7,153.9 L338.6,154.5 M378.8,127.5 L376.8,128.3 L375.2,128.3 L373.3,129.3 L371.9,130.2 L370.3,130.3 L368.5,130.7 L366.3,128.8 L364.8,129.7 L362.9,129.5 L361.3,130.3 L359.1,131.3 L357.1,132.0 L355.3,132.8 L353.6,132.9 L351.4,134.0 L349.6,134.5 L347.4,135.0 L345.7,135.4 L344.4,136.3 L342.9,136.6 L340.9,137.2 L339.1,137.6 M372.0,130.2 L370.5,131.4 L368.9,132.5 L367.2,133.7 L365.3,134.8 L363.9,136.4 L362.4,137.2 L361.1,138.3 L360.0,139.5 L358.8,141.1 L358.1,142.0 L356.9,144.5 M375.1,113.5 L373.6,115.8 L371.8,118.0 L370.8,119.3 L370.0,120.7 L368.8,122.2 M387.0,120.2 L389.3,120.7 L391.3,121.5 L393.1,121.4 L395.8,122.0 L398.1,121.6 L400.5,121.3 L402.6,120.5 L405.5,119.7 L407.1,118.8 L409.1,118.1 L411.4,117.1 L413.2,116.2 L414.9,115.8 L416.5,114.6 L418.5,114.7 L420.4,114.0 M410.8,144.5 L412.3,143.0 L413.3,142.2 L414.7,140.6 L416.2,139.5 L418.1,138.3 L419.8,137.3 L420.8,136.4 L422.0,135.5 L424.4,133.7 L426.5,133.0 L428.4,132.7 L430.8,132.0 L433.2,132.0 L435.4,131.4 L437.8,131.5 L439.2,130.7 L441.0,130.6 M423.5,138.9 L424.7,140.2 L426.1,141.2 L427.8,141.5 L429.2,141.8 L430.4,141.7 L432.0,141.8 L433.1,142.9 L434.1,144.4 L433.2,145.8 L433.2,147.9 L432.2,148.9 L432.0,150.6 L431.5,152.4 L430.8,153.9 L429.3,156.3 L427.4,159.0 L425.7,160.5 L424.9,162.8 L425.2,164.5 L425.2,165.9 L424.8,167.5 M427.5,158.7 L429.8,160.6 L432.1,160.8 L433.7,161.0 L435.7,161.9 L437.7,162.5 L439.6,163.2 L441.0,163.5 M426.7,164.3 L429.0,164.7 L431.3,164.7 L433.7,165.3 L436.5,165.4 L438.0,166.4 L439.3,166.7 L441.0,167.5 M368.0,154.0 L370.0,154.4 L371.7,154.6 L374.0,154.6 L376.0,155.0 L377.7,155.2 L379.8,155.3 L382.2,157.0 L383.0,159.0 L383.4,160.0 L384.4,163.0 L386.3,163.4 L388.4,163.6 L390.4,163.5 L392.7,163.7 L394.5,164.5 L396.7,164.8 L398.8,164.3 L400.4,164.8 L402.6,164.3 L404.5,164.5 L406.8,164.4 L409.0,164.9 L411.5,165.1 L413.8,165.1 L416.2,165.4 L418.6,166.0 L420.6,166.7 L422.7,166.9 L424.7,167.5 L425.9,165.1 M393.4,153.2 L393.9,154.8 L394.9,156.4 L396.1,157.7 L397.5,159.6 L398.6,160.8 L399.8,162.2 L401.1,163.1 L402.1,164.0 M397.8,148.7 L399.7,146.7 L400.5,145.5 L398.9,144.4 L397.3,143.4 L395.3,142.6 L392.6,143.2 M381.5,162.7 L381.0,164.6 L380.2,166.0 L380.3,167.4 L380.0,169.0 L379.5,171.1 L379.2,172.9 L378.8,175.0 L378.3,177.0 M364.8,168.3 L363.1,170.7 L360.7,172.5 L359.2,173.2 L357.7,173.8 L355.1,175.2 L352.9,177.0 M441.0,130.6 L442.6,129.8 L444.1,129.7 L445.9,128.2 L447.3,127.2 L447.3,125.2 L447.1,123.7 L447.6,122.1 L448.1,120.5 L449.7,119.2 L451.1,118.3 L453.4,117.4 L456.2,116.9 L458.4,116.5 L461.0,116.1 L462.9,116.1 L464.6,115.4 L466.2,114.5 L467.2,113.5 M472.0,113.5 L473.5,114.2 L475.1,115.3 L477.6,115.9 L479.8,116.8 L482.5,117.0 L484.6,117.5 L486.9,117.5 L488.9,118.1 L490.5,117.8 L492.6,117.5 M468.0,133.8 L469.5,134.1 L471.3,134.9 L473.2,134.5 L475.4,134.3 L476.8,134.0 L479.1,133.8 L481.3,133.3 L483.0,133.1 L485.0,132.5 L487.0,132.4 L488.7,131.7 L490.1,130.7 L492.6,129.8 M448.9,137.0 L451.0,137.2 L453.1,137.5 L454.7,137.5 L456.6,138.3 L458.6,138.4 L461.0,139.3 L462.6,139.2 L464.9,138.9 L466.5,139.4 L468.7,139.7 L471.1,140.7 L473.0,141.1 L474.6,141.9 L476.4,142.8 L478.6,142.6 L480.6,142.7 L482.9,142.5 L484.7,142.0 L486.4,141.8 L488.8,141.9 L490.8,141.8 L492.6,142.1 M441.0,164.3 L442.8,163.9 L445.0,163.9 L446.5,163.7 L448.2,163.4 L450.5,164.3 M441.0,167.5 L443.6,166.9 L446.0,166.7 L447.5,166.6 L449.8,166.6 L451.4,167.0 L452.9,167.5 M141.0,207.2 L142.8,206.1 L144.7,205.2 L146.0,203.9 L146.8,202.3 L147.4,200.4 L148.2,198.8 L148.8,197.4 L149.6,195.9 L148.4,194.4 L151.0,193.1 L153.7,192.9 M187.0,197.3 L186.0,199.9 L184.8,201.2 L183.8,202.3 L182.7,203.7 L181.5,204.4 L179.9,206.9 L179.3,208.7 L179.4,210.2 L178.6,211.5 L177.8,213.0 L176.3,214.2 L175.1,215.7 L174.1,216.8 L172.7,217.8 L170.3,219.4 L168.6,220.7 L167.2,221.6 L165.4,222.7 L163.8,223.4 L162.5,224.8 L161.1,226.1 L159.5,225.9 L157.8,225.6 L155.8,224.7 L154.2,224.5 L152.6,224.2 L150.4,223.8 L148.3,224.2 L146.9,224.2 L144.3,224.4 L142.5,225.0 L141.0,225.1 M172.7,219.1 L174.9,219.3 L176.5,219.3 L178.5,220.0 L180.7,220.3 L182.9,220.0 L184.6,219.8 L186.4,218.8 L188.7,218.5 L190.4,217.8 L192.3,217.7 L194.7,217.4 L196.8,216.8 L198.7,216.6 L200.7,216.6 L202.3,215.7 L204.3,215.6 L206.0,215.5 L207.9,216.1 L209.2,216.1 L211.1,216.9 L212.6,217.3 L214.9,218.2 L216.8,218.6 L218.6,218.9 L221.0,219.0 L222.5,219.1 L224.5,218.4 L226.7,218.0 L228.4,216.5 L227.5,214.1 L226.1,213.5 L224.3,213.2 L222.8,212.9 L221.0,212.5 L219.1,211.6 M198.9,195.8 L200.6,196.5 L201.9,197.6 L203.8,197.6 L205.1,198.7 L206.7,198.1 L208.6,198.0 L210.1,198.5 L211.4,198.7 L213.5,199.7 L214.5,199.8 L216.2,200.8 L217.8,201.1 L219.8,201.9 L221.4,202.4 L222.5,202.8 L224.5,203.5 L226.6,204.2 L228.1,204.7 L230.1,205.1 L232.0,205.9 L234.5,207.0 L235.9,207.9 L237.9,208.8 L239.4,209.6 L241.0,210.8 M268.8,177.5 L270.8,178.3 L272.5,178.6 L274.5,179.4 L276.5,179.2 L278.3,179.7 L280.1,179.6 L281.3,182.1 L282.3,183.7 L283.0,185.4 L284.0,186.7 L284.9,187.7 L284.5,189.3 L283.6,191.2 L281.2,192.3 L279.8,193.2 L278.6,194.4 L276.7,194.6 L275.3,195.1 L272.8,195.8 L273.3,198.0 L275.2,200.1 L277.5,201.3 M279.9,179.9 L281.7,181.3 L283.3,182.1 L284.4,183.5 L286.3,184.0 L287.9,184.3 L289.3,184.6 L291.4,184.2 L293.1,183.7 L295.4,182.9 L297.5,182.4 L299.0,181.9 L301.4,181.6 L303.4,180.9 L305.6,180.8 L307.1,180.0 L309.5,179.2 L310.8,178.7 L312.4,177.5 M284.7,187.8 L285.7,189.2 L286.4,190.9 L287.1,192.7 L287.6,194.0 L288.1,195.6 L288.3,197.1 L290.2,199.7 L290.7,201.2 L292.1,202.6 L292.5,205.4 L291.0,205.3 L289.4,205.5 L287.5,205.7 L285.4,206.3 L284.8,208.7 L283.6,210.9 L281.6,212.7 L279.7,213.0 L278.2,213.1 L276.1,214.9 L274.9,216.1 L273.6,216.7 L272.1,218.0 L271.3,219.0 L268.5,220.4 L269.4,222.9 L271.7,223.4 L273.4,224.9 L273.0,226.7 L271.7,229.3 L273.5,230.7 M241.0,210.8 L242.9,211.4 L244.1,212.4 L245.7,213.3 L247.3,214.2 L248.7,215.1 L250.3,216.1 L252.2,217.5 L253.6,218.6 L255.4,219.5 L256.9,220.5 L258.7,221.3 L259.8,221.7 L261.8,222.3 L263.4,222.6 L265.0,222.1 L266.2,221.2 L268.8,220.7 M341.0,183.8 L339.2,183.6 L338.0,183.2 L335.3,182.0 L334.0,184.7 L332.1,186.8 L330.7,189.4 M333.9,184.6 L335.4,187.0 L336.2,189.9 M335.4,182.3 L334.7,179.9 L333.9,177.5 M341.0,184.6 L342.4,185.2 L344.1,186.0 L346.2,186.0 L348.1,185.6 L349.8,184.7 L351.1,183.9 L352.6,183.1 L353.6,181.4 L354.4,178.7 L353.7,177.5 M445.8,185.1 L446.7,186.3 L447.5,187.9 L448.3,189.4 L449.9,190.8 L451.2,192.4 L452.4,194.4 L452.1,196.1 L451.3,197.4 L450.7,199.1 L449.7,200.7 L448.6,202.4 L449.7,203.1 L451.0,204.3 L452.2,205.4 L453.7,206.9 L455.1,209.0 L454.3,210.6 L453.2,212.3 L452.1,213.4 L451.1,215.0 L449.3,215.6 M141.0,250.1 L142.8,249.0 L144.2,248.5 L145.9,247.8 L147.7,247.4 L149.5,246.4 L151.9,246.5 L153.5,246.9 L155.6,246.3 L157.9,246.1 L159.8,245.6 L161.9,245.1 L164.3,245.0 L166.7,244.7 L168.9,244.1 L171.4,243.7 L172.9,244.4 L175.3,244.6 L177.7,244.6 L179.9,245.2 L182.2,245.0 L183.7,244.6 L185.9,244.1 L187.6,243.5 L189.8,242.8 L191.7,241.7 L193.8,242.5 L195.8,242.7 L198.0,243.2 L200.0,244.0 L201.5,243.4 L204.0,242.9 L205.7,242.3 L207.4,241.6 L209.4,241.2 L211.7,240.9 L213.9,240.7 L215.5,240.5 L217.3,239.5 L219.0,238.7 L219.9,237.7 L221.0,236.9 L221.8,235.5 L222.5,233.6 L224.4,231.2 L225.9,230.3 L227.7,229.9 L229.6,229.7 L231.8,229.2 L233.6,228.6 L235.2,228.6 L238.4,229.6 L239.8,231.5 L239.1,233.9 M148.1,277.1 L148.2,275.1 L147.8,272.9 L148.4,271.1 L148.9,269.4 L150.0,267.2 L151.1,265.4 L152.4,264.0 L153.2,262.0 L154.8,260.8 L156.0,259.6 L157.8,258.7 L160.0,258.2 L162.6,257.9 L165.0,257.5 L166.9,257.8 L169.5,257.9 L172.1,257.2 L174.4,256.9 L176.7,256.2 L179.3,255.7 L180.9,255.0 L182.8,254.7 L185.2,253.3 L186.6,251.9 L187.8,251.1 L189.3,250.2 L191.4,252.3 L193.1,253.8 L194.1,254.6 L195.5,255.6 L197.6,256.8 L199.0,257.4 L200.7,258.0 L202.6,257.0 L204.6,256.6 L206.5,255.3 L208.6,254.5 L210.5,253.6 L212.7,252.9 L214.2,252.8 L216.2,252.2 L218.5,252.4 L220.3,251.5 L222.2,251.1 L223.8,251.0 L224.3,249.1 L224.6,247.7 L224.6,245.2 L225.7,242.9 L227.5,241.3 M179.9,277.4 L181.9,276.4 L184.0,275.8 L185.6,275.0 L187.3,274.7 L188.6,273.7 L191.0,273.0 L193.5,272.7 L195.4,272.6 L197.1,272.1 L199.5,271.3 L201.2,270.8 L203.4,271.6 L205.2,272.1 L207.2,272.4 L209.1,272.9 L211.2,272.6 L213.0,273.2 L215.3,272.6 L216.7,272.2 L218.1,270.7 L219.0,270.0 L220.9,268.5 L221.9,270.6 L220.4,272.3" fill="none" stroke="#0000ff" stroke-width="0.66" stroke-linejoin="round"/>
<path d="M141.0,63.8 L141.9,62.8 L143.3,62.1 L144.2,61.7 L144.8,61.5 L145.8,61.0 L146.9,60.2 L148.3,60.7 L149.1,59.8 L150.7,60.3 L152.2,59.5 L154.2,58.9 L155.1,58.8 L155.5,58.2 L156.7,58.5 L157.7,57.8 L159.4,57.0 L160.5,56.4 L161.2,56.3 L163.4,56.3 L164.6,56.3 L166.0,56.4 L167.5,57.3 L167.5,56.2 L168.3,55.4 L169.2,53.7 L170.1,52.3 L170.0,51.7 L170.3,50.3 L170.8,49.5 M203.2,49.5 L202.2,50.9 L202.4,52.0 L201.7,52.7 L200.7,54.0 L199.8,54.6 L199.3,55.9 L198.1,56.3 L196.6,56.9 L196.2,57.7 L195.3,57.5 L193.8,58.3 L192.4,58.6 L191.5,58.6 L190.3,59.7 L189.3,59.6 L188.5,60.7 L187.1,60.6 L186.6,61.3 L185.8,61.6 L184.2,61.8 L183.2,62.9 L184.3,63.8 L184.7,64.3 L186.0,65.0 L187.5,65.0 L188.1,65.3 L189.7,65.7 L191.5,66.0 L192.6,65.2 L194.0,64.4 L195.4,64.9 L196.5,65.1 L197.2,65.0 L198.1,65.6 L199.3,65.4 L200.6,65.9 L202.0,66.2 L202.6,66.5 L203.8,66.8 L204.7,67.7 L206.2,67.4 L207.0,68.2 L208.3,68.5 L210.0,69.8 L210.8,69.6 L211.9,69.5 L213.5,69.9 L215.4,69.6 L215.9,70.3 L217.6,69.0 L218.8,68.4 L220.0,68.6 L221.5,67.6 L222.1,66.7 L223.2,66.4 L224.8,65.7 L225.8,64.3 L227.3,64.4 L228.3,63.6 L229.3,62.8 L229.6,61.9 L231.0,60.5 L229.8,61.6 L229.2,62.8 L229.1,63.4 L228.2,64.6 L227.3,64.6 L225.6,65.1 L224.4,66.0 L223.7,67.7 L222.7,68.1 L221.3,69.2 L219.6,69.7 L219.2,70.4 L218.0,70.5 L216.3,71.3 L215.4,71.7 L214.5,71.6 L212.3,72.5 L211.1,71.7 L208.9,71.7 L208.1,72.6 L205.7,72.8 L205.0,72.9 L202.8,73.0 L201.6,73.1 L201.5,74.3 L200.2,75.3 L199.3,76.1 L198.9,76.2 L197.6,77.1 L196.8,78.2 L196.0,78.8 L194.8,80.1 L194.0,80.4 L193.1,81.7 L191.7,82.5 L190.6,82.7 L189.4,82.8 L188.2,83.7 L186.5,85.0 L185.5,85.5 L184.9,86.4 L183.3,86.8 L182.3,87.6 L180.7,87.7 L179.6,87.8 L179.1,88.2 L177.9,88.6 L177.9,89.1 L179.2,90.1 L180.3,90.0 L181.4,89.5 L183.0,88.8 L184.1,89.6 L185.1,89.7 L186.3,91.2 L187.4,89.6 L187.4,89.1 L188.2,88.3 L189.0,88.1 L190.7,88.0 L191.1,87.5 L192.6,86.4 L193.8,86.8 L194.3,86.5 L195.7,85.7 L197.4,85.8 L197.8,85.1 L199.3,84.8 L200.2,84.6 L201.9,84.7 L203.0,85.6 L204.0,86.6 L205.6,87.2 L206.0,88.1 L207.7,87.7 L208.1,86.6 L209.1,85.5 L209.7,83.8 L210.3,83.6 L212.0,81.5 L212.5,81.7 L214.1,81.1 L215.0,80.4 L217.1,80.7 L217.8,81.0 L219.7,80.8 L220.3,80.6 L221.5,80.3 L223.1,80.1 L224.4,80.9 L225.3,80.5 L226.7,81.0 L227.5,80.7 L228.6,80.6 L230.1,80.5 L231.7,80.2 L232.7,79.9 L233.7,79.5 L234.8,79.3 L236.5,79.7 L237.1,79.6 L239.1,79.3 L240.1,79.4 L241.0,79.2 M241.0,79.2 L241.8,78.0 L243.4,79.7 L244.7,78.6 L246.1,78.6 L247.7,79.9 L248.9,79.1 L250.3,78.9 L251.9,79.3 L253.4,79.4 L254.7,79.7 L255.7,79.0 L257.6,78.7 L258.7,79.0 L259.3,79.0 L261.5,78.7 L262.7,78.7 L263.4,78.2 L265.1,78.3 L266.7,78.1 L267.8,77.8 L269.2,77.3 L270.1,76.3 L271.3,76.3 L272.6,76.4 L274.4,75.8 L275.8,75.5 L277.0,74.5 L278.6,74.8 L279.4,74.2 L280.6,73.3 L281.7,73.1 L282.4,72.4 L284.4,71.7 L285.0,71.7 L285.4,70.3 L283.8,70.0 L282.5,69.9 L280.8,69.4 L278.7,69.6 L277.8,69.6 L276.0,69.1 L273.9,69.1 L273.3,69.1 L272.1,68.3 L271.2,67.8 M274.3,65.4 L275.5,64.7 L276.7,63.7 L278.7,64.3 L279.6,63.4 L279.8,62.2 L281.8,61.9 L282.5,62.0 L283.6,61.4 L284.8,60.2 L285.9,59.4 L287.7,57.9 L288.6,57.1 L289.2,56.4 L289.1,55.6 L289.9,53.8 L289.8,52.8 L290.6,51.2 L290.8,49.5 M242.3,78.4 L242.9,77.9 L244.0,78.1 L244.7,78.2 L246.6,77.9 L247.5,79.4 L246.4,79.3 L244.8,79.7 L244.4,79.7 L242.8,79.4Z M266.1,97.9 L265.4,96.6 L266.9,95.3 L267.3,94.5 L268.3,94.3 L269.0,93.7 L270.1,94.0 L271.7,93.0 L273.4,93.5 L274.3,92.3 L275.3,91.9 L276.8,91.5 L278.0,91.3 L279.7,91.6 L281.2,90.7 L282.2,90.5 L283.2,89.9 L283.9,89.4 L285.9,88.8 L286.6,88.5 L288.2,87.3 L287.6,85.8 L287.7,84.4 L288.1,83.2 L287.9,80.8 L287.4,80.0 L288.7,78.4 L289.3,76.9 L290.1,76.9 L291.6,76.5 L292.8,75.5 L293.0,75.0 L294.7,75.1 L296.5,74.7 L297.5,74.4 L298.6,73.8 L299.5,73.6 L301.1,73.4 L302.7,72.5 L303.3,72.1 L305.0,72.2 L305.7,71.3 L307.3,71.5 L308.3,70.8 L309.8,70.3 L310.6,70.4 L312.6,70.3 L313.9,69.9 L314.5,69.4 L316.5,69.3 L317.0,68.1 L318.0,67.5 L318.7,65.9 L320.1,65.8 L320.9,64.1 L322.2,63.9 L323.7,63.2 L324.6,62.4 L325.4,61.1 L326.9,60.4 L327.8,59.5 L328.0,59.3 L328.9,58.7 L329.9,57.1 L330.6,56.2 L332.0,55.5 L331.9,53.9 L332.4,53.4 L332.7,51.4 L333.0,50.6 L333.9,49.5 M317.2,68.5 L318.8,68.3 L319.8,67.8 L321.2,66.8 L321.6,67.1 L323.0,65.5 L323.7,65.3 L324.6,64.9 L325.6,64.2 L326.5,66.0 L326.0,66.3 L324.8,67.0 L323.2,68.1 L322.6,68.2 L320.7,68.7 L319.9,69.6 L318.3,68.7Z M320.4,69.5 L322.2,68.6 L323.1,68.9 L324.8,67.6 L325.5,67.2 L327.9,68.0 L328.2,69.6 L328.1,69.9 L327.3,70.3 L325.2,70.4 L323.9,69.8 L322.2,70.1 L322.0,69.8Z M321.2,65.4 L322.4,64.3 L322.5,64.1 L324.2,64.2 L324.7,63.2 L325.4,64.4 L324.9,64.4 L323.8,65.3 L322.7,65.5Z M341.0,53.5 L341.8,52.9 L342.7,52.5 L343.8,50.9 L345.2,51.6 L346.8,50.5 L347.9,50.1 L349.9,50.4 L351.1,51.3 L351.7,52.0 L351.0,53.2 L350.5,54.2 L348.8,55.1 L348.7,56.1 L347.0,56.3 L345.6,55.8 L345.1,56.2 L343.5,55.9 L342.3,54.3Z M191.3,113.7 L191.8,112.7 L193.2,112.0 L193.6,111.9 L194.8,112.0 L195.7,111.8 L197.2,111.5 L199.4,110.6 L200.8,110.3 L202.2,109.9 L203.9,110.9 L206.1,111.0 L206.3,109.9 L208.1,109.3 L209.0,109.1 L210.4,108.2 L211.5,108.0 L212.4,107.4 L214.7,107.7 L215.2,107.7 L217.1,107.6 L218.0,108.2 L218.8,109.5 L220.5,110.0 L221.1,110.9 L223.2,112.4 L224.0,111.8 L225.6,112.0 L226.9,111.7 L227.5,110.9 L229.2,111.5 L230.4,111.4 L231.7,111.4 L232.9,111.7 L233.8,110.3 L235.4,110.2 L236.5,110.3 L237.0,111.2 L238.4,110.8 L239.6,111.4 L240.4,111.1 L242.1,110.9 L241.3,109.7 L241.6,108.5 L240.7,107.0 L240.4,105.7 L239.5,104.4 L239.9,102.6 L238.8,101.5 L238.2,99.8 L238.0,98.8 L236.6,97.5 L236.1,97.0 L235.3,95.1 L237.5,94.7 L238.5,95.1 L240.6,95.0 L242.3,94.8 L244.1,95.7 L244.0,95.9 L245.3,97.1 L245.5,97.7 L246.0,98.8 L247.4,100.0 L248.1,100.3 L250.3,100.1 L252.0,101.1 L252.8,100.7 L254.6,100.9 L255.5,101.5 L257.2,101.0 L258.0,101.1 L259.5,101.8 L261.5,101.4 L263.1,101.1 L263.5,99.9 L265.6,99.6 L265.7,97.5 L266.7,96.3 M265.1,99.1 L266.8,98.7 L268.3,98.2 L269.6,98.5 L270.5,98.0 L272.3,98.2 M191.3,113.7 L192.0,115.0 L192.2,115.8 L193.1,116.5 L194.1,116.1 L195.0,116.5 L196.3,116.7 L197.3,117.2 L198.6,116.3 L197.7,117.3 L197.3,118.0 L195.5,118.6 L194.1,118.9 L194.2,119.5 L192.7,120.0 L194.1,120.1 L194.9,120.5 L196.3,121.2 L197.5,121.4 L198.0,123.3 L200.0,123.0 L200.9,122.6 L201.6,122.9 L202.9,123.0 L204.1,123.2 L204.9,123.3 L205.9,123.8 L207.1,124.1 L207.8,124.3 L209.7,124.5 L210.4,125.1 L211.2,126.0 L212.3,126.1 L213.2,125.7 L215.5,126.4 L216.3,126.6 L217.7,127.3 L218.4,127.1 L220.3,127.9 L221.1,127.8 L222.9,128.5 L224.4,129.2 L225.8,129.3 L226.6,130.1 L227.6,130.4 L228.3,131.4 L229.0,131.6 L230.2,131.7 L231.3,132.5 L232.6,133.1 L234.2,132.7 L235.6,133.3 L236.6,133.1 M231.0,133.1 L230.6,134.0 L229.8,135.1 L230.7,136.0 L230.9,137.3 L231.7,138.0 L232.9,139.5 L233.8,140.0 L234.7,140.8 L235.8,141.9 L237.4,142.2 L239.0,143.2 L240.1,144.5 L241.4,144.5 L242.0,145.9 L242.8,145.4 L244.6,146.3 L245.9,146.9 L246.4,147.6 L247.3,148.6 M241.0,145.2 L242.2,145.4 L242.9,145.9 L244.5,146.3 L245.6,146.8 L246.6,148.4 L246.8,149.0 L246.4,150.3 L246.2,151.4 L246.4,153.2 L247.0,154.0 L248.0,155.5 L249.0,156.6 L249.4,157.7 L250.6,158.7 L251.6,160.3 L251.7,160.9 L252.5,161.8 L252.7,162.8 L253.4,164.2 L254.3,164.9 L254.8,166.6 L255.6,167.8 M247.3,155.1 L246.6,156.2 L245.7,157.5 L246.4,159.8 L245.3,161.3 L246.1,162.5 L245.1,163.6 L245.2,164.6 L245.2,165.7 L245.4,167.6 L245.0,169.2 L244.9,169.8 L244.4,170.9 L244.1,172.8 L244.8,173.6 L244.1,175.2 L244.6,176.7 L243.8,177.8 L244.3,178.9 L243.7,179.5 L244.0,180.8 L243.4,182.6 L243.4,184.1 M239.5,146.7 L240.6,146.7 L241.6,145.7 L243.2,146.5 L244.6,146.9 L245.5,148.3 L243.9,147.9 L242.5,147.8 L242.0,147.3 L241.1,147.1Z M242.2,150.9 L243.5,150.8 L244.0,150.7 L245.2,151.7 L246.0,152.7 L246.7,154.7 L245.8,154.6 L244.5,154.2 L243.9,153.3 L242.4,152.0Z M356.9,146.0 L357.7,145.1 L359.5,144.9 L360.5,143.7 L361.5,143.5 L362.5,144.0 L363.6,144.1 L365.8,143.4 L366.6,144.2 L368.6,145.0 L369.3,146.5 M356.9,146.0 L357.9,145.0 L359.3,145.2 L361.0,144.7 L362.7,144.5 L364.2,143.9 L366.1,144.3 L367.1,145.1 L368.4,144.8 L369.3,146.5 M399.4,124.3 L400.9,124.2 L402.4,125.3 L403.0,125.0 L403.9,125.8 L405.7,126.3 L406.8,126.4 L407.2,127.5 L408.6,127.7 L409.6,129.1 M399.4,123.8 L401.2,123.9 L402.1,124.2 L403.2,124.8 L404.5,125.1 L405.9,125.3 L406.8,125.7 L408.3,126.9 L408.9,127.5 M393.4,153.2 L393.5,151.8 L393.6,151.6 L395.0,150.6 L395.4,149.4 L396.3,148.6 L397.8,148.4 M393.7,153.5 L395.3,151.0 L397.2,149.4 M423.5,157.9 L424.4,157.6 L424.9,156.5 L425.8,155.3 L426.7,154.0 L428.3,153.5 L428.7,154.0 L427.9,155.2 L427.2,156.3 L426.2,157.6 L425.1,158.3 L425.2,159.1Z M391.8,177.5 L393.4,176.5 L394.2,175.4 L395.5,174.9 L396.0,175.2 L397.3,174.8 L399.0,175.2 L400.4,174.5 L401.2,175.4 L402.7,175.1 L403.1,175.6 L404.1,176.1 L405.6,176.9 L406.1,177.5 M448.1,161.1 L448.6,160.3 L449.4,159.6 L450.8,158.9 L451.5,158.4 L452.6,157.6 L453.7,158.1 L455.0,157.8 L455.6,157.6 L457.7,157.2 L459.3,156.9 L460.0,156.4 L461.0,155.4 L462.0,155.0 L464.0,154.6 L466.0,154.0 L467.3,154.5 L468.9,155.4 L470.0,154.9 L470.6,155.7 L470.7,156.3 L469.7,158.1 L469.5,159.0 L469.1,160.3 L470.0,161.0 L470.8,162.6 L471.1,163.5 L471.7,165.3 L472.9,165.9 L473.4,167.1 L474.0,168.0 L475.0,169.5 L476.4,168.6 L476.7,167.5 L477.5,166.4 L478.1,164.7 L478.2,163.4 L479.4,162.2 L479.5,161.3 L480.0,161.8 L480.9,163.4 L480.9,163.9 L480.9,166.1 L480.9,167.2 L480.7,168.6 L480.2,169.8 L480.2,171.7 L481.1,172.4 L481.9,173.8 L483.1,173.8 L483.9,174.6 M448.1,161.1 L449.4,162.6 L449.5,163.8 L450.3,164.4 L451.3,165.6 L450.9,167.5 L450.7,168.5 L450.0,169.7 L450.0,170.8 L449.9,172.6 L449.2,173.4 L449.6,175.7 L449.6,177.1 L450.8,178.6 M481.5,161.1 L482.9,161.9 L483.1,162.2 L484.2,162.3 L485.8,163.4 L486.3,164.3 L486.9,164.8 L487.3,166.5 L488.0,167.0 L487.9,168.0 L487.2,169.0 L486.4,168.2 L485.1,166.9 L484.0,166.0 L483.2,164.4 L483.2,165.1 L481.7,166.3 L482.4,167.9 L482.5,169.1 L483.7,170.5 L484.3,171.6 L482.9,172.2 L481.8,170.7 L480.7,170.3 L481.0,168.9 L480.9,167.2 L480.8,166.2 L481.6,164.9 L481.2,164.0 L481.8,162.5Z M486.2,170.6 L487.0,171.6 L488.6,172.7 L489.4,173.6 L490.7,174.5 L491.2,176.0 L492.2,177.0 L490.1,177.5 L488.8,176.4 L488.5,175.1 L487.5,174.5 L487.1,173.7 L486.7,171.6Z M141.0,185.8 L142.1,185.0 L144.1,185.4 L144.6,184.7 L146.6,184.4 L148.0,185.4 L149.3,185.4 L150.5,186.0 L151.4,186.6 L152.9,187.2 L153.7,187.6 L154.4,188.3 L156.0,188.2 L156.9,187.8 L158.5,188.6 L160.1,188.1 L160.7,188.3 L162.8,188.0 L164.0,187.8 L164.9,187.5 L166.2,187.7 L168.2,188.1 L168.7,187.3 L170.8,187.0 L171.5,187.1 L172.6,186.7 L174.2,186.6 L175.9,186.8 L176.2,187.9 L177.5,188.2 L179.0,188.4 L180.0,188.0 L181.7,188.6 L182.9,189.0 L184.4,188.9 L185.3,189.8 L186.8,189.4 L188.2,189.5 L189.7,189.4 L191.1,190.2 L191.9,190.7 L193.1,190.3 L194.3,190.5 L196.3,190.5 L197.3,190.5 L198.3,189.7 L200.1,190.1 L201.5,189.6 L202.9,189.1 L204.4,189.3 L205.1,188.8 L206.9,188.9 L207.6,189.6 L209.3,189.4 L210.7,190.0 L211.5,189.6 L212.8,189.8 L214.5,190.4 L216.0,190.4 L217.1,190.6 L218.3,190.6 L220.1,190.4 L220.8,190.1 L222.7,190.0 L224.2,190.5 L225.4,190.5 L226.6,190.8 L227.4,190.9 L229.3,191.1 L230.2,190.7 L231.8,191.6 L232.8,191.2 L234.1,190.9 L235.9,191.6 L237.3,190.9 L238.3,189.9 L239.5,189.4 L239.7,189.1 L241.3,188.6 M243.4,177.5 L243.2,179.0 L242.8,180.8 L242.8,182.4 L242.7,183.6 L242.7,185.0 L242.2,185.8 L242.0,188.2 L241.0,188.9 M342.6,191.0 L340.7,189.8 L339.6,190.3 L338.8,190.5 L337.7,190.4 L336.7,190.8 L335.2,190.0 L333.9,189.7 L332.6,189.7 L330.9,188.9 L328.6,188.6 L327.9,188.3 L326.1,188.4 L325.0,188.3 L323.4,188.6 L323.2,189.3 L321.8,190.0 L320.4,190.0 L319.1,191.3 L318.1,192.0 L317.3,192.3 L316.0,192.9 L315.1,193.0 L314.3,193.2 L313.0,194.5 L312.2,194.8 L311.9,195.5 L310.5,196.3 L310.5,197.5 L310.5,198.6 L310.4,199.3 L310.5,201.1 L310.3,201.4 L310.8,202.5 L311.3,204.2 L311.5,204.6 L312.4,205.7 L313.1,207.3 L312.1,207.9 L311.5,209.2 L312.5,210.5 L312.0,211.3 L311.9,212.9 L311.2,214.5 L310.1,214.4 L309.2,215.6 L307.4,216.1 L307.0,216.6 L305.1,217.2 L304.9,217.9 L303.7,218.1 L302.3,218.9 L301.0,219.7 L300.1,219.7 L299.7,220.6 L297.8,220.7 L297.2,221.5 L295.6,221.9 L295.2,222.3 L293.6,222.6 L293.0,223.0 L291.4,223.5 L290.7,223.8 L289.0,223.7 L287.4,223.8 L285.2,224.6 L284.3,224.4 L282.0,224.7 L281.2,225.2 L279.8,226.2 L279.2,226.8 L277.8,227.4 L276.2,228.4 L275.7,228.9 L275.1,230.3 L274.3,232.0 L273.7,232.0 L273.1,232.8 L272.5,233.8 L270.9,235.1 L270.2,235.3 L269.4,236.6 L268.3,237.4 L267.6,238.8 L266.7,239.5 L266.2,240.4 L265.6,241.5 M341.0,190.2 L342.3,190.4 L343.5,191.2 L344.2,191.8 L345.5,192.4 L346.1,192.8 L347.3,192.9 L348.8,193.8 L349.8,194.6 L350.5,194.3 L352.0,194.7 L352.6,195.0 L354.8,195.8 L356.3,196.2 L358.0,195.8 L359.1,196.5 L360.0,195.9 L361.2,194.8 L362.8,194.0 L364.4,193.8 L364.8,192.3 L365.2,191.8 L366.4,190.9 L367.7,190.3 L368.8,189.2 L369.1,188.8 L370.6,188.2 L371.9,187.6 L372.6,187.3 L374.0,187.1 L374.7,186.2 L376.3,186.2 L377.4,185.0 L378.5,185.2 L379.7,184.2 L381.7,184.7 L382.2,183.9 L384.0,183.3 L384.5,183.1 L386.2,182.1 L386.6,181.4 L387.8,180.9 L389.0,179.2 L390.9,178.1 L391.8,177.5 M406.1,177.5 L406.7,177.6 L407.9,178.6 L409.6,178.8 L410.3,179.8 L411.8,179.8 L412.8,180.1 L414.8,180.5 L415.1,181.7 L416.8,182.3 L417.2,183.1 L418.1,183.2 L418.7,184.4 L419.6,185.2 L419.7,187.5 L420.2,188.8 L421.0,189.6 L421.7,191.2 L423.2,192.2 L423.5,193.7 L423.2,195.5 L424.2,196.0 L425.0,197.7 L426.7,198.2 L427.0,199.2 L428.8,200.4 L430.3,200.8 L431.4,202.3 L432.0,202.8 L433.3,203.7 L434.5,204.4 L435.6,205.8 L436.9,206.2 L438.6,206.7 L439.2,207.3 L441.0,207.7 M406.1,196.2 L407.7,197.8 L407.6,199.2 L407.7,200.3 L407.8,202.0 L408.3,203.3 L408.3,204.6 L408.9,205.7 L409.3,207.2 L409.5,208.1 L409.7,210.3 L409.2,211.3 L408.3,212.5 L408.5,213.2 L407.8,214.6 L407.7,215.7 L406.6,216.2 L405.8,217.3 L405.1,218.6 L404.8,219.8 L403.3,220.7 L403.1,220.1 L402.1,219.5 L401.2,219.2 L399.5,218.1 L398.9,217.2 L397.7,216.6 L398.7,215.7 L397.8,214.2 L396.6,214.3 L395.8,212.4 L396.5,212.2 L397.5,210.9 L396.0,210.5 L395.4,210.2 L393.8,208.9 L393.3,207.4 L393.3,206.3 L394.1,204.5 L395.0,204.0 L396.4,202.8 L397.1,202.3 L398.7,201.5 L399.8,201.9 L400.5,200.9 L402.3,201.2 L403.4,200.3 L405.1,200.0 L404.8,198.6 L405.0,197.5Z M403.7,221.2 L404.1,222.8 L405.8,223.6 L406.8,224.0 L408.1,225.2 L408.7,226.3 L409.1,227.1 L409.8,227.0 L410.4,229.1 L411.2,230.3 L411.1,231.4 L411.4,231.6 L411.6,233.1 M403.7,221.9 L403.0,223.0 L402.0,223.6 L401.1,224.1 L400.2,225.1 L399.2,225.5 L397.6,226.5 L397.3,227.5 L395.8,227.5 L395.0,228.0 L394.0,229.0 L392.6,228.9 L392.0,229.3 L390.8,228.9 L389.2,228.6 L389.6,226.8 L389.3,226.1 L388.2,224.7 L388.5,226.5 L387.5,227.5 L387.7,229.6 L387.2,230.9 L387.3,231.6 L387.8,233.1 M451.3,177.5 L452.6,178.2 L453.1,179.5 L454.6,179.4 L456.2,180.8 L457.0,181.4 L458.9,181.8 L459.7,182.4 L461.2,183.4 L462.7,184.3 L463.4,184.3 L465.4,185.4 L466.5,185.9 L467.3,186.9 L468.6,187.0 L469.3,187.4 L470.6,189.2 L470.4,189.8 L471.5,191.0 L471.9,192.6 L472.4,193.5 L473.5,194.8 L473.5,195.6 L473.8,197.1 L474.6,197.9 L474.7,199.0 L475.3,200.5 L476.0,200.8 L476.8,202.2 L477.7,203.0 L478.6,203.4 L479.7,204.8 L480.9,205.0 L481.8,205.8 L483.6,207.1 L484.8,208.1 L485.5,208.9 L486.1,209.6 L487.5,209.5 L488.9,210.9 L489.8,210.6 L491.6,211.8 L492.6,212.1 M487.8,178.3 L490.2,179.9 L491.8,181.5 M441.0,208.5 L442.3,209.7 L442.9,209.6 L443.8,210.4 L445.2,211.8 L445.4,212.1 L446.5,213.5 L448.1,214.8 L448.8,215.8 L449.9,216.1 L450.8,216.8 L452.6,218.5 L453.4,218.3 L453.9,219.0 L455.1,220.3 L455.9,220.4 L457.6,220.3 L458.4,221.4 L459.7,222.1 L461.2,223.3 L462.3,222.9 L464.5,223.1 L465.5,223.1 L465.8,222.9 L467.1,223.7 L468.3,223.7 L470.7,223.2 L471.1,224.3 L472.7,225.0 L473.8,226.1 L474.6,227.5 L475.9,228.5 L476.4,228.9 L477.1,229.3 L478.7,230.2 L479.4,229.6 L480.4,228.8 L480.5,229.9 L481.2,230.8 L482.2,232.6 L483.6,231.8 L485.1,231.4 L486.3,232.3 L486.7,232.5 L488.1,233.5 L489.0,233.8 L489.6,234.6 L489.7,235.8 L490.0,236.8 L491.4,238.1 L492.1,239.4 M443.2,202.6 L443.7,201.6 L444.7,201.6 L445.1,202.6 L444.7,203.5 L443.7,203.5Z M173.5,244.2 L175.0,244.9 L176.8,245.2 L177.6,244.6 L179.0,245.3 L180.3,245.4 L182.0,245.1 L183.9,244.5 M222.0,234.2 L222.8,233.1 L224.0,232.2 L224.4,233.2 L225.1,235.5 L226.4,236.1 M185.8,252.9 L186.4,252.1 L187.6,250.4 L189.3,250.6 L190.9,252.0 L191.5,252.6 M222.3,233.9 L223.5,232.6 L225.1,235.8 M267.2,239.8 L266.6,240.7 L265.7,241.5 L264.6,241.7 L263.9,242.6 L263.7,244.1 L262.6,245.5 L262.0,245.6 L260.9,246.4 L260.7,247.9 L259.8,248.9 L259.0,250.4 L259.7,252.2 L260.1,253.6 L260.2,254.6 L260.7,256.6 L261.3,256.5 L262.2,258.0 L263.6,258.2 L265.0,259.4 L266.0,259.3 L267.5,260.7 L265.6,262.1 L264.7,262.3 L263.8,262.7 L262.2,263.4 L261.5,263.6 L260.4,264.9 L259.4,265.5 L258.6,265.6 L257.2,266.9 L257.0,267.3 L255.8,268.7 L256.0,269.1 L255.1,270.5 L254.3,271.0 L253.5,273.0 L253.0,274.2 L252.0,275.3 L251.8,277.1 M299.4,248.2 L300.1,247.4 L301.1,247.2 L301.7,246.6 L302.9,245.9 L304.0,245.1 L305.2,244.1 L306.6,244.5 L307.2,244.1 L308.4,243.9 L309.6,243.0 L311.4,243.1 L312.7,244.5 L313.3,245.2 L314.7,245.1 L315.4,245.9 L316.2,246.9 L316.5,247.2 L315.8,247.7 L314.9,248.9 L314.5,250.6 L314.0,251.8 L313.0,252.5 L312.1,252.6 L310.5,252.7 L309.1,252.8 L308.0,252.0 L307.2,250.7 L306.0,250.7 L304.3,250.0 L303.8,249.9 L301.7,249.9 L300.8,248.8Z M321.2,241.8 L322.2,241.7 L323.4,240.8 L325.6,241.0 L326.6,241.0 L328.1,242.3 L329.0,242.8 L328.0,244.3 L326.7,244.2 L325.0,244.0 L323.2,243.0 L322.7,243.1Z M282.6,258.3 L283.8,257.4 L284.6,256.1 L285.5,255.9 L287.2,254.9 L288.8,255.7 L288.6,256.9 L288.3,258.1 L287.3,258.8 L286.2,260.0 L284.7,260.0 L284.0,260.4 L283.3,259.6Z M412.4,234.2 L411.7,235.1 L410.8,236.9 L410.6,237.9 L410.2,238.6 L410.5,240.1 L410.5,240.4 L410.7,241.4 L411.3,243.4 L410.9,244.3 L410.9,245.8 L410.5,247.2 L409.4,248.6 L409.5,249.6 L409.4,250.9 L409.3,252.2 L408.3,253.5 L406.4,254.7 L405.4,254.1 L404.9,253.9 L403.4,253.8 L402.3,255.3 L401.7,256.0 L401.0,256.8 L400.0,257.8 L399.1,258.6 L397.8,258.3 L396.1,259.2 L395.4,258.4 L394.5,257.3 L393.2,257.2 L392.1,256.7 L390.3,256.4 L389.2,255.4 L389.3,253.8 L388.8,252.8 L389.5,252.0 L391.5,251.5 L391.4,250.6 L391.3,249.8 L392.4,248.9 L391.7,246.6 L391.3,245.5 L392.0,244.2 L392.2,242.8 L393.0,242.1 L392.1,241.4 L391.2,240.2 L390.9,239.3 L390.8,237.1 L391.6,235.8 L390.3,234.9 L389.1,233.8 L388.1,233.1 L387.8,231.8 M480.7,263.6 L482.0,263.7 L483.9,263.2 L485.2,262.7 L486.5,262.9 L487.8,264.0 L488.8,264.7 L489.3,265.3 L490.7,265.6 L491.0,267.5 M488.6,269.1 L491.8,269.9 M451.3,273.1 L452.1,277.4" fill="none" stroke="#000" stroke-width="0.75" stroke-linejoin="round"/>
<path d="M167.3,91.1 L168.6,91.1 L168.6,92.2 L167.3,92.2Z M193.1,72.5 L193.9,72.5 L193.9,73.3 L193.1,73.3Z M199.7,84.4 L201.0,84.4 L201.0,85.4 L199.7,85.4Z M271.5,67.4 L275.1,68.2 L276.7,69.3 L273.5,69.2Z M451.6,54.1 L452.6,54.1 L452.6,55.1 L451.6,55.1Z M459.3,54.3 L460.2,54.3 L460.2,55.2 L459.3,55.2Z M462.4,53.0 L463.4,53.0 L463.4,53.9 L462.4,53.9Z M469.9,53.5 L470.8,53.5 L470.8,54.4 L469.9,54.4Z M478.3,59.0 L479.3,59.0 L479.3,60.0 L478.3,60.0Z M481.0,65.4 L482.0,65.4 L482.0,66.3 L481.0,66.3Z M194.5,115.3 L197.7,115.0 L199.7,116.1 L197.7,117.2 L195.3,116.9Z M192.4,120.1 L195.3,120.4 L195.6,121.2 L192.7,120.9Z M186.3,113.4 L187.8,113.4 L187.8,114.1 L186.3,114.1Z M224.2,98.1 L226.7,98.1 L226.7,99.2 L224.2,99.2Z M230.3,101.9 L233.3,101.9 L233.3,103.3 L230.3,103.3Z M230.0,94.5 L231.0,94.5 L231.0,94.9 L230.0,94.9Z M214.7,129.8 L217.2,129.8 L217.2,130.9 L214.7,130.9Z M227.9,139.6 L229.4,139.6 L229.4,140.2 L227.9,140.2Z M240.6,147.2 L243.6,147.2 L243.6,148.5 L240.6,148.5Z M243.2,151.6 L245.8,151.6 L245.8,152.7 L243.2,152.7Z M448.9,159.8 L452.9,157.9 L453.4,158.6 L449.7,160.8Z M488.6,173.0 L492.1,176.2 L492.1,177.5 L489.4,175.7Z M272.4,232.3 L276.2,230.8 L276.7,231.8 L273.5,233.4Z M404.5,222.3 L406.9,223.8 L409.6,226.4 L410.5,228.6 L408.9,227.5 L406.1,225.1Z M417.3,198.8 L420.2,198.8 L420.2,200.7 L417.3,200.7Z M411.8,195.4 L413.0,195.4 L413.0,196.2 L411.8,196.2Z M412.7,189.6 L413.7,189.6 L413.7,190.2 L412.7,190.2Z M415.8,202.5 L417.0,202.5 L417.0,203.3 L415.8,203.3Z M419.6,206.1 L420.5,206.1 L420.5,206.7 L419.6,206.7Z M429.0,206.0 L430.2,206.0 L430.2,206.8 L429.0,206.8Z M432.3,205.0 L433.2,205.0 L433.2,205.6 L432.3,205.6Z M308.0,254.4 L308.9,254.4 L308.9,255.3 L308.0,255.3Z M285.1,261.7 L287.3,262.0 L287.3,262.6 L285.1,262.3Z M459.0,227.4 L460.4,227.4 L460.4,228.3 L459.0,228.3Z M465.9,229.1 L466.9,229.1 L466.9,229.8 L465.9,229.8Z M462.7,260.9 L463.7,260.9 L463.7,261.5 L462.7,261.5Z M482.6,263.7 L483.5,263.7 L483.5,264.4 L482.6,264.4Z" fill="#222" stroke="none"/>
</g>
<g transform="translate(0,268.5)">
<text y="23.7" font-size="12.89" xml:space="preserve"><tspan x="10.87">IFS </tspan><tspan x="34.11">- </tspan><tspan x="42.84" letter-spacing="0.11">Probabilities </tspan><tspan x="127.08" letter-spacing="0.15">total </tspan><tspan x="161.62">precipitation/24h </tspan><tspan x="275.90">&gt; </tspan><tspan x="290.88">50 </tspan><tspan x="311.36">mm, </tspan><tspan x="344.83">Init: </tspan><tspan x="373.84">20260314 </tspan><tspan x="442.97">12z </tspan><tspan x="469.50">- </tspan><tspan x="478.43">Valid: </tspan><tspan x="518.19" letter-spacing="-0.16">20260317:00 </tspan><tspan x="606.73">TU</tspan></text>
<rect x="158.50" y="36.5" width="35.32" height="7.0" fill="#ffff00"/>
<rect x="193.72" y="36.5" width="35.32" height="7.0" fill="#ffd000"/>
<rect x="228.94" y="36.5" width="35.32" height="7.0" fill="#ffa800"/>
<rect x="264.17" y="36.5" width="35.32" height="7.0" fill="#ff8a00"/>
<rect x="299.39" y="36.5" width="35.32" height="7.0" fill="#ff6a00"/>
<rect x="334.61" y="36.5" width="35.32" height="7.0" fill="#ee1a0a"/>
<rect x="369.83" y="36.5" width="35.32" height="7.0" fill="#cc0000"/>
<rect x="405.06" y="36.5" width="35.32" height="7.0" fill="#990000"/>
<rect x="440.28" y="36.5" width="35.32" height="7.0" fill="#660000"/>
<path d="M193.72,36.5 V43.5 M228.94,36.5 V43.5 M264.17,36.5 V43.5 M299.39,36.5 V43.5 M334.61,36.5 V43.5 M369.83,36.5 V43.5 M405.06,36.5 V43.5 M440.28,36.5 V43.5" stroke="#000" stroke-width="0.8" fill="none"/>
<rect x="158.5" y="36.5" width="317.0" height="7.0" fill="none" stroke="#000" stroke-width="1"/>
<text transform="translate(158.50,31.2) scale(1.116,1)" font-size="8.6" text-anchor="middle" fill="#222">10</text>
<text transform="translate(193.72,31.2) scale(1.116,1)" font-size="8.6" text-anchor="middle" fill="#222">25</text>
<text transform="translate(228.94,31.2) scale(1.116,1)" font-size="8.6" text-anchor="middle" fill="#222">40</text>
<text transform="translate(264.17,31.2) scale(1.116,1)" font-size="8.6" text-anchor="middle" fill="#222">50</text>
<text transform="translate(299.39,31.2) scale(1.116,1)" font-size="8.6" text-anchor="middle" fill="#222">60</text>
<text transform="translate(334.61,31.2) scale(1.116,1)" font-size="8.6" text-anchor="middle" fill="#222">70</text>
<text transform="translate(369.83,31.2) scale(1.116,1)" font-size="8.6" text-anchor="middle" fill="#222">80</text>
<text transform="translate(405.06,31.2) scale(1.116,1)" font-size="8.6" text-anchor="middle" fill="#222">90</text>
<text transform="translate(440.28,31.2) scale(1.116,1)" font-size="8.6" text-anchor="middle" fill="#222">95</text>
<text transform="translate(475.50,31.2) scale(1.116,1)" font-size="8.6" text-anchor="middle" fill="#222">100</text>
<rect x="141.0" y="49.4" width="352.1" height="227.95" fill="none" stroke="#222" stroke-width="1"/>
<text transform="translate(488.4,254.2) scale(1.116,1)" font-size="8.6" text-anchor="end" fill="#1a1a1a">from grib files provided by ECMWF</text>
<text transform="translate(488.4,273.4) scale(1.116,1)" font-size="8.6" text-anchor="end" fill="#1a1a1a">©2026 sb@irizone.net</text>
</g>
<g transform="translate(0,537)" clip-path="url(#clip)">
<path d="M210.2,109.3 L209.5,110.5 L209.6,111.5 L209.0,113.8 L208.9,114.6 L208.0,116.3 L207.4,117.5 L207.4,118.7 L207.1,120.1 M209.6,117.5 L211.1,118.1 L212.1,118.4 L213.7,117.7 L216.0,118.2 L217.5,117.7 L219.4,117.7 L220.8,117.9 L222.2,118.7 L223.4,118.8 L224.6,118.7 L226.7,118.0 L228.1,118.4 L228.9,117.9 L230.9,116.4 L231.6,115.8 L232.8,113.9 L233.4,112.8 L233.7,111.8 M231.8,122.0 L231.9,123.2 L232.3,124.8 L232.4,125.7 L231.5,127.2 L230.6,129.6 M233.1,112.5 L234.8,112.4 L237.1,113.4 L239.3,112.5 L240.3,112.7 L242.2,112.6 L243.9,111.8 M246.4,112.5 L247.0,113.5 L247.3,115.4 L247.4,116.5 L247.0,118.4 L247.1,119.7 L246.1,121.2 L246.5,122.5 L246.0,123.9 L246.4,125.2 L246.8,126.5 L248.1,127.3 L248.3,129.0 M241.3,111.2 L242.7,112.0 L244.8,111.5 L245.9,112.6 L248.0,112.1 L249.2,111.6 L251.1,111.4 L251.8,110.7 L252.0,109.4 L251.0,107.9 L250.4,107.2 L249.4,105.7 L248.5,104.0 L249.9,102.1 L248.3,100.4 M252.1,110.5 L254.1,110.5 L255.6,110.1 L257.4,110.0 L259.3,109.5 L261.5,108.6 L263.5,108.6 L265.4,107.9 L267.4,107.8 L269.8,107.6 L271.1,107.1 L273.6,106.9 L275.0,106.7 M248.3,113.7 L250.4,113.9 L252.0,113.6 L253.8,113.3 L255.5,114.1 L258.2,113.4 L259.7,113.6 L261.4,113.4 L263.6,114.0 L265.9,114.1 L267.1,113.4 L269.2,113.3 L271.1,114.5 L272.9,114.0 L275.0,113.7 M233.1,121.3 L235.2,121.2 L237.3,121.6 L238.6,122.8 L240.2,123.1 L241.9,123.7 L243.4,123.9 L245.8,123.9 M245.8,123.9 L247.4,123.9 L249.2,124.5 L251.5,124.2 L253.7,124.2 L255.1,124.4 L257.6,124.7 L259.4,124.4 L261.5,124.4 L263.0,124.8 L264.8,124.3 M261.0,114.1 L260.3,115.1 L260.6,117.0 L260.0,117.9 L259.1,119.1 L258.7,120.5 L258.6,121.8 L258.9,123.4 L259.8,124.5 M269.9,101.7 L270.6,104.2 L271.2,107.4 M271.2,114.1 L271.4,115.8 L272.5,116.6 L272.7,118.5 L273.7,120.3 L273.3,121.6 L273.5,123.0 L272.9,124.9 L272.3,126.2 L271.3,127.4 L271.2,128.3 M223.6,118.8 L224.0,120.1 L224.7,122.1 L224.2,123.4 L223.6,124.8 M288.3,79.1 L289.4,79.6 L291.0,79.0 L292.9,79.1 L294.2,79.3 L295.3,78.9 L296.8,78.5 L299.0,78.4 L299.9,77.5 L302.4,78.4 L303.5,79.0 L305.4,80.3 L306.9,80.9 L308.1,80.8 L309.0,81.1 L311.0,80.2 L312.3,79.1 L313.4,77.0 L312.4,76.5 L311.6,75.6 L310.3,74.1 L308.9,73.4 L307.4,71.5 M289.0,88.0 L290.3,87.7 L292.2,87.9 L293.8,87.5 L294.6,87.2 L296.4,87.3 L297.7,87.4 L299.0,88.3 L300.5,88.7 L302.1,89.0 L303.6,88.6 L305.2,88.6 L306.7,89.2 L307.7,89.9 L309.6,89.2 L311.7,89.6 L312.4,89.2 L313.8,89.7 L315.7,89.3 L317.3,88.9 L319.9,88.9 L321.8,89.7 L322.9,89.9 L324.4,90.3 L326.7,90.7 L326.8,89.6 L326.7,88.0 L326.5,86.6 L326.1,85.7 L324.9,85.4 L323.4,84.9 L321.8,85.3 L319.5,85.0 L318.6,84.6 L316.5,84.0 L315.8,83.7 L314.5,82.5 L314.2,81.0 L313.1,79.1 M311.2,89.9 L310.8,91.5 L310.8,92.9 L310.5,94.8 L311.5,96.0 L311.1,98.2 L310.2,99.1 L310.2,100.9 L310.4,103.1 L309.5,104.2 L309.3,105.2 M289.0,94.4 L291.0,94.3 L293.2,94.7 L293.8,95.2 L295.3,95.4 L297.1,96.1 L298.6,95.9 L300.5,95.5 L301.4,95.2 L303.1,95.4 L304.8,95.7 L305.9,96.0 L308.1,95.7 L308.9,95.6 L310.6,96.3 M290.2,95.0 L289.7,96.1 L289.9,98.5 L290.6,100.2 L291.2,101.4 L290.6,102.1 L290.2,103.9 M326.4,90.5 L326.6,91.9 L327.2,93.3 L326.5,95.2 L325.8,96.8 L325.1,98.4 L325.5,99.5 L326.4,100.0 L328.7,100.9 L330.5,100.3 L332.5,101.1 L333.8,101.8 L336.3,102.1 L337.6,102.2 L339.8,102.6 M318.8,100.1 L320.3,99.7 L322.2,99.8 L323.4,99.6 L325.2,99.4 M297.2,107.1 L298.9,106.6 L300.2,106.1 L301.5,106.1 L302.3,107.1 L302.9,109.8 L301.5,109.8 L300.3,110.3 L299.1,110.2 L297.6,109.3 M275.0,109.6 L276.4,109.1 L279.2,108.5 L281.0,108.2 L282.8,108.6 L284.3,108.8 L286.2,109.8 L287.7,111.0 L288.8,112.2 L290.7,113.4 L292.0,113.8 L293.4,114.2 L295.3,114.7 M302.9,112.1 L304.7,112.1 L306.4,111.6 L308.9,111.6 L310.1,110.6 L312.5,111.0 L314.0,110.6 L315.5,109.3 L317.3,107.9 L315.5,106.1 L314.0,105.8 L313.3,105.6 L310.8,105.6 L309.3,105.2 M316.9,108.3 L318.8,108.6 L321.0,109.9 L322.3,110.7 L324.8,110.6 L325.9,111.5 L328.7,111.1 L330.5,112.1 L332.3,112.5 L334.5,111.3 L336.3,111.3 L337.0,110.4 L338.7,109.9 L339.2,108.1 L339.5,107.1 L339.4,105.9 L340.2,103.8 L339.8,102.6 M328.3,111.5 L328.8,113.3 L328.6,115.0 L328.9,116.1 L327.9,117.6 L329.2,119.4 L329.6,121.0 M334.7,91.8 L336.9,92.1 L338.1,92.9 L340.1,93.4 L340.6,94.6 L341.9,95.2 L343.8,95.4 L346.3,96.6 L347.9,95.9 L349.5,95.5 L350.9,96.6 L352.7,97.2 L353.8,96.8 L355.0,96.3 M327.1,88.0 L328.6,88.2 L330.7,88.4 L332.1,87.4 L332.6,86.5 L333.8,88.1 L334.0,89.2 L334.8,91.0 L334.7,91.8 M346.1,96.3 L347.0,97.6 L348.4,98.6 L348.7,99.7 L349.9,101.6 L349.3,102.5 L349.8,103.9 L350.1,105.2 L351.2,105.8 M295.3,114.7 L296.0,116.1 L295.6,118.0 L295.6,119.5 L294.8,120.2 L295.3,122.3 M282.6,108.3 L282.3,109.7 L281.9,111.5 L283.0,113.5 L283.7,114.7 L283.4,115.9 L283.0,118.0 L283.6,119.3 L283.9,121.0 M302.9,112.1 L303.7,113.2 L303.9,115.6 L304.1,117.2 L304.6,118.7 L304.5,120.0 L304.2,121.7 M339.8,102.6 L341.4,102.6 L343.8,101.6 L346.0,102.0 L347.3,102.5 L348.7,104.1 L350.4,104.9 L351.2,105.8 M338.5,109.6 L340.3,109.8 L341.9,110.9 L344.3,110.5 L346.6,110.1 L347.9,110.8 L349.6,111.9 L351.9,111.2 L353.7,110.9 M307.4,71.5 L310.6,70.2 M313.1,77.2 L314.9,76.6 L316.7,76.6 L318.8,76.4 L320.8,75.0 L321.9,74.3 L323.7,74.3 L325.2,72.5 L325.8,71.5 M325.8,71.5 L327.3,72.1 L328.4,72.8 L329.1,73.0 L331.0,74.9 L332.0,76.4 L332.1,77.3 L331.1,79.2 L332.3,80.4 L332.3,82.3 L332.3,84.0 L332.9,85.0 L332.8,86.7 M338.5,71.5 L338.8,72.8 L338.8,74.4 L338.8,76.2 L338.1,77.7 L338.5,79.5 L338.6,80.9 L337.9,82.3 L337.7,84.4 L336.0,85.3 L334.3,85.9 L334.1,88.0 L334.0,89.3 M355.0,72.8 L355.1,74.3 L356.6,76.2 L356.2,77.3 L355.4,79.3 L356.4,80.9 L357.4,82.6 L358.6,83.9 L359.9,84.7 L359.6,85.9 L359.2,87.5 L357.9,89.2 L357.2,90.4 L357.2,92.1 L358.2,93.3 L359.4,93.6 L361.0,94.7 L362.0,94.2 L363.3,94.4 M360.7,95.0 L361.4,96.7 L362.9,98.3 L363.8,99.7 L365.3,100.4 L366.5,101.8 L367.9,102.3 L369.1,103.1 L370.5,103.7 L373.0,103.6 L374.4,103.5 L376.2,104.0 L378.1,103.9 L380.1,104.7 L382.1,105.5 L384.6,105.3 L386.1,105.8 M370.9,103.9 L370.8,105.7 L370.3,106.8 L371.6,108.5 L371.7,108.8 L372.9,109.6 L374.0,111.3 L373.3,112.5 L373.2,112.9 L372.9,114.1 L371.2,114.9 L371.7,116.5 L371.8,118.2 L371.9,120.0 L371.5,121.7 M358.8,108.3 L360.5,109.0 L362.9,109.8 L364.4,110.6 L366.7,110.9 L368.3,111.3 L369.9,112.5 L371.9,112.4 L373.4,113.4 M355.0,98.8 L358.2,98.8 L360.7,98.2 M362.6,114.7 L364.9,114.7 L366.0,114.2 L368.1,114.7 L370.2,115.3 M358.8,108.3 L358.8,109.8 L358.2,111.7 L358.5,113.2 L359.4,115.2 L358.8,116.5 L358.4,117.6 L359.1,119.1 L360.1,121.0 M245.3,122.5 L246.0,123.8 L246.9,125.3 L247.7,127.3 L248.1,127.9 L250.7,128.5 L252.7,128.7 L254.1,129.0 L256.0,128.7 L258.1,128.5 L259.3,129.9 L260.8,130.2 L263.1,130.1 M242.1,135.2 L244.3,135.1 L246.1,134.2 L247.9,134.4 L249.2,135.2 L250.2,135.4 L251.8,135.7 L252.9,136.1 L254.7,136.1 L256.7,135.8 L258.5,135.2 L259.8,135.8 L261.4,136.8 L262.6,137.7 L263.6,139.5 L263.2,140.2 L262.7,142.4 L263.2,143.3 L264.2,145.3 L264.8,146.9 L265.4,147.4 L266.7,148.9 L266.4,150.1 L266.8,151.9 L265.3,152.6 L264.4,153.8 L262.5,153.9 L260.8,155.3 L258.8,155.4 L258.2,157.3 L258.0,158.1 M246.0,146.6 L247.5,146.8 L250.1,146.2 L251.2,146.5 L253.6,146.6 L253.9,145.4 L255.1,143.7 L254.9,142.7 L254.0,141.3 L254.8,140.4 L255.5,139.4 L255.2,137.4 L254.8,135.8 M254.8,146.6 L256.6,147.3 L256.9,148.4 L258.5,149.1 L259.8,150.0 L261.9,150.1 L263.5,150.0 L264.6,149.1 L265.6,147.9 M258.0,158.1 L259.4,158.9 L260.9,159.4 L262.9,159.3 L264.0,158.5 L266.3,158.4 L268.0,157.0 L268.8,156.4 L270.9,156.4 L272.4,155.8 L273.9,154.9 L275.6,153.1 L274.5,151.1 M258.0,158.1 L257.5,159.4 L256.7,160.9 L257.5,161.5 L257.9,163.1 L257.6,164.8 L257.2,166.2 L256.1,168.2 M273.9,154.9 L275.4,155.4 L277.5,155.7 L278.2,157.0 L280.1,157.4 L281.6,158.2 L282.5,158.8 L283.8,161.0 L283.8,161.8 L283.6,163.0 L283.8,165.4 L283.8,166.1 L284.9,167.9 L284.3,169.1 L284.0,170.8 M275.2,145.4 L276.5,145.3 L278.7,145.1 L279.9,145.1 L282.6,145.6 L284.0,144.7 L285.5,145.0 L287.4,145.3 L289.9,145.3 L292.1,145.5 L293.7,144.3 L295.6,145.0 L297.1,145.8 L299.2,145.9 L300.3,147.1 L301.3,148.4 L301.8,150.1 L301.2,151.6 L301.0,153.4 L300.7,153.8 L299.3,154.9 M275.8,133.9 L276.5,135.1 L277.0,137.2 L276.9,138.5 L276.0,139.9 L275.9,141.2 L275.0,142.9 L275.6,145.4 L274.7,147.3 L274.5,149.4 L274.5,151.1 M278.3,130.1 L279.9,130.2 L282.1,131.2 L283.7,130.1 L285.6,129.8 L287.7,130.6 L290.0,131.3 L291.6,131.0 L293.8,131.2 L294.4,132.1 L295.2,133.1 L295.2,134.7 L294.7,136.2 L295.1,138.4 L296.0,139.8 L295.8,141.3 L295.2,142.5 L296.3,144.3 L297.4,145.4 M267.5,166.9 L268.2,168.0 L269.0,170.1 L268.1,171.5 L268.2,173.3 M283.4,165.0 L285.0,165.7 L287.3,165.5 L288.9,165.1 L290.8,164.9 L293.2,166.0 L295.0,166.7 L296.9,165.6 L298.7,165.7 M295.5,132.7 L296.9,132.6 L299.0,133.3 L301.5,133.1 L303.0,132.4 L305.0,133.9 M296.1,139.6 L298.5,140.2 L299.8,139.8 L302.3,140.7 L304.1,141.2 L305.0,140.9 M263.1,130.1 L265.2,130.3 L267.3,130.6 L268.4,130.1 L271.0,130.6 L272.8,130.9 L274.3,131.2 L276.0,131.2 L278.3,130.1 M263.1,130.1 L263.0,131.8 L263.6,133.0 L263.0,135.3 L262.5,136.5 M232.6,122.5 L232.0,123.8 L232.1,125.8 L232.9,126.6 L234.3,127.8 L235.2,128.3 L237.1,128.8 L239.0,128.8 L241.3,128.2 L241.5,127.1 L242.6,125.2 L243.8,124.0 L245.3,122.5 M299.3,154.9 L298.0,155.1 L295.9,156.5 L295.0,157.0 L293.8,159.0 L292.2,159.3 L291.2,160.4 L288.8,160.6 L287.1,160.9 L285.5,161.6 L284.0,161.9 M305.0,139.0 L307.0,139.2 L309.1,139.2 L310.5,139.8 L313.0,139.4 L314.8,139.7 L316.7,140.4 L318.0,139.7 L319.8,140.0 L322.0,140.2 L324.1,140.5 L326.2,140.9 L328.2,140.7 L329.6,140.6 L331.9,141.7 L333.4,142.0 L335.1,143.1 L336.8,143.1 L338.3,142.8 M324.0,135.2 L324.2,136.6 L324.7,138.6 L324.7,139.5 L324.2,140.8 L324.7,143.1 L324.7,144.6 L323.8,146.7 L323.7,147.7 L323.3,149.5 L324.5,151.2 L325.0,153.0 L325.3,154.2 M315.2,147.3 L317.1,147.6 L318.9,148.0 L320.5,148.0 L322.4,146.9 L324.9,148.0 L326.9,148.7 L328.9,147.8 L329.9,147.6 L332.6,148.2 L334.2,149.4 L335.5,150.4 M325.3,154.2 L326.9,154.6 L329.5,155.1 L330.9,155.5 L332.7,156.6 L334.8,157.0 L336.1,157.4 M312.6,160.6 L314.3,160.5 L316.4,160.3 L318.2,160.7 L320.4,160.5 L322.2,160.6 L324.1,160.4 L325.5,161.0 L328.1,161.2 L330.1,160.6 L331.5,160.8 L333.9,160.5 L335.5,160.6 M328.5,149.8 L329.3,151.5 L328.7,152.6 L328.4,154.6 L328.3,155.9 L329.1,157.3 L330.2,159.7 L329.5,160.9 L329.1,162.5 M339.3,142.8 L341.0,143.6 L342.9,144.6 L345.5,144.6 L347.2,144.3 L348.4,145.2 L350.3,145.9 L352.8,146.0 L354.3,145.1 L354.6,145.8 L355.8,147.3 M371.0,130.8 L369.2,131.6 L367.9,133.1 L366.4,134.3 L364.8,135.0 L363.3,136.7 L361.7,137.7 L360.2,138.8 L358.5,140.2 L358.1,141.2 L357.4,143.2 L358.1,144.7 L358.3,146.0 M368.5,145.4 L368.2,146.3 L367.6,148.1 L369.3,148.5 L369.3,149.7 L369.0,151.2 L368.1,152.7 L367.2,154.2 M337.4,159.3 L339.1,160.4 L341.0,160.4 L342.5,162.3 L344.5,163.5 L345.5,163.8 L347.8,164.9 L349.6,163.4 L350.6,163.6 L352.3,162.3 L353.6,160.1 L355.3,159.1 L355.9,157.9 L357.5,157.9 L359.4,157.2 L360.3,157.4 L361.7,157.3 L364.5,156.5 L365.8,156.2 L367.0,155.3 L368.5,154.0 M355.8,158.1 L357.2,158.9 L358.8,160.2 L360.1,161.4 L361.2,162.1 L363.6,163.1 L364.6,163.4 L367.1,162.9 L368.5,161.6 L369.8,161.4 L371.3,160.1 L371.1,158.3 L370.5,157.1 L369.1,155.7 L368.5,154.0 M344.4,163.1 L344.5,165.1 L345.7,166.6 L345.7,168.5 L344.7,170.0 L346.0,171.6 L346.9,173.3 M353.9,160.6 L354.0,162.1 L355.4,164.0 L356.5,166.0 L358.7,167.3 L359.3,167.7 L361.1,169.6 L362.3,168.1 L364.0,167.6 M305.0,161.9 L306.5,162.2 L308.3,163.6 L309.5,163.7 L311.5,164.6 L312.7,165.6 L315.0,166.1 L315.9,166.6 L317.7,166.9 M371.0,160.0 L372.3,160.8 L374.4,161.7 L375.5,162.8 L375.7,164.5 L375.4,166.4 L374.4,167.8 L375.6,169.0 L375.7,170.9 L376.1,172.0 L375.5,173.3 M336.7,164.4 L334.8,164.9 L333.0,165.0 L331.0,165.6 L329.8,166.7 L329.0,167.3 L327.1,167.9 L326.4,169.7 L325.1,170.9 L325.2,171.9 L324.0,173.3 M308.8,122.5 L309.9,124.3 L310.2,126.7 L311.1,127.4 L313.1,128.4 L314.3,129.1 L316.7,129.6 L318.8,129.3 L319.7,128.4 L321.7,129.4 L323.6,130.1 L324.2,131.5 L324.4,133.4 L324.0,135.2 M324.0,130.1 L326.4,129.3 L328.0,128.9 L329.5,129.4 L331.2,129.2 L333.4,129.2 L335.5,127.8 L337.2,128.6 L339.6,128.5 L341.5,128.1 L343.1,127.5 L344.9,128.4 L346.9,128.2 M346.9,128.2 L347.6,130.5 L347.8,132.2 L348.1,132.5 L349.4,133.9 M346.9,128.2 L349.1,127.8 L350.8,126.8 L352.4,127.7 L354.6,127.1 L356.3,126.8 L357.9,126.8 L360.6,126.9 L361.6,126.9 L363.0,128.2 L364.7,129.1 M335.5,128.2 L336.2,130.0 L336.6,130.8 L336.3,132.3 L337.9,134.9 L338.3,136.2 L338.8,137.4 L338.7,139.0 M317.7,166.9 L318.2,168.0 L319.5,170.0 L318.9,172.0 L318.3,173.3 M235.0,191.4 L237.0,192.3 L239.1,192.7 L240.5,192.8 L241.6,193.9 L243.1,194.6 L245.6,195.0 L247.0,195.7 L249.5,196.7 L250.7,197.1 L252.2,197.4 L253.3,198.2 L255.1,198.8 L256.2,199.2 L258.1,199.3 L259.2,199.7 L260.4,199.7 L262.1,200.1 L263.3,200.9 L265.5,201.1 L266.5,201.4 L268.6,201.1 L269.4,201.0 L271.1,200.5 L272.4,201.5 L274.5,202.0 L275.9,201.4 L278.2,201.3 L279.9,202.1 L282.0,202.8 L284.0,203.2 L285.9,204.0 L287.6,203.6 L290.1,204.9 L291.1,204.4 L293.1,205.1 L294.9,204.8 L297.2,205.1 L298.9,205.8 L300.7,205.7 L302.7,205.7 L304.7,205.5 L306.6,205.1 L308.2,205.3 L310.2,204.6 L311.2,204.3 M242.0,187.8 L243.0,187.8 L245.3,188.2 L246.1,188.8 L248.3,187.9 L249.4,188.1 L250.5,187.6 L252.5,188.2 L254.0,188.4 L255.2,188.0 L256.3,188.6 L258.6,188.4 L259.3,188.1 L261.3,188.0 L263.3,188.8 L264.5,190.7 L263.5,192.1 L262.7,193.0 L262.8,194.2 L262.2,195.7 L262.3,197.0 L261.7,198.6 M248.3,173.8 L249.5,173.8 L251.4,174.4 L252.8,174.8 L254.3,175.0 L255.4,175.8 L256.3,176.7 L258.1,177.2 L260.8,177.8 L261.3,178.2 L263.0,179.4 L263.7,179.8 L265.5,182.1 M260.4,182.7 L261.9,182.4 L262.9,182.2 L264.6,181.6 L266.4,181.1 L268.3,180.9 L269.2,180.9 L271.5,181.6 L273.4,181.5 L274.6,182.9 L276.1,184.5 L277.5,185.0 L278.9,186.5 L277.6,188.1 L276.6,189.3 L275.6,189.6 L274.6,190.6 L273.6,191.5 L271.5,190.4 L269.5,190.4 L268.1,189.7 L266.0,188.6 L264.8,188.8 L263.6,188.5 M277.5,176.4 L279.3,175.7 L281.3,175.3 L282.9,176.3 L285.0,177.0 L287.1,176.6 L288.6,175.9 L290.9,177.5 L292.6,177.5 L294.5,177.6 L296.6,177.3 L297.7,175.7 L299.5,175.0 L301.6,174.4 L304.0,173.8 L305.6,173.7 L307.4,172.6 M289.0,184.3 L290.1,186.1 L291.2,187.7 L291.7,189.5 L293.4,190.4 L294.9,190.9 L297.1,191.1 L298.9,191.1 L300.9,190.1 L303.3,189.4 L304.6,189.1 L307.2,188.1 L308.4,188.1 L310.1,187.1 L312.5,186.5 M290.9,187.8 L290.5,189.9 L289.9,191.2 L290.6,192.8 L291.2,194.1 L291.9,195.4 L292.9,196.4 L294.7,197.5 L296.3,199.0 L298.6,199.6 L300.0,198.9 L302.3,198.2 L304.0,198.7 L306.3,198.0 L308.1,198.0 L309.9,197.3 M294.7,198.0 L294.8,199.7 L293.6,201.5 L294.3,202.2 L295.0,203.7 L296.4,204.6 L297.2,205.6 M278.8,186.5 L280.4,187.5 L282.2,189.1 L283.1,190.1 L284.5,190.4 M287.7,192.3 L289.7,193.0 L291.4,192.5 L292.0,191.6 L293.4,190.4 M269.3,190.4 L269.7,192.5 L271.0,193.8 L271.2,196.2 L272.2,197.3 L271.1,199.0 L271.2,200.8 M293.4,170.0 L294.7,171.6 L295.6,172.4 L296.6,173.6 L296.5,175.1 L296.6,177.0 M303.6,167.5 L304.1,169.0 L304.6,170.4 L304.3,172.0 L303.6,173.8 M260.4,177.7 L261.0,180.2 L260.4,182.7 M273.1,181.5 L273.3,179.5 L273.9,178.2 L276.4,177.2 L277.5,176.4 M350.6,186.9 L351.1,188.0 L351.2,190.1 L350.5,191.7 L350.6,193.2 M323.3,172.3 L323.5,173.7 L324.2,175.7 L325.1,175.7 L326.6,176.5 L329.1,177.1 L331.3,176.8 L332.2,177.2 L334.3,177.4 M327.1,176.7 L327.6,178.6 L328.2,180.6 L327.0,182.2 L326.7,184.5 L327.5,186.3 L327.7,187.5 M351.2,185.6 L352.2,184.9 L354.6,185.0 L355.4,185.4 L356.7,185.1 L359.0,184.6 L360.2,183.9 L361.7,184.3 L363.3,184.0 L364.1,183.4 L366.3,182.7 L367.3,182.2 L369.3,180.6 L368.2,179.7 L367.8,177.7 L368.1,177.1 L368.3,175.5 M367.7,182.5 L369.6,185.0 L370.2,187.5 M368.3,174.2 L369.5,175.4 L371.0,177.2 L372.3,177.1 L373.5,177.8 L374.7,178.9 L376.1,179.0 L378.3,179.4 L379.8,180.2 L380.5,181.0 L379.5,182.5 L379.2,183.4 L378.5,184.7 M337.2,164.7 L339.4,165.0 L340.9,165.1 L343.3,166.3 L345.3,166.3 L346.0,167.7 L347.5,168.8 L349.5,169.6 L350.5,171.2 L349.3,172.2 L348.9,173.7 L347.8,174.1 L346.5,175.2 L346.6,177.2 L347.5,179.1 L348.4,180.0 L349.3,180.6 L351.0,181.8 L351.6,183.7 L351.2,185.6 M344.8,166.6 L345.3,165.2 L346.4,164.2 L348.3,163.4 L350.3,163.0 L351.1,162.0 L353.1,162.1 M355.0,175.2 L357.1,176.1 L359.0,176.7 L359.8,176.9 L362.1,177.3 L362.8,177.0 L365.1,177.6 L365.9,178.0 L367.7,178.0 M359.4,161.5 L359.6,163.5 L359.0,165.0 L359.3,165.9 L361.0,167.1 L361.5,168.4 L363.3,168.4 L364.3,169.8 M364.8,167.6 L366.1,168.1 L368.8,168.6 L370.0,169.4 L370.9,170.7 L370.1,171.9 L369.6,173.1 L368.3,174.2 M336.6,175.5 L338.6,175.9 L340.8,176.4 L341.9,177.1 L344.2,177.8 L345.8,177.6 L347.4,178.6" fill="none" stroke="#929292" stroke-width="0.46"/>
<path d="M446.6,86.0 L448.9,85.1 L450.6,84.9 L452.1,83.9 L453.5,83.9 L455.5,83.1 L456.5,83.1 L458.7,82.2 L460.1,82.4 L462.0,81.7 L463.2,81.4 L464.5,80.7 L466.1,80.8 L467.9,80.4 L469.5,80.0 L470.8,79.2 L473.2,79.1 L474.0,79.0 L476.2,78.2 L477.6,78.0 L479.1,77.3 L479.5,77.2 L481.0,75.7 L483.1,74.7 L484.5,75.6 L485.8,76.7 L486.9,77.9 L487.6,78.0 L488.7,77.5 L489.8,76.9 L490.7,75.6 L491.0,73.7 L490.8,71.6 L490.0,70.6 L489.1,69.8 L487.6,68.2 L486.4,67.4 L485.6,65.3 L484.6,63.5 L486.3,63.0 L487.0,61.4 M446.6,86.0 L447.5,87.2 L448.7,89.0 L450.5,91.1 L451.6,91.9 L452.8,94.1 L453.8,96.0 L454.9,96.4 L457.1,98.3 L458.6,98.9 L460.1,100.5 L461.3,101.3 L463.0,102.3 L464.8,103.6 L466.2,104.7 L468.1,105.6 L469.8,106.7 L470.7,108.4 L472.5,109.4 L474.3,110.6 L474.8,111.4 L476.7,111.9 L479.4,111.8 L481.0,111.0 L483.4,110.6 L485.2,109.7 L486.8,109.1 L488.3,108.6 L488.8,107.9 L490.0,106.6 L492.6,105.8 M441.0,127.8 L442.4,127.6 L444.0,127.1 L446.0,126.6 L447.3,126.6 L448.9,126.2 L450.5,126.0 L453.0,125.8 L454.6,126.4 L455.6,127.2 L457.3,128.2 L458.7,128.3 L460.2,128.7 L460.5,127.1 L461.6,125.9 L461.1,124.3 L459.7,122.7 L459.1,122.6 L457.6,121.6 L456.7,120.6 L456.1,119.1 M441.0,136.5 L443.2,135.6 L444.6,135.6 L445.9,135.5 L447.5,134.7 L448.4,136.0 L449.0,137.0 L450.9,138.3 L452.4,139.4 L454.0,140.7 L455.2,140.3 L456.8,141.4 L458.2,141.6 L459.7,141.8 L461.8,142.0 L463.4,142.0 L465.1,142.3 L466.8,143.3 L468.6,143.2 L469.9,143.3 L472.2,143.7 L474.2,143.5 L475.6,144.3 L477.6,144.2 L479.0,143.9 L481.0,144.7 L483.4,144.2 L485.4,143.6 L487.1,144.1 L488.5,143.8 L490.3,142.7 L491.8,142.9 M467.2,145.2 L467.8,146.4 L468.6,147.8 L468.1,149.5 L467.8,150.4 L468.7,151.6 L469.3,153.4 L470.4,155.1 M472.0,159.5 L473.6,159.2 L474.7,159.0 L476.4,158.9 L478.4,158.4 L480.6,157.8 L482.4,156.8 L483.6,156.8 L484.9,157.5 L486.6,157.9 L487.5,158.0 L489.8,158.4 L491.0,158.8 L492.6,158.7 M141.0,214.0 L143.1,213.9 L144.6,212.8 L146.6,213.3 L148.1,213.2 L150.0,213.6 L151.6,214.6 L152.9,213.2 L154.6,212.5 L156.0,211.8 L158.1,211.7 L159.1,211.5 L161.0,212.4 L162.7,211.5 L163.9,211.4 L164.6,212.9 L164.9,215.2 L166.2,215.2 L166.8,216.0 L169.0,217.0 L170.4,217.5 M241.0,191.0 L242.5,192.5 L243.9,193.8 L245.7,194.5 L247.1,195.1 L248.8,195.4 L250.2,195.9 L252.5,196.4 L254.1,196.8 L255.6,197.4 L257.1,197.1 L258.2,197.7 L259.6,197.9 L262.0,198.9 L263.1,199.2 L265.1,199.7 L266.7,199.8 L267.6,200.3 L269.4,200.5 L271.0,200.7 L273.2,200.7 L274.4,201.3 L276.0,201.7 L277.4,201.8 L279.3,202.0 L280.3,201.6 L282.1,202.5 L283.4,202.1 L285.6,203.0 L286.7,202.8 L288.8,203.3 L290.4,203.6 L291.6,203.5 L293.0,204.1 L294.7,204.0 L297.0,204.7 L298.2,204.9 L299.8,205.3 L301.1,205.0 L302.5,205.3 L304.4,205.7 L305.7,205.8 L308.1,205.7 L309.1,205.5 L311.6,204.5 M397.3,206.9 L398.6,207.6 L400.6,208.3 L401.4,209.4 L402.5,210.6 L403.5,212.4 L404.5,214.0 M160.0,225.9 L160.8,227.2 L160.9,229.1 L161.2,230.3 L160.9,232.3 L160.5,234.3 L160.2,236.2 L160.8,238.0 L160.2,240.2 L159.8,241.9 L159.3,243.9 L159.3,245.6 M150.5,247.7 L151.7,249.2 L153.1,250.6 L154.1,252.3 L155.5,254.2 L156.7,255.6 L157.4,257.6 L158.5,258.8 M153.7,262.5 L154.5,264.1 L155.1,265.9 L156.7,267.8 L157.7,269.3 L156.6,270.7 L156.0,272.1 L154.4,273.7 L153.1,274.4 L151.5,276.1 L150.5,277.1 M390.7,126.0 L392.2,123.8 L393.7,124.5 L394.9,124.7 L395.6,125.1 L397.1,125.1 M409.8,129.2 L411.2,129.0 L412.1,128.9 L413.8,129.1 L414.5,129.8 L415.9,130.4 L416.5,132.2 L417.8,131.7 L419.1,130.7 L420.2,130.2 L421.4,128.2 L423.0,128.5 L424.3,128.3 L426.0,128.1 L427.7,128.2 L428.6,129.5 L430.1,129.8 M430.1,129.8 L432.0,129.5 L434.1,129.2 L435.3,128.8 L436.4,128.2 L437.9,128.4 L440.6,127.4 L441.8,127.0 L443.9,126.4 L446.1,125.7 L447.4,125.3 L448.5,125.4 M456.1,119.0 L458.0,119.7 L459.5,120.6 L460.0,121.5 L461.1,122.5 L461.8,124.6 L461.8,126.1 L461.2,126.9 L459.8,128.7 L458.7,127.9 L457.2,127.0 L455.9,126.5 L454.6,126.4 L453.0,125.5 L451.0,125.0 L448.5,125.4 M408.5,134.9 L409.3,135.5 L410.4,137.2 L412.5,137.0 L414.0,137.8 L415.7,137.4 L418.3,136.4 L420.0,136.3 L421.1,135.5 L423.2,136.8 L422.8,138.4 L421.7,138.9 L420.8,140.4 L419.4,140.9 L417.6,142.3 L416.6,142.5 L416.2,143.2 L415.0,144.0 L415.8,145.6 L416.4,146.6 L415.9,147.9 L414.5,147.4 L413.1,146.4 L412.0,146.0 L410.5,145.2 L408.2,143.7 L406.4,145.4 L405.6,144.6 L404.5,144.0 L403.0,145.6 L402.4,147.4 L402.0,148.5 L401.8,150.2 L401.3,151.4 L400.8,153.1 L398.8,153.3 L397.0,151.7 L395.8,150.9 L395.4,149.7 L393.5,149.4 L392.3,148.6 L391.3,147.4 L390.4,146.1 L390.7,143.8 M423.1,136.8 L424.9,137.4 L426.8,137.4 L428.7,137.3 L430.5,137.5 L432.3,136.5 L434.6,136.4 L436.6,136.0 L438.5,136.1 L440.2,135.8 L441.2,135.6 L442.8,135.4 L444.8,135.3 L446.8,135.1 L448.5,136.9 L449.3,138.2 L449.7,139.0 L451.3,139.7 L453.3,140.3 L455.2,140.7 L456.9,140.8 L457.8,141.0 L459.2,141.6 L461.0,141.5 L462.7,142.1 L463.7,142.3 L465.0,142.5 M390.7,143.8 L390.2,145.0 L389.1,146.2 L387.9,147.5 L386.4,149.1 L385.0,150.5 M385.0,128.6 L383.3,129.2 L381.1,129.1 L379.3,128.5 L377.1,127.8 L375.6,128.6 L374.0,129.4 L372.3,128.7 L370.4,127.7 M367.2,49.5 L368.7,50.7 L369.2,53.1 L370.3,54.4 L370.5,55.8 L369.1,56.7 L368.0,58.0 L366.1,59.4 L364.9,60.2 L363.4,61.1 L362.2,62.5 L360.8,62.9 L359.8,63.1 L358.1,63.8 L358.0,65.4 L357.1,66.1 L356.7,68.0 L356.6,69.9 L356.5,71.3 L355.9,73.3 L354.1,74.9 L355.4,76.1 L355.6,77.5 L356.1,78.5 L357.2,80.3 L357.5,81.3 L358.2,83.2 L358.2,84.0 L357.5,85.5 L356.6,86.4 L355.8,87.6 L354.3,88.5 L352.5,89.7 L351.9,91.7 L351.0,93.3 L351.3,94.0 L352.5,95.8 L353.2,96.7 L352.0,98.7 L350.3,100.2 L351.5,101.2 L352.9,102.1 L354.5,102.7 M326.7,69.3 L328.0,69.3 L330.0,69.1 L332.3,68.4 L334.0,68.1 L336.2,68.7 L338.1,68.6 L339.2,68.8 L341.4,68.7 L342.4,68.5 L344.3,68.2 L346.0,67.6 L347.3,67.5 L349.1,67.6 L350.9,67.5 L351.7,68.2 L353.3,68.4 L354.9,68.3 L356.9,67.8 M310.8,70.5 L311.2,71.4 L312.3,73.2 L313.4,73.6 L314.9,74.5 L316.0,74.9 L317.2,75.6 L318.9,75.9 L320.5,77.2 L322.2,77.3 L323.4,77.4 L325.2,78.3 L327.9,79.2 L328.4,79.9 L330.2,80.4 L331.4,81.4 L332.1,82.8 L334.5,83.2 L336.1,84.0 L337.7,84.3 L339.2,85.2 L340.8,86.3 L341.9,87.6 L343.7,87.2 L345.6,87.6 L347.8,88.1 L348.5,87.3 L350.2,87.1 L351.3,87.6 L352.1,89.2" fill="none" stroke="#888" stroke-width="0.48"/>
<path d="M208.5,52.4 L210.5,53.7 L213.2,53.0 L215.4,51.7 L216.5,50.9 L218.1,50.1 L219.5,49.6 L220.9,49.3 L222.5,50.0 L224.2,50.1 L226.5,52.1 L228.5,54.4 L228.8,55.5 L229.4,57.1 L230.2,59.3 L229.4,61.8 L227.7,63.8 M233.1,62.8 L234.9,64.9 L236.9,66.1 L239.3,65.3 L241.0,64.9 M241.0,64.9 L242.8,63.8 L244.7,65.1 L246.4,66.9 L248.5,67.1 L250.5,66.5 L252.4,67.6 L254.7,68.7 L257.0,70.1 L259.5,69.4 L261.8,68.3 L263.4,68.5 L265.0,68.6 L266.3,68.4 L268.2,68.6 L269.6,68.6 L271.2,68.5 M325.1,61.4 L327.2,60.9 L329.0,60.5 L331.2,60.2 L332.9,60.4 L334.9,60.2 L336.8,60.6 L338.9,60.7 L341.0,60.3 M325.9,63.8 L328.1,63.7 L329.7,62.7 L332.0,63.2 L334.8,63.4 L336.1,63.7 L337.9,64.2 L339.6,64.5 L341.0,64.6 M328.3,70.1 L329.0,71.3 L329.8,72.9 L328.2,73.9 L326.9,74.7 L325.0,75.4 L323.3,76.4 L322.0,76.6 L320.3,77.6 L318.8,77.9 L317.4,79.0 L316.3,79.8 L314.8,81.4 L315.8,83.9 L316.6,85.6 L314.1,87.1 L313.0,89.2 L312.4,91.1 M266.4,97.1 L268.6,97.7 L270.6,98.4 L271.8,98.9 L273.8,98.8 L275.2,99.6 L276.5,99.9 L278.1,100.4 L279.7,101.1 L281.6,101.7 L282.8,102.6 L284.8,103.3 L286.1,104.1 L288.0,104.8 L289.2,105.1 L290.9,105.9 L292.7,106.1 L294.0,107.0 L295.7,107.3 L297.2,108.3 L298.8,108.6 L301.3,109.5 M300.0,109.6 L301.5,108.9 L303.4,108.6 L305.1,107.6 L307.3,107.0 L308.9,106.9 L311.1,106.3 L313.1,105.9 L315.1,104.9 L316.8,105.0 L319.2,105.1 L320.8,105.1 L323.0,105.2 L324.8,105.5 L327.0,106.4 L328.4,106.9 L330.4,108.0 L331.6,108.4 L333.6,109.9 L335.0,110.1 L336.8,111.1 L338.2,112.2 L339.6,112.9 L340.5,114.2 L341.3,115.8 L342.3,118.1 L343.1,120.6 L345.3,122.6 M300.0,109.6 L301.6,110.7 L303.0,111.8 L304.9,113.2 L306.1,114.1 L308.1,114.3 L309.8,114.9 L311.2,115.6 L312.8,115.8 L314.3,118.4 L315.2,120.0 L316.2,121.5 L316.7,123.2 L317.8,124.5 L318.6,126.4 L319.1,127.7 L319.5,129.2 L319.7,131.0 L321.2,133.4 L322.7,134.2 L323.9,135.5 M309.6,115.2 L311.6,114.3 L313.7,114.2 L315.5,113.3 L317.5,113.0 L319.8,112.9 L321.7,113.4 L323.2,113.9 L324.5,114.6 L326.0,115.8 L327.6,116.5 L328.6,118.2 L329.2,119.0 L330.6,120.3 L331.7,121.8 L332.6,123.3 L333.4,125.4 L334.2,126.4 L335.3,127.8 M329.4,71.5 L328.2,72.6 L326.8,73.7 L324.8,74.9 L323.2,75.7 L321.3,76.7 L319.7,77.6 L318.4,78.6 L316.9,79.8 L315.6,81.0 L314.1,82.1 L315.7,84.5 L314.8,85.6 L313.8,87.1 L312.3,89.4 L312.7,90.5 M354.8,71.5 L353.6,72.5 L352.6,73.6 L351.7,75.3 L350.6,77.3 L349.9,78.7 L349.1,79.9 L347.0,80.8 L345.4,81.8 L343.3,82.6 L341.1,82.8 L339.7,83.1 L337.5,83.8 L336.6,86.5 L335.8,88.2 L335.0,89.6 L334.7,92.1 L335.4,93.6 L336.4,94.3 L337.7,95.8 L339.6,97.1 L340.7,98.2 L341.8,99.8 L343.2,101.3 L344.3,102.9 L345.4,104.7 L345.9,106.3 L346.8,107.7 L347.9,109.1 L348.8,110.8 L349.8,112.0 L350.7,113.3 L350.7,115.2 L349.9,117.8 M378.6,85.8 L376.2,87.5 L374.8,88.1 L372.9,89.2 L371.2,90.5 L370.1,91.5 L368.0,92.6 L366.9,93.4 L365.3,94.2 L363.4,94.8 L361.8,95.7 L360.3,97.0 L359.5,98.3 L358.6,99.1 L357.9,100.8 L357.4,102.5 L356.7,104.1 L356.7,105.5 L355.8,106.9 L354.7,108.6 L353.4,111.1 L355.8,111.9 L358.2,113.5 L359.0,115.0 L360.4,116.1 L361.7,117.4 L362.7,118.5 L364.1,119.6 L365.1,120.5 L366.6,120.8 L368.0,121.5 M341.0,60.6 L342.7,60.2 L345.1,60.1 L346.8,60.4 L348.6,60.5 L350.8,60.9 L352.8,60.8 L354.8,60.6 L356.3,60.4 L356.6,58.8 L357.6,57.6 L357.2,56.0 L356.9,54.1 L355.9,52.8 L354.7,51.7 L352.9,50.3 M341.0,64.6 L343.1,64.2 L345.9,64.4 L347.8,63.8 L350.5,63.6 L352.3,63.0 L354.5,62.5 M352.9,61.4 L354.8,62.2 L356.7,62.8 L358.7,63.1 L361.0,64.1 L361.8,65.2 L363.0,66.3 L364.1,67.7 L364.9,68.8 L365.4,70.2 L366.3,71.5 L367.3,72.9 L367.8,74.4 L369.3,75.9 L370.0,77.5 L370.8,78.4 L372.0,79.8 L373.3,80.9 L374.2,81.9 L375.3,83.3 L376.8,84.2 L378.4,85.7 L380.1,87.6 L381.7,89.5 L384.9,90.3 L386.1,90.7 L387.9,91.3 L390.0,91.4 L390.8,93.8 L391.3,95.3 L391.4,96.9 L392.1,98.8 L391.9,100.6 L391.6,101.8 L391.8,103.6 L390.6,105.0 L389.2,106.7 L387.6,107.9 L386.2,109.2 L384.6,110.8 L383.2,111.7 L381.5,113.5 M390.2,91.6 L392.7,90.0 L394.0,89.6 L395.7,89.3 L397.6,89.3 L399.0,89.6 L401.3,90.9 L402.2,92.7 L403.1,94.1 L405.5,94.8 L407.8,93.1 L409.1,91.2 L411.4,90.4 L413.4,92.5 L414.9,94.6 L416.4,95.5 L418.1,93.1 L418.9,92.1 L419.4,90.5 L422.1,89.9 L424.3,91.4 L426.4,90.5 L427.7,89.6 L429.4,88.4 L430.4,88.0 L432.3,87.7 L433.9,88.1 L435.6,88.4 L436.6,89.7 L437.7,90.6 L440.2,92.0 M357.7,64.6 L357.2,66.3 L356.6,68.0 L355.6,69.1 L354.4,70.9 L353.2,72.1 L352.4,73.4 L351.8,74.8 L351.2,76.6 L350.8,77.9 L349.6,79.5 L348.1,80.3 L346.3,81.7 L345.2,82.1 L343.4,82.6 L341.0,83.2 M373.5,50.3 L373.8,52.2 L374.2,53.6 L375.7,55.2 L376.7,56.5 L378.3,57.8 L380.1,59.3 L382.1,60.0 L383.8,60.8 L385.8,61.2 L387.5,62.0 L389.7,62.3 L391.7,63.0 L393.7,62.8 L395.9,62.4 L396.6,61.4 M403.2,49.5 L402.5,51.3 L401.1,52.9 L400.4,54.4 L398.7,56.0 L397.9,56.8 L400.2,58.0 L402.2,57.8 L403.5,58.0 L404.7,59.4 L406.0,60.1 L407.1,63.2 L405.6,65.6 L407.7,67.1 L409.4,68.0 L411.0,68.8 L412.2,69.9 L414.0,71.1 L415.6,72.2 L417.2,72.9 L419.4,73.9 L418.0,75.4 L416.6,76.5 L415.3,77.8 L418.0,79.1 L419.3,80.1 L421.1,81.0 L422.4,82.1 L423.5,82.8 L425.4,83.2 L426.8,84.2 L429.6,83.6 M440.2,56.6 L441.0,59.0 M421.2,113.0 L422.5,112.1 L424.4,111.3 L426.2,110.7 L428.3,109.8 L430.9,109.3 L433.2,109.4 L435.3,109.6 L437.7,109.5 L439.4,109.4 L441.0,109.0 M378.6,85.7 L375.7,86.8 L373.5,88.4 L372.5,89.5 L371.4,90.7 L368.8,92.4 M441.0,57.4 L443.4,55.7 L445.0,53.8 L445.5,52.1 L445.8,50.3 M441.0,59.8 L442.5,60.5 L444.1,61.5 L446.2,62.1 L447.9,62.6 L450.4,62.5 L451.8,62.4 L453.8,62.6 L456.3,63.1 L457.8,64.4 L459.5,65.4 L460.9,66.9 L462.5,68.3 L464.1,69.4 L465.7,70.9 L467.3,71.9 L468.6,73.0 L470.9,74.4 L472.8,74.8 L474.9,75.7 L476.8,76.0 L477.9,76.9 L479.3,77.7 L477.9,80.2 L476.4,82.1 L478.0,83.9 L480.9,85.3 L482.5,86.8 L483.6,87.1 L485.5,87.9 L487.3,87.8 L488.6,87.8 L490.7,87.9 L492.6,88.1 M482.3,86.8 L481.7,88.1 L481.2,90.1 L480.9,91.8 L480.4,93.4 L478.9,95.2 L478.4,98.2 L479.2,99.6 L479.6,101.3 L481.0,102.5 L482.1,103.2 L482.3,105.2 L482.6,106.9 L481.9,108.4 L481.6,109.2 L479.9,111.4 M481.5,49.5 L483.6,51.2 L486.0,51.0 L487.7,51.5 L490.0,51.5 L492.6,51.1 M483.9,51.1 L484.2,52.4 L484.6,54.3 L484.1,56.7 L485.0,58.0 L486.2,59.1 L487.9,59.4 L489.3,60.0 L491.3,60.0 L492.6,59.8 M439.4,109.0 L441.0,108.1 L442.3,107.6 L444.3,106.5 L446.1,105.9 L448.4,105.6 L450.2,105.5 L452.1,106.1 L454.0,106.5 L456.1,107.2 L457.9,107.6 L459.0,108.4 L460.8,109.6 L462.6,110.8 L464.1,111.6 L466.6,112.4 L468.4,112.5 L470.4,113.0 M468.8,105.8 L471.0,106.8 L472.9,107.7 L474.6,108.2 L476.7,109.7 L478.1,110.6 L479.9,111.4 M236.6,133.1 L241.0,132.0 M241.0,132.2 L242.6,131.4 L244.3,130.6 L246.1,130.3 L248.1,130.1 L250.2,129.6 L251.9,129.3 L254.0,129.6 L256.1,129.9 L257.9,130.2 L259.2,130.7 L261.1,131.1 L262.4,131.9 L263.8,132.2 L265.9,133.1 L267.2,132.3 L269.0,132.3 L271.0,131.9 L273.0,130.9 L274.5,130.3 L276.7,129.9 L278.5,129.0 L280.8,128.6 L282.2,128.1 L283.9,126.7 L286.2,125.6 L288.5,123.9 L289.9,123.1 L292.0,122.8 L293.9,122.4 L295.8,122.6 L297.6,123.0 L299.7,123.6 L301.4,124.1 L302.7,124.7 L304.3,125.7 L305.0,126.8 L306.3,128.4 L307.4,129.6 L307.9,130.7 L309.1,132.4 L309.4,134.0 L309.4,135.6 L309.8,137.6 L310.6,138.8 L311.4,140.0 L312.2,141.5 L314.1,143.9 L314.4,145.3 L314.7,146.6 L315.5,149.0 L315.5,151.0 L314.2,153.1 L312.5,155.8 L312.8,157.4 L313.1,158.7 L314.1,160.2 L314.7,162.1 L315.8,163.4 L316.7,164.4 L317.7,165.9 L319.1,167.3 L320.0,168.4 L321.2,169.8 L322.1,170.8 L323.0,172.4 L323.5,174.6 M266.4,132.9 L267.9,133.3 L269.4,134.0 L270.6,135.0 L272.1,136.4 L272.1,138.2 L272.5,139.6 L273.3,141.1 L273.5,143.1 L274.1,144.2 L274.2,146.2 L274.4,147.9 L274.5,149.5 L274.0,151.4 L276.7,152.6 L278.8,152.9 L280.9,153.2 L282.6,153.0 L284.7,153.0 L286.5,153.6 L287.8,154.5 L289.3,155.2 L290.9,155.7 L293.4,156.0 M255.3,167.5 L256.9,167.8 L258.4,168.0 L260.3,168.7 L262.3,168.8 L264.2,168.9 L266.3,169.1 L268.3,168.8 L270.3,168.9 L272.1,169.2 L274.2,169.0 L277.0,169.2 L279.3,169.3 L281.3,168.5 L283.6,168.4 L285.9,167.6 L287.8,167.2 L289.5,166.2 L291.2,165.5 L292.7,164.3 L293.9,163.7 L295.9,162.4 L297.1,160.8 L298.5,160.0 L299.9,159.1 L301.8,157.0 L304.5,156.7 M255.3,167.5 L256.6,168.5 L257.9,169.9 L259.4,170.7 L260.8,172.0 L262.3,172.4 L264.2,173.7 L265.5,174.3 L267.4,175.8 L268.5,177.3 L270.4,179.8 M340.2,137.3 L338.9,139.1 L338.0,140.7 L337.7,142.2 L337.1,144.4 L336.8,146.6 L336.1,148.2 L336.5,150.8 L336.5,153.3 L336.8,155.8 L337.1,157.9 L337.0,160.4 L337.5,162.7 L337.5,164.9 L337.2,167.2 L336.8,170.0 L336.1,172.3 L336.1,174.7 L335.4,177.0 M336.2,154.0 L338.6,154.5 L341.0,154.0 M314.0,176.2 L316.4,175.7 L318.5,177.0 M381.5,113.5 L381.0,115.3 L380.6,116.5 L379.6,118.6 L379.1,120.6 L378.5,122.4 L378.2,124.6 L379.1,127.7 L380.7,127.8 L382.5,127.5 L384.4,127.0 L386.3,127.1 L388.1,126.6 L390.5,126.2 L392.3,125.7 L394.1,125.6 L395.5,125.0 L397.5,124.9 L399.5,124.7 L401.2,125.3 L402.9,125.9 L404.5,126.5 L406.2,127.1 L408.7,128.1 L409.3,129.6 L409.1,130.7 L409.0,132.4 L408.7,134.2 L408.3,135.8 L407.4,137.6 L406.1,138.0 L404.4,138.6 L402.5,139.7 L400.6,140.3 L398.7,140.5 L396.8,141.4 L394.7,142.0 L393.3,142.2 L391.3,143.4 L389.2,143.7 L387.2,144.2 L384.9,145.2 L382.8,146.1 L380.9,146.5 L379.2,147.1 L377.3,147.7 L375.4,148.1 L373.8,148.6 L371.8,148.9 L370.7,147.9 L369.7,147.0 L368.0,144.9 M356.9,146.8 L355.6,147.6 L354.5,149.0 L352.6,150.5 L351.1,153.4 L349.8,155.5 L347.3,154.2 L345.2,153.1 L342.8,153.6 L340.7,153.9 L338.6,154.5 M378.8,127.5 L376.8,128.3 L375.2,128.3 L373.3,129.3 L371.9,130.2 L370.3,130.3 L368.5,130.7 L366.3,128.8 L364.8,129.7 L362.9,129.5 L361.3,130.3 L359.1,131.3 L357.1,132.0 L355.3,132.8 L353.6,132.9 L351.4,134.0 L349.6,134.5 L347.4,135.0 L345.7,135.4 L344.4,136.3 L342.9,136.6 L340.9,137.2 L339.1,137.6 M372.0,130.2 L370.5,131.4 L368.9,132.5 L367.2,133.7 L365.3,134.8 L363.9,136.4 L362.4,137.2 L361.1,138.3 L360.0,139.5 L358.8,141.1 L358.1,142.0 L356.9,144.5 M375.1,113.5 L373.6,115.8 L371.8,118.0 L370.8,119.3 L370.0,120.7 L368.8,122.2 M387.0,120.2 L389.3,120.7 L391.3,121.5 L393.1,121.4 L395.8,122.0 L398.1,121.6 L400.5,121.3 L402.6,120.5 L405.5,119.7 L407.1,118.8 L409.1,118.1 L411.4,117.1 L413.2,116.2 L414.9,115.8 L416.5,114.6 L418.5,114.7 L420.4,114.0 M410.8,144.5 L412.3,143.0 L413.3,142.2 L414.7,140.6 L416.2,139.5 L418.1,138.3 L419.8,137.3 L420.8,136.4 L422.0,135.5 L424.4,133.7 L426.5,133.0 L428.4,132.7 L430.8,132.0 L433.2,132.0 L435.4,131.4 L437.8,131.5 L439.2,130.7 L441.0,130.6 M423.5,138.9 L424.7,140.2 L426.1,141.2 L427.8,141.5 L429.2,141.8 L430.4,141.7 L432.0,141.8 L433.1,142.9 L434.1,144.4 L433.2,145.8 L433.2,147.9 L432.2,148.9 L432.0,150.6 L431.5,152.4 L430.8,153.9 L429.3,156.3 L427.4,159.0 L425.7,160.5 L424.9,162.8 L425.2,164.5 L425.2,165.9 L424.8,167.5 M427.5,158.7 L429.8,160.6 L432.1,160.8 L433.7,161.0 L435.7,161.9 L437.7,162.5 L439.6,163.2 L441.0,163.5 M426.7,164.3 L429.0,164.7 L431.3,164.7 L433.7,165.3 L436.5,165.4 L438.0,166.4 L439.3,166.7 L441.0,167.5 M368.0,154.0 L370.0,154.4 L371.7,154.6 L374.0,154.6 L376.0,155.0 L377.7,155.2 L379.8,155.3 L382.2,157.0 L383.0,159.0 L383.4,160.0 L384.4,163.0 L386.3,163.4 L388.4,163.6 L390.4,163.5 L392.7,163.7 L394.5,164.5 L396.7,164.8 L398.8,164.3 L400.4,164.8 L402.6,164.3 L404.5,164.5 L406.8,164.4 L409.0,164.9 L411.5,165.1 L413.8,165.1 L416.2,165.4 L418.6,166.0 L420.6,166.7 L422.7,166.9 L424.7,167.5 L425.9,165.1 M393.4,153.2 L393.9,154.8 L394.9,156.4 L396.1,157.7 L397.5,159.6 L398.6,160.8 L399.8,162.2 L401.1,163.1 L402.1,164.0 M397.8,148.7 L399.7,146.7 L400.5,145.5 L398.9,144.4 L397.3,143.4 L395.3,142.6 L392.6,143.2 M381.5,162.7 L381.0,164.6 L380.2,166.0 L380.3,167.4 L380.0,169.0 L379.5,171.1 L379.2,172.9 L378.8,175.0 L378.3,177.0 M364.8,168.3 L363.1,170.7 L360.7,172.5 L359.2,173.2 L357.7,173.8 L355.1,175.2 L352.9,177.0 M441.0,130.6 L442.6,129.8 L444.1,129.7 L445.9,128.2 L447.3,127.2 L447.3,125.2 L447.1,123.7 L447.6,122.1 L448.1,120.5 L449.7,119.2 L451.1,118.3 L453.4,117.4 L456.2,116.9 L458.4,116.5 L461.0,116.1 L462.9,116.1 L464.6,115.4 L466.2,114.5 L467.2,113.5 M472.0,113.5 L473.5,114.2 L475.1,115.3 L477.6,115.9 L479.8,116.8 L482.5,117.0 L484.6,117.5 L486.9,117.5 L488.9,118.1 L490.5,117.8 L492.6,117.5 M468.0,133.8 L469.5,134.1 L471.3,134.9 L473.2,134.5 L475.4,134.3 L476.8,134.0 L479.1,133.8 L481.3,133.3 L483.0,133.1 L485.0,132.5 L487.0,132.4 L488.7,131.7 L490.1,130.7 L492.6,129.8 M448.9,137.0 L451.0,137.2 L453.1,137.5 L454.7,137.5 L456.6,138.3 L458.6,138.4 L461.0,139.3 L462.6,139.2 L464.9,138.9 L466.5,139.4 L468.7,139.7 L471.1,140.7 L473.0,141.1 L474.6,141.9 L476.4,142.8 L478.6,142.6 L480.6,142.7 L482.9,142.5 L484.7,142.0 L486.4,141.8 L488.8,141.9 L490.8,141.8 L492.6,142.1 M441.0,164.3 L442.8,163.9 L445.0,163.9 L446.5,163.7 L448.2,163.4 L450.5,164.3 M441.0,167.5 L443.6,166.9 L446.0,166.7 L447.5,166.6 L449.8,166.6 L451.4,167.0 L452.9,167.5 M141.0,207.2 L142.8,206.1 L144.7,205.2 L146.0,203.9 L146.8,202.3 L147.4,200.4 L148.2,198.8 L148.8,197.4 L149.6,195.9 L148.4,194.4 L151.0,193.1 L153.7,192.9 M187.0,197.3 L186.0,199.9 L184.8,201.2 L183.8,202.3 L182.7,203.7 L181.5,204.4 L179.9,206.9 L179.3,208.7 L179.4,210.2 L178.6,211.5 L177.8,213.0 L176.3,214.2 L175.1,215.7 L174.1,216.8 L172.7,217.8 L170.3,219.4 L168.6,220.7 L167.2,221.6 L165.4,222.7 L163.8,223.4 L162.5,224.8 L161.1,226.1 L159.5,225.9 L157.8,225.6 L155.8,224.7 L154.2,224.5 L152.6,224.2 L150.4,223.8 L148.3,224.2 L146.9,224.2 L144.3,224.4 L142.5,225.0 L141.0,225.1 M172.7,219.1 L174.9,219.3 L176.5,219.3 L178.5,220.0 L180.7,220.3 L182.9,220.0 L184.6,219.8 L186.4,218.8 L188.7,218.5 L190.4,217.8 L192.3,217.7 L194.7,217.4 L196.8,216.8 L198.7,216.6 L200.7,216.6 L202.3,215.7 L204.3,215.6 L206.0,215.5 L207.9,216.1 L209.2,216.1 L211.1,216.9 L212.6,217.3 L214.9,218.2 L216.8,218.6 L218.6,218.9 L221.0,219.0 L222.5,219.1 L224.5,218.4 L226.7,218.0 L228.4,216.5 L227.5,214.1 L226.1,213.5 L224.3,213.2 L222.8,212.9 L221.0,212.5 L219.1,211.6 M198.9,195.8 L200.6,196.5 L201.9,197.6 L203.8,197.6 L205.1,198.7 L206.7,198.1 L208.6,198.0 L210.1,198.5 L211.4,198.7 L213.5,199.7 L214.5,199.8 L216.2,200.8 L217.8,201.1 L219.8,201.9 L221.4,202.4 L222.5,202.8 L224.5,203.5 L226.6,204.2 L228.1,204.7 L230.1,205.1 L232.0,205.9 L234.5,207.0 L235.9,207.9 L237.9,208.8 L239.4,209.6 L241.0,210.8 M268.8,177.5 L270.8,178.3 L272.5,178.6 L274.5,179.4 L276.5,179.2 L278.3,179.7 L280.1,179.6 L281.3,182.1 L282.3,183.7 L283.0,185.4 L284.0,186.7 L284.9,187.7 L284.5,189.3 L283.6,191.2 L281.2,192.3 L279.8,193.2 L278.6,194.4 L276.7,194.6 L275.3,195.1 L272.8,195.8 L273.3,198.0 L275.2,200.1 L277.5,201.3 M279.9,179.9 L281.7,181.3 L283.3,182.1 L284.4,183.5 L286.3,184.0 L287.9,184.3 L289.3,184.6 L291.4,184.2 L293.1,183.7 L295.4,182.9 L297.5,182.4 L299.0,181.9 L301.4,181.6 L303.4,180.9 L305.6,180.8 L307.1,180.0 L309.5,179.2 L310.8,178.7 L312.4,177.5 M284.7,187.8 L285.7,189.2 L286.4,190.9 L287.1,192.7 L287.6,194.0 L288.1,195.6 L288.3,197.1 L290.2,199.7 L290.7,201.2 L292.1,202.6 L292.5,205.4 L291.0,205.3 L289.4,205.5 L287.5,205.7 L285.4,206.3 L284.8,208.7 L283.6,210.9 L281.6,212.7 L279.7,213.0 L278.2,213.1 L276.1,214.9 L274.9,216.1 L273.6,216.7 L272.1,218.0 L271.3,219.0 L268.5,220.4 L269.4,222.9 L271.7,223.4 L273.4,224.9 L273.0,226.7 L271.7,229.3 L273.5,230.7 M241.0,210.8 L242.9,211.4 L244.1,212.4 L245.7,213.3 L247.3,214.2 L248.7,215.1 L250.3,216.1 L252.2,217.5 L253.6,218.6 L255.4,219.5 L256.9,220.5 L258.7,221.3 L259.8,221.7 L261.8,222.3 L263.4,222.6 L265.0,222.1 L266.2,221.2 L268.8,220.7 M341.0,183.8 L339.2,183.6 L338.0,183.2 L335.3,182.0 L334.0,184.7 L332.1,186.8 L330.7,189.4 M333.9,184.6 L335.4,187.0 L336.2,189.9 M335.4,182.3 L334.7,179.9 L333.9,177.5 M341.0,184.6 L342.4,185.2 L344.1,186.0 L346.2,186.0 L348.1,185.6 L349.8,184.7 L351.1,183.9 L352.6,183.1 L353.6,181.4 L354.4,178.7 L353.7,177.5 M445.8,185.1 L446.7,186.3 L447.5,187.9 L448.3,189.4 L449.9,190.8 L451.2,192.4 L452.4,194.4 L452.1,196.1 L451.3,197.4 L450.7,199.1 L449.7,200.7 L448.6,202.4 L449.7,203.1 L451.0,204.3 L452.2,205.4 L453.7,206.9 L455.1,209.0 L454.3,210.6 L453.2,212.3 L452.1,213.4 L451.1,215.0 L449.3,215.6 M141.0,250.1 L142.8,249.0 L144.2,248.5 L145.9,247.8 L147.7,247.4 L149.5,246.4 L151.9,246.5 L153.5,246.9 L155.6,246.3 L157.9,246.1 L159.8,245.6 L161.9,245.1 L164.3,245.0 L166.7,244.7 L168.9,244.1 L171.4,243.7 L172.9,244.4 L175.3,244.6 L177.7,244.6 L179.9,245.2 L182.2,245.0 L183.7,244.6 L185.9,244.1 L187.6,243.5 L189.8,242.8 L191.7,241.7 L193.8,242.5 L195.8,242.7 L198.0,243.2 L200.0,244.0 L201.5,243.4 L204.0,242.9 L205.7,242.3 L207.4,241.6 L209.4,241.2 L211.7,240.9 L213.9,240.7 L215.5,240.5 L217.3,239.5 L219.0,238.7 L219.9,237.7 L221.0,236.9 L221.8,235.5 L222.5,233.6 L224.4,231.2 L225.9,230.3 L227.7,229.9 L229.6,229.7 L231.8,229.2 L233.6,228.6 L235.2,228.6 L238.4,229.6 L239.8,231.5 L239.1,233.9 M148.1,277.1 L148.2,275.1 L147.8,272.9 L148.4,271.1 L148.9,269.4 L150.0,267.2 L151.1,265.4 L152.4,264.0 L153.2,262.0 L154.8,260.8 L156.0,259.6 L157.8,258.7 L160.0,258.2 L162.6,257.9 L165.0,257.5 L166.9,257.8 L169.5,257.9 L172.1,257.2 L174.4,256.9 L176.7,256.2 L179.3,255.7 L180.9,255.0 L182.8,254.7 L185.2,253.3 L186.6,251.9 L187.8,251.1 L189.3,250.2 L191.4,252.3 L193.1,253.8 L194.1,254.6 L195.5,255.6 L197.6,256.8 L199.0,257.4 L200.7,258.0 L202.6,257.0 L204.6,256.6 L206.5,255.3 L208.6,254.5 L210.5,253.6 L212.7,252.9 L214.2,252.8 L216.2,252.2 L218.5,252.4 L220.3,251.5 L222.2,251.1 L223.8,251.0 L224.3,249.1 L224.6,247.7 L224.6,245.2 L225.7,242.9 L227.5,241.3 M179.9,277.4 L181.9,276.4 L184.0,275.8 L185.6,275.0 L187.3,274.7 L188.6,273.7 L191.0,273.0 L193.5,272.7 L195.4,272.6 L197.1,272.1 L199.5,271.3 L201.2,270.8 L203.4,271.6 L205.2,272.1 L207.2,272.4 L209.1,272.9 L211.2,272.6 L213.0,273.2 L215.3,272.6 L216.7,272.2 L218.1,270.7 L219.0,270.0 L220.9,268.5 L221.9,270.6 L220.4,272.3" fill="none" stroke="#0000ff" stroke-width="0.66" stroke-linejoin="round"/>
<path d="M141.0,63.8 L141.9,62.8 L143.3,62.1 L144.2,61.7 L144.8,61.5 L145.8,61.0 L146.9,60.2 L148.3,60.7 L149.1,59.8 L150.7,60.3 L152.2,59.5 L154.2,58.9 L155.1,58.8 L155.5,58.2 L156.7,58.5 L157.7,57.8 L159.4,57.0 L160.5,56.4 L161.2,56.3 L163.4,56.3 L164.6,56.3 L166.0,56.4 L167.5,57.3 L167.5,56.2 L168.3,55.4 L169.2,53.7 L170.1,52.3 L170.0,51.7 L170.3,50.3 L170.8,49.5 M203.2,49.5 L202.2,50.9 L202.4,52.0 L201.7,52.7 L200.7,54.0 L199.8,54.6 L199.3,55.9 L198.1,56.3 L196.6,56.9 L196.2,57.7 L195.3,57.5 L193.8,58.3 L192.4,58.6 L191.5,58.6 L190.3,59.7 L189.3,59.6 L188.5,60.7 L187.1,60.6 L186.6,61.3 L185.8,61.6 L184.2,61.8 L183.2,62.9 L184.3,63.8 L184.7,64.3 L186.0,65.0 L187.5,65.0 L188.1,65.3 L189.7,65.7 L191.5,66.0 L192.6,65.2 L194.0,64.4 L195.4,64.9 L196.5,65.1 L197.2,65.0 L198.1,65.6 L199.3,65.4 L200.6,65.9 L202.0,66.2 L202.6,66.5 L203.8,66.8 L204.7,67.7 L206.2,67.4 L207.0,68.2 L208.3,68.5 L210.0,69.8 L210.8,69.6 L211.9,69.5 L213.5,69.9 L215.4,69.6 L215.9,70.3 L217.6,69.0 L218.8,68.4 L220.0,68.6 L221.5,67.6 L222.1,66.7 L223.2,66.4 L224.8,65.7 L225.8,64.3 L227.3,64.4 L228.3,63.6 L229.3,62.8 L229.6,61.9 L231.0,60.5 L229.8,61.6 L229.2,62.8 L229.1,63.4 L228.2,64.6 L227.3,64.6 L225.6,65.1 L224.4,66.0 L223.7,67.7 L222.7,68.1 L221.3,69.2 L219.6,69.7 L219.2,70.4 L218.0,70.5 L216.3,71.3 L215.4,71.7 L214.5,71.6 L212.3,72.5 L211.1,71.7 L208.9,71.7 L208.1,72.6 L205.7,72.8 L205.0,72.9 L202.8,73.0 L201.6,73.1 L201.5,74.3 L200.2,75.3 L199.3,76.1 L198.9,76.2 L197.6,77.1 L196.8,78.2 L196.0,78.8 L194.8,80.1 L194.0,80.4 L193.1,81.7 L191.7,82.5 L190.6,82.7 L189.4,82.8 L188.2,83.7 L186.5,85.0 L185.5,85.5 L184.9,86.4 L183.3,86.8 L182.3,87.6 L180.7,87.7 L179.6,87.8 L179.1,88.2 L177.9,88.6 L177.9,89.1 L179.2,90.1 L180.3,90.0 L181.4,89.5 L183.0,88.8 L184.1,89.6 L185.1,89.7 L186.3,91.2 L187.4,89.6 L187.4,89.1 L188.2,88.3 L189.0,88.1 L190.7,88.0 L191.1,87.5 L192.6,86.4 L193.8,86.8 L194.3,86.5 L195.7,85.7 L197.4,85.8 L197.8,85.1 L199.3,84.8 L200.2,84.6 L201.9,84.7 L203.0,85.6 L204.0,86.6 L205.6,87.2 L206.0,88.1 L207.7,87.7 L208.1,86.6 L209.1,85.5 L209.7,83.8 L210.3,83.6 L212.0,81.5 L212.5,81.7 L214.1,81.1 L215.0,80.4 L217.1,80.7 L217.8,81.0 L219.7,80.8 L220.3,80.6 L221.5,80.3 L223.1,80.1 L224.4,80.9 L225.3,80.5 L226.7,81.0 L227.5,80.7 L228.6,80.6 L230.1,80.5 L231.7,80.2 L232.7,79.9 L233.7,79.5 L234.8,79.3 L236.5,79.7 L237.1,79.6 L239.1,79.3 L240.1,79.4 L241.0,79.2 M241.0,79.2 L241.8,78.0 L243.4,79.7 L244.7,78.6 L246.1,78.6 L247.7,79.9 L248.9,79.1 L250.3,78.9 L251.9,79.3 L253.4,79.4 L254.7,79.7 L255.7,79.0 L257.6,78.7 L258.7,79.0 L259.3,79.0 L261.5,78.7 L262.7,78.7 L263.4,78.2 L265.1,78.3 L266.7,78.1 L267.8,77.8 L269.2,77.3 L270.1,76.3 L271.3,76.3 L272.6,76.4 L274.4,75.8 L275.8,75.5 L277.0,74.5 L278.6,74.8 L279.4,74.2 L280.6,73.3 L281.7,73.1 L282.4,72.4 L284.4,71.7 L285.0,71.7 L285.4,70.3 L283.8,70.0 L282.5,69.9 L280.8,69.4 L278.7,69.6 L277.8,69.6 L276.0,69.1 L273.9,69.1 L273.3,69.1 L272.1,68.3 L271.2,67.8 M274.3,65.4 L275.5,64.7 L276.7,63.7 L278.7,64.3 L279.6,63.4 L279.8,62.2 L281.8,61.9 L282.5,62.0 L283.6,61.4 L284.8,60.2 L285.9,59.4 L287.7,57.9 L288.6,57.1 L289.2,56.4 L289.1,55.6 L289.9,53.8 L289.8,52.8 L290.6,51.2 L290.8,49.5 M242.3,78.4 L242.9,77.9 L244.0,78.1 L244.7,78.2 L246.6,77.9 L247.5,79.4 L246.4,79.3 L244.8,79.7 L244.4,79.7 L242.8,79.4Z M266.1,97.9 L265.4,96.6 L266.9,95.3 L267.3,94.5 L268.3,94.3 L269.0,93.7 L270.1,94.0 L271.7,93.0 L273.4,93.5 L274.3,92.3 L275.3,91.9 L276.8,91.5 L278.0,91.3 L279.7,91.6 L281.2,90.7 L282.2,90.5 L283.2,89.9 L283.9,89.4 L285.9,88.8 L286.6,88.5 L288.2,87.3 L287.6,85.8 L287.7,84.4 L288.1,83.2 L287.9,80.8 L287.4,80.0 L288.7,78.4 L289.3,76.9 L290.1,76.9 L291.6,76.5 L292.8,75.5 L293.0,75.0 L294.7,75.1 L296.5,74.7 L297.5,74.4 L298.6,73.8 L299.5,73.6 L301.1,73.4 L302.7,72.5 L303.3,72.1 L305.0,72.2 L305.7,71.3 L307.3,71.5 L308.3,70.8 L309.8,70.3 L310.6,70.4 L312.6,70.3 L313.9,69.9 L314.5,69.4 L316.5,69.3 L317.0,68.1 L318.0,67.5 L318.7,65.9 L320.1,65.8 L320.9,64.1 L322.2,63.9 L323.7,63.2 L324.6,62.4 L325.4,61.1 L326.9,60.4 L327.8,59.5 L328.0,59.3 L328.9,58.7 L329.9,57.1 L330.6,56.2 L332.0,55.5 L331.9,53.9 L332.4,53.4 L332.7,51.4 L333.0,50.6 L333.9,49.5 M317.2,68.5 L318.8,68.3 L319.8,67.8 L321.2,66.8 L321.6,67.1 L323.0,65.5 L323.7,65.3 L324.6,64.9 L325.6,64.2 L326.5,66.0 L326.0,66.3 L324.8,67.0 L323.2,68.1 L322.6,68.2 L320.7,68.7 L319.9,69.6 L318.3,68.7Z M320.4,69.5 L322.2,68.6 L323.1,68.9 L324.8,67.6 L325.5,67.2 L327.9,68.0 L328.2,69.6 L328.1,69.9 L327.3,70.3 L325.2,70.4 L323.9,69.8 L322.2,70.1 L322.0,69.8Z M321.2,65.4 L322.4,64.3 L322.5,64.1 L324.2,64.2 L324.7,63.2 L325.4,64.4 L324.9,64.4 L323.8,65.3 L322.7,65.5Z M341.0,53.5 L341.8,52.9 L342.7,52.5 L343.8,50.9 L345.2,51.6 L346.8,50.5 L347.9,50.1 L349.9,50.4 L351.1,51.3 L351.7,52.0 L351.0,53.2 L350.5,54.2 L348.8,55.1 L348.7,56.1 L347.0,56.3 L345.6,55.8 L345.1,56.2 L343.5,55.9 L342.3,54.3Z M191.3,113.7 L191.8,112.7 L193.2,112.0 L193.6,111.9 L194.8,112.0 L195.7,111.8 L197.2,111.5 L199.4,110.6 L200.8,110.3 L202.2,109.9 L203.9,110.9 L206.1,111.0 L206.3,109.9 L208.1,109.3 L209.0,109.1 L210.4,108.2 L211.5,108.0 L212.4,107.4 L214.7,107.7 L215.2,107.7 L217.1,107.6 L218.0,108.2 L218.8,109.5 L220.5,110.0 L221.1,110.9 L223.2,112.4 L224.0,111.8 L225.6,112.0 L226.9,111.7 L227.5,110.9 L229.2,111.5 L230.4,111.4 L231.7,111.4 L232.9,111.7 L233.8,110.3 L235.4,110.2 L236.5,110.3 L237.0,111.2 L238.4,110.8 L239.6,111.4 L240.4,111.1 L242.1,110.9 L241.3,109.7 L241.6,108.5 L240.7,107.0 L240.4,105.7 L239.5,104.4 L239.9,102.6 L238.8,101.5 L238.2,99.8 L238.0,98.8 L236.6,97.5 L236.1,97.0 L235.3,95.1 L237.5,94.7 L238.5,95.1 L240.6,95.0 L242.3,94.8 L244.1,95.7 L244.0,95.9 L245.3,97.1 L245.5,97.7 L246.0,98.8 L247.4,100.0 L248.1,100.3 L250.3,100.1 L252.0,101.1 L252.8,100.7 L254.6,100.9 L255.5,101.5 L257.2,101.0 L258.0,101.1 L259.5,101.8 L261.5,101.4 L263.1,101.1 L263.5,99.9 L265.6,99.6 L265.7,97.5 L266.7,96.3 M265.1,99.1 L266.8,98.7 L268.3,98.2 L269.6,98.5 L270.5,98.0 L272.3,98.2 M191.3,113.7 L192.0,115.0 L192.2,115.8 L193.1,116.5 L194.1,116.1 L195.0,116.5 L196.3,116.7 L197.3,117.2 L198.6,116.3 L197.7,117.3 L197.3,118.0 L195.5,118.6 L194.1,118.9 L194.2,119.5 L192.7,120.0 L194.1,120.1 L194.9,120.5 L196.3,121.2 L197.5,121.4 L198.0,123.3 L200.0,123.0 L200.9,122.6 L201.6,122.9 L202.9,123.0 L204.1,123.2 L204.9,123.3 L205.9,123.8 L207.1,124.1 L207.8,124.3 L209.7,124.5 L210.4,125.1 L211.2,126.0 L212.3,126.1 L213.2,125.7 L215.5,126.4 L216.3,126.6 L217.7,127.3 L218.4,127.1 L220.3,127.9 L221.1,127.8 L222.9,128.5 L224.4,129.2 L225.8,129.3 L226.6,130.1 L227.6,130.4 L228.3,131.4 L229.0,131.6 L230.2,131.7 L231.3,132.5 L232.6,133.1 L234.2,132.7 L235.6,133.3 L236.6,133.1 M231.0,133.1 L230.6,134.0 L229.8,135.1 L230.7,136.0 L230.9,137.3 L231.7,138.0 L232.9,139.5 L233.8,140.0 L234.7,140.8 L235.8,141.9 L237.4,142.2 L239.0,143.2 L240.1,144.5 L241.4,144.5 L242.0,145.9 L242.8,145.4 L244.6,146.3 L245.9,146.9 L246.4,147.6 L247.3,148.6 M241.0,145.2 L242.2,145.4 L242.9,145.9 L244.5,146.3 L245.6,146.8 L246.6,148.4 L246.8,149.0 L246.4,150.3 L246.2,151.4 L246.4,153.2 L247.0,154.0 L248.0,155.5 L249.0,156.6 L249.4,157.7 L250.6,158.7 L251.6,160.3 L251.7,160.9 L252.5,161.8 L252.7,162.8 L253.4,164.2 L254.3,164.9 L254.8,166.6 L255.6,167.8 M247.3,155.1 L246.6,156.2 L245.7,157.5 L246.4,159.8 L245.3,161.3 L246.1,162.5 L245.1,163.6 L245.2,164.6 L245.2,165.7 L245.4,167.6 L245.0,169.2 L244.9,169.8 L244.4,170.9 L244.1,172.8 L244.8,173.6 L244.1,175.2 L244.6,176.7 L243.8,177.8 L244.3,178.9 L243.7,179.5 L244.0,180.8 L243.4,182.6 L243.4,184.1 M239.5,146.7 L240.6,146.7 L241.6,145.7 L243.2,146.5 L244.6,146.9 L245.5,148.3 L243.9,147.9 L242.5,147.8 L242.0,147.3 L241.1,147.1Z M242.2,150.9 L243.5,150.8 L244.0,150.7 L245.2,151.7 L246.0,152.7 L246.7,154.7 L245.8,154.6 L244.5,154.2 L243.9,153.3 L242.4,152.0Z M356.9,146.0 L357.7,145.1 L359.5,144.9 L360.5,143.7 L361.5,143.5 L362.5,144.0 L363.6,144.1 L365.8,143.4 L366.6,144.2 L368.6,145.0 L369.3,146.5 M356.9,146.0 L357.9,145.0 L359.3,145.2 L361.0,144.7 L362.7,144.5 L364.2,143.9 L366.1,144.3 L367.1,145.1 L368.4,144.8 L369.3,146.5 M399.4,124.3 L400.9,124.2 L402.4,125.3 L403.0,125.0 L403.9,125.8 L405.7,126.3 L406.8,126.4 L407.2,127.5 L408.6,127.7 L409.6,129.1 M399.4,123.8 L401.2,123.9 L402.1,124.2 L403.2,124.8 L404.5,125.1 L405.9,125.3 L406.8,125.7 L408.3,126.9 L408.9,127.5 M393.4,153.2 L393.5,151.8 L393.6,151.6 L395.0,150.6 L395.4,149.4 L396.3,148.6 L397.8,148.4 M393.7,153.5 L395.3,151.0 L397.2,149.4 M423.5,157.9 L424.4,157.6 L424.9,156.5 L425.8,155.3 L426.7,154.0 L428.3,153.5 L428.7,154.0 L427.9,155.2 L427.2,156.3 L426.2,157.6 L425.1,158.3 L425.2,159.1Z M391.8,177.5 L393.4,176.5 L394.2,175.4 L395.5,174.9 L396.0,175.2 L397.3,174.8 L399.0,175.2 L400.4,174.5 L401.2,175.4 L402.7,175.1 L403.1,175.6 L404.1,176.1 L405.6,176.9 L406.1,177.5 M448.1,161.1 L448.6,160.3 L449.4,159.6 L450.8,158.9 L451.5,158.4 L452.6,157.6 L453.7,158.1 L455.0,157.8 L455.6,157.6 L457.7,157.2 L459.3,156.9 L460.0,156.4 L461.0,155.4 L462.0,155.0 L464.0,154.6 L466.0,154.0 L467.3,154.5 L468.9,155.4 L470.0,154.9 L470.6,155.7 L470.7,156.3 L469.7,158.1 L469.5,159.0 L469.1,160.3 L470.0,161.0 L470.8,162.6 L471.1,163.5 L471.7,165.3 L472.9,165.9 L473.4,167.1 L474.0,168.0 L475.0,169.5 L476.4,168.6 L476.7,167.5 L477.5,166.4 L478.1,164.7 L478.2,163.4 L479.4,162.2 L479.5,161.3 L480.0,161.8 L480.9,163.4 L480.9,163.9 L480.9,166.1 L480.9,167.2 L480.7,168.6 L480.2,169.8 L480.2,171.7 L481.1,172.4 L481.9,173.8 L483.1,173.8 L483.9,174.6 M448.1,161.1 L449.4,162.6 L449.5,163.8 L450.3,164.4 L451.3,165.6 L450.9,167.5 L450.7,168.5 L450.0,169.7 L450.0,170.8 L449.9,172.6 L449.2,173.4 L449.6,175.7 L449.6,177.1 L450.8,178.6 M481.5,161.1 L482.9,161.9 L483.1,162.2 L484.2,162.3 L485.8,163.4 L486.3,164.3 L486.9,164.8 L487.3,166.5 L488.0,167.0 L487.9,168.0 L487.2,169.0 L486.4,168.2 L485.1,166.9 L484.0,166.0 L483.2,164.4 L483.2,165.1 L481.7,166.3 L482.4,167.9 L482.5,169.1 L483.7,170.5 L484.3,171.6 L482.9,172.2 L481.8,170.7 L480.7,170.3 L481.0,168.9 L480.9,167.2 L480.8,166.2 L481.6,164.9 L481.2,164.0 L481.8,162.5Z M486.2,170.6 L487.0,171.6 L488.6,172.7 L489.4,173.6 L490.7,174.5 L491.2,176.0 L492.2,177.0 L490.1,177.5 L488.8,176.4 L488.5,175.1 L487.5,174.5 L487.1,173.7 L486.7,171.6Z M141.0,185.8 L142.1,185.0 L144.1,185.4 L144.6,184.7 L146.6,184.4 L148.0,185.4 L149.3,185.4 L150.5,186.0 L151.4,186.6 L152.9,187.2 L153.7,187.6 L154.4,188.3 L156.0,188.2 L156.9,187.8 L158.5,188.6 L160.1,188.1 L160.7,188.3 L162.8,188.0 L164.0,187.8 L164.9,187.5 L166.2,187.7 L168.2,188.1 L168.7,187.3 L170.8,187.0 L171.5,187.1 L172.6,186.7 L174.2,186.6 L175.9,186.8 L176.2,187.9 L177.5,188.2 L179.0,188.4 L180.0,188.0 L181.7,188.6 L182.9,189.0 L184.4,188.9 L185.3,189.8 L186.8,189.4 L188.2,189.5 L189.7,189.4 L191.1,190.2 L191.9,190.7 L193.1,190.3 L194.3,190.5 L196.3,190.5 L197.3,190.5 L198.3,189.7 L200.1,190.1 L201.5,189.6 L202.9,189.1 L204.4,189.3 L205.1,188.8 L206.9,188.9 L207.6,189.6 L209.3,189.4 L210.7,190.0 L211.5,189.6 L212.8,189.8 L214.5,190.4 L216.0,190.4 L217.1,190.6 L218.3,190.6 L220.1,190.4 L220.8,190.1 L222.7,190.0 L224.2,190.5 L225.4,190.5 L226.6,190.8 L227.4,190.9 L229.3,191.1 L230.2,190.7 L231.8,191.6 L232.8,191.2 L234.1,190.9 L235.9,191.6 L237.3,190.9 L238.3,189.9 L239.5,189.4 L239.7,189.1 L241.3,188.6 M243.4,177.5 L243.2,179.0 L242.8,180.8 L242.8,182.4 L242.7,183.6 L242.7,185.0 L242.2,185.8 L242.0,188.2 L241.0,188.9 M342.6,191.0 L340.7,189.8 L339.6,190.3 L338.8,190.5 L337.7,190.4 L336.7,190.8 L335.2,190.0 L333.9,189.7 L332.6,189.7 L330.9,188.9 L328.6,188.6 L327.9,188.3 L326.1,188.4 L325.0,188.3 L323.4,188.6 L323.2,189.3 L321.8,190.0 L320.4,190.0 L319.1,191.3 L318.1,192.0 L317.3,192.3 L316.0,192.9 L315.1,193.0 L314.3,193.2 L313.0,194.5 L312.2,194.8 L311.9,195.5 L310.5,196.3 L310.5,197.5 L310.5,198.6 L310.4,199.3 L310.5,201.1 L310.3,201.4 L310.8,202.5 L311.3,204.2 L311.5,204.6 L312.4,205.7 L313.1,207.3 L312.1,207.9 L311.5,209.2 L312.5,210.5 L312.0,211.3 L311.9,212.9 L311.2,214.5 L310.1,214.4 L309.2,215.6 L307.4,216.1 L307.0,216.6 L305.1,217.2 L304.9,217.9 L303.7,218.1 L302.3,218.9 L301.0,219.7 L300.1,219.7 L299.7,220.6 L297.8,220.7 L297.2,221.5 L295.6,221.9 L295.2,222.3 L293.6,222.6 L293.0,223.0 L291.4,223.5 L290.7,223.8 L289.0,223.7 L287.4,223.8 L285.2,224.6 L284.3,224.4 L282.0,224.7 L281.2,225.2 L279.8,226.2 L279.2,226.8 L277.8,227.4 L276.2,228.4 L275.7,228.9 L275.1,230.3 L274.3,232.0 L273.7,232.0 L273.1,232.8 L272.5,233.8 L270.9,235.1 L270.2,235.3 L269.4,236.6 L268.3,237.4 L267.6,238.8 L266.7,239.5 L266.2,240.4 L265.6,241.5 M341.0,190.2 L342.3,190.4 L343.5,191.2 L344.2,191.8 L345.5,192.4 L346.1,192.8 L347.3,192.9 L348.8,193.8 L349.8,194.6 L350.5,194.3 L352.0,194.7 L352.6,195.0 L354.8,195.8 L356.3,196.2 L358.0,195.8 L359.1,196.5 L360.0,195.9 L361.2,194.8 L362.8,194.0 L364.4,193.8 L364.8,192.3 L365.2,191.8 L366.4,190.9 L367.7,190.3 L368.8,189.2 L369.1,188.8 L370.6,188.2 L371.9,187.6 L372.6,187.3 L374.0,187.1 L374.7,186.2 L376.3,186.2 L377.4,185.0 L378.5,185.2 L379.7,184.2 L381.7,184.7 L382.2,183.9 L384.0,183.3 L384.5,183.1 L386.2,182.1 L386.6,181.4 L387.8,180.9 L389.0,179.2 L390.9,178.1 L391.8,177.5 M406.1,177.5 L406.7,177.6 L407.9,178.6 L409.6,178.8 L410.3,179.8 L411.8,179.8 L412.8,180.1 L414.8,180.5 L415.1,181.7 L416.8,182.3 L417.2,183.1 L418.1,183.2 L418.7,184.4 L419.6,185.2 L419.7,187.5 L420.2,188.8 L421.0,189.6 L421.7,191.2 L423.2,192.2 L423.5,193.7 L423.2,195.5 L424.2,196.0 L425.0,197.7 L426.7,198.2 L427.0,199.2 L428.8,200.4 L430.3,200.8 L431.4,202.3 L432.0,202.8 L433.3,203.7 L434.5,204.4 L435.6,205.8 L436.9,206.2 L438.6,206.7 L439.2,207.3 L441.0,207.7 M406.1,196.2 L407.7,197.8 L407.6,199.2 L407.7,200.3 L407.8,202.0 L408.3,203.3 L408.3,204.6 L408.9,205.7 L409.3,207.2 L409.5,208.1 L409.7,210.3 L409.2,211.3 L408.3,212.5 L408.5,213.2 L407.8,214.6 L407.7,215.7 L406.6,216.2 L405.8,217.3 L405.1,218.6 L404.8,219.8 L403.3,220.7 L403.1,220.1 L402.1,219.5 L401.2,219.2 L399.5,218.1 L398.9,217.2 L397.7,216.6 L398.7,215.7 L397.8,214.2 L396.6,214.3 L395.8,212.4 L396.5,212.2 L397.5,210.9 L396.0,210.5 L395.4,210.2 L393.8,208.9 L393.3,207.4 L393.3,206.3 L394.1,204.5 L395.0,204.0 L396.4,202.8 L397.1,202.3 L398.7,201.5 L399.8,201.9 L400.5,200.9 L402.3,201.2 L403.4,200.3 L405.1,200.0 L404.8,198.6 L405.0,197.5Z M403.7,221.2 L404.1,222.8 L405.8,223.6 L406.8,224.0 L408.1,225.2 L408.7,226.3 L409.1,227.1 L409.8,227.0 L410.4,229.1 L411.2,230.3 L411.1,231.4 L411.4,231.6 L411.6,233.1 M403.7,221.9 L403.0,223.0 L402.0,223.6 L401.1,224.1 L400.2,225.1 L399.2,225.5 L397.6,226.5 L397.3,227.5 L395.8,227.5 L395.0,228.0 L394.0,229.0 L392.6,228.9 L392.0,229.3 L390.8,228.9 L389.2,228.6 L389.6,226.8 L389.3,226.1 L388.2,224.7 L388.5,226.5 L387.5,227.5 L387.7,229.6 L387.2,230.9 L387.3,231.6 L387.8,233.1 M451.3,177.5 L452.6,178.2 L453.1,179.5 L454.6,179.4 L456.2,180.8 L457.0,181.4 L458.9,181.8 L459.7,182.4 L461.2,183.4 L462.7,184.3 L463.4,184.3 L465.4,185.4 L466.5,185.9 L467.3,186.9 L468.6,187.0 L469.3,187.4 L470.6,189.2 L470.4,189.8 L471.5,191.0 L471.9,192.6 L472.4,193.5 L473.5,194.8 L473.5,195.6 L473.8,197.1 L474.6,197.9 L474.7,199.0 L475.3,200.5 L476.0,200.8 L476.8,202.2 L477.7,203.0 L478.6,203.4 L479.7,204.8 L480.9,205.0 L481.8,205.8 L483.6,207.1 L484.8,208.1 L485.5,208.9 L486.1,209.6 L487.5,209.5 L488.9,210.9 L489.8,210.6 L491.6,211.8 L492.6,212.1 M487.8,178.3 L490.2,179.9 L491.8,181.5 M441.0,208.5 L442.3,209.7 L442.9,209.6 L443.8,210.4 L445.2,211.8 L445.4,212.1 L446.5,213.5 L448.1,214.8 L448.8,215.8 L449.9,216.1 L450.8,216.8 L452.6,218.5 L453.4,218.3 L453.9,219.0 L455.1,220.3 L455.9,220.4 L457.6,220.3 L458.4,221.4 L459.7,222.1 L461.2,223.3 L462.3,222.9 L464.5,223.1 L465.5,223.1 L465.8,222.9 L467.1,223.7 L468.3,223.7 L470.7,223.2 L471.1,224.3 L472.7,225.0 L473.8,226.1 L474.6,227.5 L475.9,228.5 L476.4,228.9 L477.1,229.3 L478.7,230.2 L479.4,229.6 L480.4,228.8 L480.5,229.9 L481.2,230.8 L482.2,232.6 L483.6,231.8 L485.1,231.4 L486.3,232.3 L486.7,232.5 L488.1,233.5 L489.0,233.8 L489.6,234.6 L489.7,235.8 L490.0,236.8 L491.4,238.1 L492.1,239.4 M443.2,202.6 L443.7,201.6 L444.7,201.6 L445.1,202.6 L444.7,203.5 L443.7,203.5Z M173.5,244.2 L175.0,244.9 L176.8,245.2 L177.6,244.6 L179.0,245.3 L180.3,245.4 L182.0,245.1 L183.9,244.5 M222.0,234.2 L222.8,233.1 L224.0,232.2 L224.4,233.2 L225.1,235.5 L226.4,236.1 M185.8,252.9 L186.4,252.1 L187.6,250.4 L189.3,250.6 L190.9,252.0 L191.5,252.6 M222.3,233.9 L223.5,232.6 L225.1,235.8 M267.2,239.8 L266.6,240.7 L265.7,241.5 L264.6,241.7 L263.9,242.6 L263.7,244.1 L262.6,245.5 L262.0,245.6 L260.9,246.4 L260.7,247.9 L259.8,248.9 L259.0,250.4 L259.7,252.2 L260.1,253.6 L260.2,254.6 L260.7,256.6 L261.3,256.5 L262.2,258.0 L263.6,258.2 L265.0,259.4 L266.0,259.3 L267.5,260.7 L265.6,262.1 L264.7,262.3 L263.8,262.7 L262.2,263.4 L261.5,263.6 L260.4,264.9 L259.4,265.5 L258.6,265.6 L257.2,266.9 L257.0,267.3 L255.8,268.7 L256.0,269.1 L255.1,270.5 L254.3,271.0 L253.5,273.0 L253.0,274.2 L252.0,275.3 L251.8,277.1 M299.4,248.2 L300.1,247.4 L301.1,247.2 L301.7,246.6 L302.9,245.9 L304.0,245.1 L305.2,244.1 L306.6,244.5 L307.2,244.1 L308.4,243.9 L309.6,243.0 L311.4,243.1 L312.7,244.5 L313.3,245.2 L314.7,245.1 L315.4,245.9 L316.2,246.9 L316.5,247.2 L315.8,247.7 L314.9,248.9 L314.5,250.6 L314.0,251.8 L313.0,252.5 L312.1,252.6 L310.5,252.7 L309.1,252.8 L308.0,252.0 L307.2,250.7 L306.0,250.7 L304.3,250.0 L303.8,249.9 L301.7,249.9 L300.8,248.8Z M321.2,241.8 L322.2,241.7 L323.4,240.8 L325.6,241.0 L326.6,241.0 L328.1,242.3 L329.0,242.8 L328.0,244.3 L326.7,244.2 L325.0,244.0 L323.2,243.0 L322.7,243.1Z M282.6,258.3 L283.8,257.4 L284.6,256.1 L285.5,255.9 L287.2,254.9 L288.8,255.7 L288.6,256.9 L288.3,258.1 L287.3,258.8 L286.2,260.0 L284.7,260.0 L284.0,260.4 L283.3,259.6Z M412.4,234.2 L411.7,235.1 L410.8,236.9 L410.6,237.9 L410.2,238.6 L410.5,240.1 L410.5,240.4 L410.7,241.4 L411.3,243.4 L410.9,244.3 L410.9,245.8 L410.5,247.2 L409.4,248.6 L409.5,249.6 L409.4,250.9 L409.3,252.2 L408.3,253.5 L406.4,254.7 L405.4,254.1 L404.9,253.9 L403.4,253.8 L402.3,255.3 L401.7,256.0 L401.0,256.8 L400.0,257.8 L399.1,258.6 L397.8,258.3 L396.1,259.2 L395.4,258.4 L394.5,257.3 L393.2,257.2 L392.1,256.7 L390.3,256.4 L389.2,255.4 L389.3,253.8 L388.8,252.8 L389.5,252.0 L391.5,251.5 L391.4,250.6 L391.3,249.8 L392.4,248.9 L391.7,246.6 L391.3,245.5 L392.0,244.2 L392.2,242.8 L393.0,242.1 L392.1,241.4 L391.2,240.2 L390.9,239.3 L390.8,237.1 L391.6,235.8 L390.3,234.9 L389.1,233.8 L388.1,233.1 L387.8,231.8 M480.7,263.6 L482.0,263.7 L483.9,263.2 L485.2,262.7 L486.5,262.9 L487.8,264.0 L488.8,264.7 L489.3,265.3 L490.7,265.6 L491.0,267.5 M488.6,269.1 L491.8,269.9 M451.3,273.1 L452.1,277.4" fill="none" stroke="#000" stroke-width="0.75" stroke-linejoin="round"/>
<path d="M167.3,91.1 L168.6,91.1 L168.6,92.2 L167.3,92.2Z M193.1,72.5 L193.9,72.5 L193.9,73.3 L193.1,73.3Z M199.7,84.4 L201.0,84.4 L201.0,85.4 L199.7,85.4Z M271.5,67.4 L275.1,68.2 L276.7,69.3 L273.5,69.2Z M451.6,54.1 L452.6,54.1 L452.6,55.1 L451.6,55.1Z M459.3,54.3 L460.2,54.3 L460.2,55.2 L459.3,55.2Z M462.4,53.0 L463.4,53.0 L463.4,53.9 L462.4,53.9Z M469.9,53.5 L470.8,53.5 L470.8,54.4 L469.9,54.4Z M478.3,59.0 L479.3,59.0 L479.3,60.0 L478.3,60.0Z M481.0,65.4 L482.0,65.4 L482.0,66.3 L481.0,66.3Z M194.5,115.3 L197.7,115.0 L199.7,116.1 L197.7,117.2 L195.3,116.9Z M192.4,120.1 L195.3,120.4 L195.6,121.2 L192.7,120.9Z M186.3,113.4 L187.8,113.4 L187.8,114.1 L186.3,114.1Z M224.2,98.1 L226.7,98.1 L226.7,99.2 L224.2,99.2Z M230.3,101.9 L233.3,101.9 L233.3,103.3 L230.3,103.3Z M230.0,94.5 L231.0,94.5 L231.0,94.9 L230.0,94.9Z M214.7,129.8 L217.2,129.8 L217.2,130.9 L214.7,130.9Z M227.9,139.6 L229.4,139.6 L229.4,140.2 L227.9,140.2Z M240.6,147.2 L243.6,147.2 L243.6,148.5 L240.6,148.5Z M243.2,151.6 L245.8,151.6 L245.8,152.7 L243.2,152.7Z M448.9,159.8 L452.9,157.9 L453.4,158.6 L449.7,160.8Z M488.6,173.0 L492.1,176.2 L492.1,177.5 L489.4,175.7Z M272.4,232.3 L276.2,230.8 L276.7,231.8 L273.5,233.4Z M404.5,222.3 L406.9,223.8 L409.6,226.4 L410.5,228.6 L408.9,227.5 L406.1,225.1Z M417.3,198.8 L420.2,198.8 L420.2,200.7 L417.3,200.7Z M411.8,195.4 L413.0,195.4 L413.0,196.2 L411.8,196.2Z M412.7,189.6 L413.7,189.6 L413.7,190.2 L412.7,190.2Z M415.8,202.5 L417.0,202.5 L417.0,203.3 L415.8,203.3Z M419.6,206.1 L420.5,206.1 L420.5,206.7 L419.6,206.7Z M429.0,206.0 L430.2,206.0 L430.2,206.8 L429.0,206.8Z M432.3,205.0 L433.2,205.0 L433.2,205.6 L432.3,205.6Z M308.0,254.4 L308.9,254.4 L308.9,255.3 L308.0,255.3Z M285.1,261.7 L287.3,262.0 L287.3,262.6 L285.1,262.3Z M459.0,227.4 L460.4,227.4 L460.4,228.3 L459.0,228.3Z M465.9,229.1 L466.9,229.1 L466.9,229.8 L465.9,229.8Z M462.7,260.9 L463.7,260.9 L463.7,261.5 L462.7,261.5Z M482.6,263.7 L483.5,263.7 L483.5,264.4 L482.6,264.4Z" fill="#222" stroke="none"/>
</g>
<g transform="translate(0,537)">
<text y="23.7" font-size="12.89" xml:space="preserve"><tspan x="6.77">IFS </tspan><tspan x="30.00">- </tspan><tspan x="38.74" letter-spacing="0.11">Probabilities </tspan><tspan x="122.97" letter-spacing="0.15">total </tspan><tspan x="157.52">precipitation/24h </tspan><tspan x="271.80">&gt; </tspan><tspan x="286.77">100 </tspan><tspan x="315.45">mm, </tspan><tspan x="348.91">Init: </tspan><tspan x="377.93">20260314 </tspan><tspan x="447.05">12z </tspan><tspan x="473.59">- </tspan><tspan x="482.52">Valid: </tspan><tspan x="522.27" letter-spacing="-0.16">20260317:00 </tspan><tspan x="610.82">TU</tspan></text>
<rect x="158.50" y="36.5" width="35.32" height="7.0" fill="#ffff00"/>
<rect x="193.72" y="36.5" width="35.32" height="7.0" fill="#ffd000"/>
<rect x="228.94" y="36.5" width="35.32" height="7.0" fill="#ffa800"/>
<rect x="264.17" y="36.5" width="35.32" height="7.0" fill="#ff8a00"/>
<rect x="299.39" y="36.5" width="35.32" height="7.0" fill="#ff6a00"/>
<rect x="334.61" y="36.5" width="35.32" height="7.0" fill="#ee1a0a"/>
<rect x="369.83" y="36.5" width="35.32" height="7.0" fill="#cc0000"/>
<rect x="405.06" y="36.5" width="35.32" height="7.0" fill="#990000"/>
<rect x="440.28" y="36.5" width="35.32" height="7.0" fill="#660000"/>
<path d="M193.72,36.5 V43.5 M228.94,36.5 V43.5 M264.17,36.5 V43.5 M299.39,36.5 V43.5 M334.61,36.5 V43.5 M369.83,36.5 V43.5 M405.06,36.5 V43.5 M440.28,36.5 V43.5" stroke="#000" stroke-width="0.8" fill="none"/>
<rect x="158.5" y="36.5" width="317.0" height="7.0" fill="none" stroke="#000" stroke-width="1"/>
<text transform="translate(158.50,31.2) scale(1.116,1)" font-size="8.6" text-anchor="middle" fill="#222">10</text>
<text transform="translate(193.72,31.2) scale(1.116,1)" font-size="8.6" text-anchor="middle" fill="#222">25</text>
<text transform="translate(228.94,31.2) scale(1.116,1)" font-size="8.6" text-anchor="middle" fill="#222">40</text>
<text transform="translate(264.17,31.2) scale(1.116,1)" font-size="8.6" text-anchor="middle" fill="#222">50</text>
<text transform="translate(299.39,31.2) scale(1.116,1)" font-size="8.6" text-anchor="middle" fill="#222">60</text>
<text transform="translate(334.61,31.2) scale(1.116,1)" font-size="8.6" text-anchor="middle" fill="#222">70</text>
<text transform="translate(369.83,31.2) scale(1.116,1)" font-size="8.6" text-anchor="middle" fill="#222">80</text>
<text transform="translate(405.06,31.2) scale(1.116,1)" font-size="8.6" text-anchor="middle" fill="#222">90</text>
<text transform="translate(440.28,31.2) scale(1.116,1)" font-size="8.6" text-anchor="middle" fill="#222">95</text>
<text transform="translate(475.50,31.2) scale(1.116,1)" font-size="8.6" text-anchor="middle" fill="#222">100</text>
<rect x="141.0" y="49.4" width="352.1" height="227.95" fill="none" stroke="#222" stroke-width="1"/>
<text transform="translate(488.4,254.2) scale(1.116,1)" font-size="8.6" text-anchor="end" fill="#1a1a1a">from grib files provided by ECMWF</text>
<text transform="translate(488.4,273.4) scale(1.116,1)" font-size="8.6" text-anchor="end" fill="#1a1a1a">©2026 sb@irizone.net</text>
</g>
</svg></body></html>
